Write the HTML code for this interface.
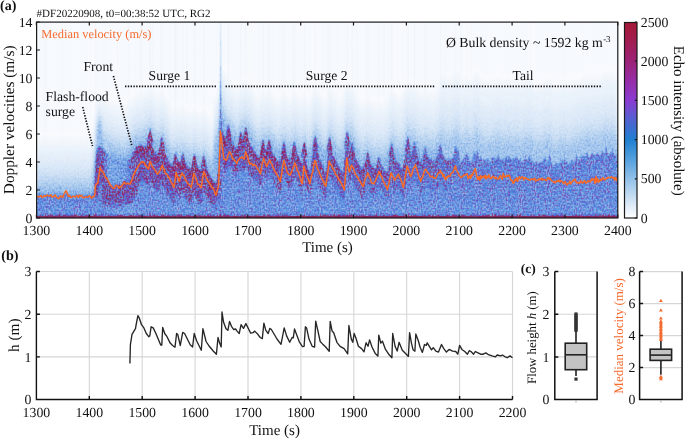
<!DOCTYPE html>
<html><head><meta charset="utf-8"><style>html,body{margin:0;padding:0;background:#fff;width:685px;height:439px;overflow:hidden;position:relative}</style></head>
<body>
<svg width="685" height="439" viewBox="0 0 685 439" style="position:absolute;left:0;top:0;will-change:transform;text-rendering:geometricPrecision" font-family='"Liberation Serif", serif'>
<defs>
<filter id="hm" filterUnits="userSpaceOnUse" x="36.4" y="22" width="581.4" height="196" color-interpolation-filters="sRGB">
<feGaussianBlur in="SourceGraphic" stdDeviation="0.6 1.1" result="b"/>
<feTurbulence type="fractalNoise" baseFrequency="0.93 0.6" numOctaves="2" seed="5" result="n"/>
<feColorMatrix in="n" type="matrix" values="1 0 0 0 0 1 0 0 0 0 1 0 0 0 0 0 0 0 0 1" result="ng0"/>
<feComponentTransfer in="ng0" result="ng"><feFuncR type="gamma" amplitude="2.9" exponent="3" offset="0"/><feFuncG type="gamma" amplitude="2.9" exponent="3" offset="0"/><feFuncB type="gamma" amplitude="2.9" exponent="3" offset="0"/></feComponentTransfer>
<feComponentTransfer in="b" result="b2"><feFuncR type="gamma" amplitude="1" exponent="1.6" offset="0"/><feFuncG type="gamma" amplitude="1" exponent="1.6" offset="0"/><feFuncB type="gamma" amplitude="1" exponent="1.6" offset="0"/></feComponentTransfer>
<feComposite in="b2" in2="ng" operator="arithmetic" k1="1" k2="0" k3="0" k4="0" result="m"/>
<feComposite in="b" in2="b2" operator="arithmetic" k1="0" k2="1" k3="-0.946" k4="0" result="t1"/>
<feComposite in="t1" in2="m" operator="arithmetic" k1="0" k2="1" k3="2.2" k4="0" result="c"/>
<feComponentTransfer in="c">
<feFuncR type="table" tableValues="1.000 0.831 0.627 0.431 0.282 0.333 0.471 0.529 0.569 0.596 0.627"/>
<feFuncG type="table" tableValues="1.000 0.894 0.769 0.627 0.510 0.392 0.267 0.188 0.141 0.118 0.094"/>
<feFuncB type="table" tableValues="1.000 0.965 0.925 0.894 0.863 0.824 0.745 0.588 0.431 0.314 0.227"/>
</feComponentTransfer>
<feConvolveMatrix order="3" kernelMatrix="0 1 0 1 4 1 0 1 0" edgeMode="duplicate" preserveAlpha="true"/>
</filter>
<filter id="hb" filterUnits="userSpaceOnUse" x="0" y="0" width="685" height="260" color-interpolation-filters="sRGB"><feGaussianBlur stdDeviation="0.8 4"/></filter>
<linearGradient id="pb" gradientUnits="userSpaceOnUse" x1="36.4" y1="0" x2="617.8" y2="0">
<stop offset="0" stop-color="rgb(112,112,112)"/>
<stop offset="0.099" stop-color="rgb(112,112,112)"/>
<stop offset="0.103" stop-color="rgb(184,184,184)"/>
<stop offset="0.307" stop-color="rgb(189,189,189)"/>
<stop offset="0.505" stop-color="rgb(184,184,184)"/>
<stop offset="0.694" stop-color="rgb(163,163,163)"/>
<stop offset="0.763" stop-color="rgb(138,138,138)"/>
<stop offset="1" stop-color="rgb(133,133,133)"/>
</linearGradient>
<linearGradient id="cb" x1="0" y1="0" x2="0" y2="1"><stop offset="0.00" stop-color="rgb(165, 24, 55)"/><stop offset="0.10" stop-color="rgb(161, 30, 82)"/><stop offset="0.20" stop-color="rgb(156, 36, 120)"/><stop offset="0.30" stop-color="rgb(150, 45, 168)"/><stop offset="0.40" stop-color="rgb(138, 60, 210)"/><stop offset="0.50" stop-color="rgb(80, 98, 208)"/><stop offset="0.60" stop-color="rgb(31, 128, 208)"/><stop offset="0.70" stop-color="rgb(84, 160, 221)"/><stop offset="0.80" stop-color="rgb(146, 193, 233)"/><stop offset="0.90" stop-color="rgb(203, 224, 243)"/><stop offset="1.00" stop-color="rgb(255, 255, 255)"/></linearGradient>
</defs>
<rect width="685" height="439" fill="#fff"/>
<g filter="url(#hm)">
<rect x="36.4" y="22" width="581.4" height="196" fill="rgb(5,5,5)"/>
<rect x="299.4" y="22" width="1.2" height="196" fill="rgb(7,7,7)"/>
<rect x="533.5" y="22" width="0.8" height="196" fill="rgb(6,6,6)"/>
<rect x="334.0" y="22" width="0.8" height="196" fill="rgb(6,6,6)"/>
<rect x="212.8" y="22" width="0.6" height="196" fill="rgb(7,7,7)"/>
<rect x="554.1" y="22" width="0.6" height="196" fill="rgb(7,7,7)"/>
<rect x="266.7" y="22" width="1.2" height="196" fill="rgb(7,7,7)"/>
<rect x="394.3" y="22" width="0.8" height="196" fill="rgb(7,7,7)"/>
<rect x="520.0" y="22" width="0.6" height="196" fill="rgb(6,6,6)"/>
<rect x="147.0" y="22" width="0.8" height="196" fill="rgb(7,7,7)"/>
<rect x="488.8" y="22" width="1.0" height="196" fill="rgb(7,7,7)"/>
<rect x="526.2" y="22" width="0.8" height="196" fill="rgb(7,7,7)"/>
<rect x="327.0" y="22" width="0.6" height="196" fill="rgb(7,7,7)"/>
<rect x="198.1" y="22" width="0.6" height="196" fill="rgb(8,8,8)"/>
<rect x="219.7" y="22" width="0.8" height="196" fill="rgb(7,7,7)"/>
<rect x="53.7" y="22" width="0.6" height="196" fill="rgb(7,7,7)"/>
<rect x="528.6" y="22" width="1.2" height="196" fill="rgb(6,6,6)"/>
<rect x="46.2" y="22" width="0.6" height="196" fill="rgb(6,6,6)"/>
<rect x="575.4" y="22" width="0.6" height="196" fill="rgb(7,7,7)"/>
<rect x="606.4" y="22" width="1.2" height="196" fill="rgb(7,7,7)"/>
<rect x="365.6" y="22" width="0.8" height="196" fill="rgb(8,8,8)"/>
<rect x="193.2" y="22" width="0.6" height="196" fill="rgb(6,6,6)"/>
<rect x="45.2" y="22" width="1.2" height="196" fill="rgb(8,8,8)"/>
<rect x="105.0" y="22" width="0.8" height="196" fill="rgb(8,8,8)"/>
<rect x="42.8" y="22" width="1.2" height="196" fill="rgb(8,8,8)"/>
<rect x="139.7" y="22" width="0.8" height="196" fill="rgb(7,7,7)"/>
<rect x="147.3" y="22" width="0.8" height="196" fill="rgb(7,7,7)"/>
<rect x="259.5" y="22" width="1.2" height="196" fill="rgb(7,7,7)"/>
<rect x="160.2" y="22" width="1.0" height="196" fill="rgb(8,8,8)"/>
<rect x="603.2" y="22" width="1.0" height="196" fill="rgb(8,8,8)"/>
<rect x="47.8" y="22" width="0.8" height="196" fill="rgb(7,7,7)"/>
<rect x="533.1" y="22" width="0.6" height="196" fill="rgb(5,5,5)"/>
<rect x="121.5" y="22" width="1.2" height="196" fill="rgb(6,6,6)"/>
<rect x="485.6" y="22" width="1.0" height="196" fill="rgb(8,8,8)"/>
<rect x="260.9" y="22" width="0.6" height="196" fill="rgb(6,6,6)"/>
<rect x="375.2" y="22" width="0.8" height="196" fill="rgb(5,5,5)"/>
<rect x="250.7" y="22" width="1.2" height="196" fill="rgb(6,6,6)"/>
<rect x="377.8" y="22" width="0.8" height="196" fill="rgb(8,8,8)"/>
<rect x="142.7" y="22" width="0.8" height="196" fill="rgb(6,6,6)"/>
<rect x="169.2" y="22" width="0.8" height="196" fill="rgb(8,8,8)"/>
<rect x="128.5" y="22" width="0.8" height="196" fill="rgb(7,7,7)"/>
<rect x="262.1" y="22" width="1.2" height="196" fill="rgb(7,7,7)"/>
<rect x="281.4" y="22" width="0.6" height="196" fill="rgb(6,6,6)"/>
<rect x="334.3" y="22" width="1.0" height="196" fill="rgb(6,6,6)"/>
<rect x="446.0" y="22" width="1.0" height="196" fill="rgb(7,7,7)"/>
<rect x="562.5" y="22" width="1.2" height="196" fill="rgb(6,6,6)"/>
<rect x="138.4" y="22" width="0.6" height="196" fill="rgb(6,6,6)"/>
<rect x="315.1" y="22" width="0.6" height="196" fill="rgb(6,6,6)"/>
<rect x="569.8" y="22" width="0.8" height="196" fill="rgb(8,8,8)"/>
<rect x="76.6" y="22" width="1.2" height="196" fill="rgb(7,7,7)"/>
<rect x="71.5" y="22" width="0.8" height="196" fill="rgb(6,6,6)"/>
<rect x="345.1" y="22" width="0.8" height="196" fill="rgb(6,6,6)"/>
<rect x="116.9" y="22" width="1.2" height="196" fill="rgb(8,8,8)"/>
<rect x="418.3" y="22" width="0.8" height="196" fill="rgb(7,7,7)"/>
<rect x="573.4" y="22" width="1.2" height="196" fill="rgb(8,8,8)"/>
<rect x="443.9" y="22" width="0.6" height="196" fill="rgb(5,5,5)"/>
<rect x="406.3" y="22" width="1.2" height="196" fill="rgb(6,6,6)"/>
<rect x="217.3" y="22" width="0.8" height="196" fill="rgb(8,8,8)"/>
<rect x="80.2" y="22" width="1.0" height="196" fill="rgb(8,8,8)"/>
<rect x="559.8" y="22" width="0.8" height="196" fill="rgb(8,8,8)"/>
<rect x="568.4" y="22" width="1.0" height="196" fill="rgb(6,6,6)"/>
<rect x="311.6" y="22" width="0.6" height="196" fill="rgb(8,8,8)"/>
<rect x="278.9" y="22" width="0.6" height="196" fill="rgb(8,8,8)"/>
<rect x="369.4" y="22" width="1.2" height="196" fill="rgb(7,7,7)"/>
<rect x="43.6" y="22" width="0.6" height="196" fill="rgb(6,6,6)"/>
<rect x="408.1" y="22" width="1.0" height="196" fill="rgb(8,8,8)"/>
<rect x="459.8" y="22" width="1.2" height="196" fill="rgb(8,8,8)"/>
<rect x="440.0" y="22" width="1.2" height="196" fill="rgb(7,7,7)"/>
<rect x="523.8" y="22" width="0.6" height="196" fill="rgb(7,7,7)"/>
<rect x="335.5" y="22" width="1.0" height="196" fill="rgb(7,7,7)"/>
<rect x="316.0" y="22" width="0.8" height="196" fill="rgb(8,8,8)"/>
<rect x="102.0" y="22" width="1.2" height="196" fill="rgb(6,6,6)"/>
<rect x="43.0" y="22" width="1.0" height="196" fill="rgb(6,6,6)"/>
<rect x="392.1" y="22" width="0.8" height="196" fill="rgb(8,8,8)"/>
<rect x="235.5" y="22" width="1.2" height="196" fill="rgb(7,7,7)"/>
<rect x="176.8" y="22" width="1.2" height="196" fill="rgb(7,7,7)"/>
<rect x="151.8" y="22" width="1.2" height="196" fill="rgb(8,8,8)"/>
<rect x="475.1" y="22" width="0.8" height="196" fill="rgb(8,8,8)"/>
<rect x="259.9" y="22" width="1.0" height="196" fill="rgb(6,6,6)"/>
<rect x="114.6" y="22" width="1.0" height="196" fill="rgb(8,8,8)"/>
<rect x="529.8" y="22" width="0.6" height="196" fill="rgb(8,8,8)"/>
<rect x="197.3" y="22" width="0.8" height="196" fill="rgb(6,6,6)"/>
<rect x="310.4" y="22" width="0.8" height="196" fill="rgb(8,8,8)"/>
<rect x="258.8" y="22" width="1.2" height="196" fill="rgb(7,7,7)"/>
<rect x="452.8" y="22" width="1.2" height="196" fill="rgb(6,6,6)"/>
<rect x="518.2" y="22" width="1.0" height="196" fill="rgb(8,8,8)"/>
<rect x="60.5" y="22" width="1.0" height="196" fill="rgb(7,7,7)"/>
<rect x="216.1" y="22" width="0.6" height="196" fill="rgb(7,7,7)"/>
<rect x="272.0" y="22" width="0.8" height="196" fill="rgb(5,5,5)"/>
<rect x="518.8" y="22" width="0.8" height="196" fill="rgb(8,8,8)"/>
<rect x="499.7" y="22" width="0.6" height="196" fill="rgb(7,7,7)"/>
<rect x="402.7" y="22" width="1.0" height="196" fill="rgb(8,8,8)"/>
<rect x="434.4" y="22" width="0.8" height="196" fill="rgb(8,8,8)"/>
<rect x="185.3" y="22" width="0.6" height="196" fill="rgb(8,8,8)"/>
<rect x="347.4" y="22" width="0.6" height="196" fill="rgb(6,6,6)"/>
<rect x="194.7" y="22" width="1.0" height="196" fill="rgb(7,7,7)"/>
<rect x="586.9" y="22" width="0.8" height="196" fill="rgb(7,7,7)"/>
<rect x="496.8" y="22" width="0.8" height="196" fill="rgb(6,6,6)"/>
<rect x="578.6" y="22" width="1.2" height="196" fill="rgb(6,6,6)"/>
<rect x="300.1" y="22" width="0.6" height="196" fill="rgb(7,7,7)"/>
<rect x="367.1" y="22" width="1.0" height="196" fill="rgb(7,7,7)"/>
<rect x="415.1" y="22" width="0.8" height="196" fill="rgb(6,6,6)"/>
<rect x="540.0" y="22" width="0.6" height="196" fill="rgb(6,6,6)"/>
<rect x="559.7" y="22" width="0.6" height="196" fill="rgb(8,8,8)"/>
<rect x="348.6" y="22" width="1.0" height="196" fill="rgb(6,6,6)"/>
<rect x="454.0" y="22" width="0.6" height="196" fill="rgb(6,6,6)"/>
<rect x="84.5" y="22" width="1.2" height="196" fill="rgb(6,6,6)"/>
<rect x="281.4" y="22" width="1.0" height="196" fill="rgb(7,7,7)"/>
<rect x="52.9" y="22" width="0.6" height="196" fill="rgb(7,7,7)"/>
<rect x="56.8" y="22" width="1.0" height="196" fill="rgb(7,7,7)"/>
<rect x="569.0" y="22" width="1.2" height="196" fill="rgb(6,6,6)"/>
<rect x="336.7" y="22" width="1.2" height="196" fill="rgb(8,8,8)"/>
<rect x="322.8" y="22" width="0.6" height="196" fill="rgb(8,8,8)"/>
<rect x="291.9" y="22" width="1.0" height="196" fill="rgb(8,8,8)"/>
<rect x="362.9" y="22" width="0.8" height="196" fill="rgb(7,7,7)"/>
<rect x="526.9" y="22" width="1.0" height="196" fill="rgb(6,6,6)"/>
<rect x="258.0" y="22" width="0.8" height="196" fill="rgb(6,6,6)"/>
<rect x="118.5" y="22" width="1.0" height="196" fill="rgb(7,7,7)"/>
<rect x="153.2" y="22" width="0.6" height="196" fill="rgb(7,7,7)"/>
<rect x="388.3" y="22" width="0.6" height="196" fill="rgb(7,7,7)"/>
<rect x="62.0" y="22" width="1.2" height="196" fill="rgb(7,7,7)"/>
<rect x="611.6" y="22" width="0.6" height="196" fill="rgb(7,7,7)"/>
<rect x="438.1" y="22" width="0.6" height="196" fill="rgb(8,8,8)"/>
<rect x="303.2" y="22" width="1.2" height="196" fill="rgb(6,6,6)"/>
<rect x="311.5" y="22" width="0.8" height="196" fill="rgb(6,6,6)"/>
<rect x="560.2" y="22" width="1.2" height="196" fill="rgb(7,7,7)"/>
<rect x="99.5" y="22" width="1.2" height="196" fill="rgb(7,7,7)"/>
<rect x="574.4" y="22" width="0.8" height="196" fill="rgb(8,8,8)"/>
<rect x="604.6" y="22" width="0.6" height="196" fill="rgb(6,6,6)"/>
<rect x="168.5" y="22" width="1.0" height="196" fill="rgb(6,6,6)"/>
<rect x="243.0" y="22" width="1.2" height="196" fill="rgb(6,6,6)"/>
<rect x="461.3" y="22" width="0.6" height="196" fill="rgb(8,8,8)"/>
<rect x="398.9" y="22" width="0.8" height="196" fill="rgb(8,8,8)"/>
<rect x="547.3" y="22" width="0.6" height="196" fill="rgb(7,7,7)"/>
<rect x="276.8" y="22" width="0.8" height="196" fill="rgb(7,7,7)"/>
<rect x="538.6" y="22" width="0.8" height="196" fill="rgb(7,7,7)"/>
<rect x="531.3" y="22" width="0.8" height="196" fill="rgb(6,6,6)"/>
<rect x="467.1" y="22" width="1.0" height="196" fill="rgb(8,8,8)"/>
<rect x="220.0" y="22" width="1.0" height="196" fill="rgb(8,8,8)"/>
<rect x="149.6" y="22" width="0.8" height="196" fill="rgb(8,8,8)"/>
<rect x="114.3" y="22" width="0.8" height="196" fill="rgb(6,6,6)"/>
<rect x="87.6" y="22" width="1.2" height="196" fill="rgb(6,6,6)"/>
<rect x="520.2" y="22" width="1.2" height="196" fill="rgb(7,7,7)"/>
<rect x="446.2" y="22" width="0.8" height="196" fill="rgb(7,7,7)"/>
<rect x="434.8" y="22" width="0.6" height="196" fill="rgb(6,6,6)"/>
<rect x="367.7" y="22" width="1.0" height="196" fill="rgb(8,8,8)"/>
<rect x="599.4" y="22" width="0.6" height="196" fill="rgb(8,8,8)"/>
<rect x="405.4" y="22" width="1.0" height="196" fill="rgb(7,7,7)"/>
<rect x="435.1" y="22" width="0.8" height="196" fill="rgb(8,8,8)"/>
<rect x="316.7" y="22" width="0.6" height="196" fill="rgb(5,5,5)"/>
<rect x="357.1" y="22" width="1.2" height="196" fill="rgb(6,6,6)"/>
<rect x="143.7" y="22" width="0.8" height="196" fill="rgb(6,6,6)"/>
<rect x="128.3" y="22" width="1.0" height="196" fill="rgb(8,8,8)"/>
<rect x="91.8" y="22" width="0.6" height="196" fill="rgb(6,6,6)"/>
<rect x="432.3" y="22" width="0.6" height="196" fill="rgb(8,8,8)"/>
<rect x="226.4" y="22" width="1.2" height="196" fill="rgb(7,7,7)"/>
<rect x="242.5" y="22" width="0.8" height="196" fill="rgb(7,7,7)"/>
<rect x="44.1" y="22" width="0.6" height="196" fill="rgb(8,8,8)"/>
<rect x="141.8" y="22" width="1.2" height="196" fill="rgb(6,6,6)"/>
<rect x="251.6" y="22" width="0.8" height="196" fill="rgb(7,7,7)"/>
<rect x="91.5" y="22" width="0.6" height="196" fill="rgb(6,6,6)"/>
<rect x="85.7" y="22" width="1.2" height="196" fill="rgb(7,7,7)"/>
<rect x="147.4" y="22" width="1.0" height="196" fill="rgb(8,8,8)"/>
<rect x="186.6" y="22" width="0.6" height="196" fill="rgb(8,8,8)"/>
<rect x="488.7" y="22" width="1.2" height="196" fill="rgb(6,6,6)"/>
<rect x="228.2" y="22" width="1.0" height="196" fill="rgb(8,8,8)"/>
<rect x="481.3" y="22" width="1.2" height="196" fill="rgb(6,6,6)"/>
<rect x="143.9" y="22" width="1.0" height="196" fill="rgb(6,6,6)"/>
<rect x="95.0" y="22" width="1.0" height="196" fill="rgb(8,8,8)"/>
<rect x="561.2" y="22" width="0.6" height="196" fill="rgb(6,6,6)"/>
<rect x="585.6" y="22" width="1.0" height="196" fill="rgb(6,6,6)"/>
<rect x="420.0" y="22" width="0.8" height="196" fill="rgb(7,7,7)"/>
<rect x="262.9" y="22" width="1.2" height="196" fill="rgb(7,7,7)"/>
<rect x="444.1" y="22" width="1.2" height="196" fill="rgb(8,8,8)"/>
<rect x="49.7" y="22" width="0.6" height="196" fill="rgb(8,8,8)"/>
<rect x="185.6" y="22" width="1.2" height="196" fill="rgb(7,7,7)"/>
<rect x="479.0" y="22" width="1.2" height="196" fill="rgb(5,5,5)"/>
<rect x="186.7" y="22" width="1.0" height="196" fill="rgb(8,8,8)"/>
<rect x="356.2" y="22" width="1.2" height="196" fill="rgb(8,8,8)"/>
<rect x="366.6" y="22" width="0.6" height="196" fill="rgb(7,7,7)"/>
<rect x="507.1" y="22" width="0.6" height="196" fill="rgb(7,7,7)"/>
<rect x="425.0" y="22" width="0.6" height="196" fill="rgb(7,7,7)"/>
<rect x="582.1" y="22" width="1.2" height="196" fill="rgb(7,7,7)"/>
<rect x="134.7" y="22" width="1.2" height="196" fill="rgb(7,7,7)"/>
<rect x="383.2" y="22" width="1.2" height="196" fill="rgb(8,8,8)"/>
<rect x="281.0" y="22" width="1.2" height="196" fill="rgb(7,7,7)"/>
<rect x="248.9" y="22" width="1.0" height="196" fill="rgb(7,7,7)"/>
<rect x="193.2" y="22" width="1.0" height="196" fill="rgb(7,7,7)"/>
<rect x="471.1" y="22" width="0.6" height="196" fill="rgb(5,5,5)"/>
<rect x="178.9" y="22" width="0.6" height="196" fill="rgb(7,7,7)"/>
<rect x="274.1" y="22" width="1.2" height="196" fill="rgb(6,6,6)"/>
<rect x="219.6" y="22" width="1.2" height="196" fill="rgb(6,6,6)"/>
<rect x="611.3" y="22" width="1.0" height="196" fill="rgb(6,6,6)"/>
<rect x="562.9" y="22" width="1.2" height="196" fill="rgb(8,8,8)"/>
<rect x="182.3" y="22" width="0.8" height="196" fill="rgb(5,5,5)"/>
<rect x="93.7" y="22" width="1.2" height="196" fill="rgb(6,6,6)"/>
<rect x="594.5" y="22" width="0.8" height="196" fill="rgb(7,7,7)"/>
<rect x="103.3" y="22" width="1.2" height="196" fill="rgb(7,7,7)"/>
<rect x="154.8" y="22" width="0.6" height="196" fill="rgb(6,6,6)"/>
<rect x="126.4" y="22" width="1.0" height="196" fill="rgb(7,7,7)"/>
<rect x="424.7" y="22" width="1.2" height="196" fill="rgb(7,7,7)"/>
<rect x="408.3" y="22" width="1.2" height="196" fill="rgb(6,6,6)"/>
<rect x="468.9" y="22" width="0.8" height="196" fill="rgb(8,8,8)"/>
<rect x="463.3" y="22" width="0.8" height="196" fill="rgb(7,7,7)"/>
<rect x="328.8" y="22" width="1.0" height="196" fill="rgb(8,8,8)"/>
<rect x="399.8" y="22" width="1.0" height="196" fill="rgb(6,6,6)"/>
<rect x="390.9" y="22" width="0.8" height="196" fill="rgb(7,7,7)"/>
<rect x="474.4" y="22" width="0.8" height="196" fill="rgb(8,8,8)"/>
<rect x="328.3" y="22" width="0.8" height="196" fill="rgb(8,8,8)"/>
<rect x="59.4" y="22" width="0.6" height="196" fill="rgb(5,5,5)"/>
<rect x="187.3" y="22" width="0.6" height="196" fill="rgb(7,7,7)"/>
<rect x="96.0" y="22" width="1.0" height="196" fill="rgb(6,6,6)"/>
<rect x="86.7" y="22" width="0.8" height="196" fill="rgb(7,7,7)"/>
<rect x="403.3" y="22" width="1.0" height="196" fill="rgb(7,7,7)"/>
<rect x="242.3" y="22" width="1.0" height="196" fill="rgb(6,6,6)"/>
<rect x="469.4" y="22" width="0.6" height="196" fill="rgb(8,8,8)"/>
<rect x="296.5" y="22" width="0.8" height="196" fill="rgb(7,7,7)"/>
<rect x="470.9" y="22" width="1.2" height="196" fill="rgb(8,8,8)"/>
<rect x="250.9" y="22" width="1.0" height="196" fill="rgb(6,6,6)"/>
<rect x="477.7" y="22" width="0.8" height="196" fill="rgb(7,7,7)"/>
<rect x="251.1" y="22" width="0.6" height="196" fill="rgb(7,7,7)"/>
<rect x="128.1" y="22" width="1" height="136.0" fill="rgb(11,11,11)"/>
<rect x="128.0" y="133.0" width="1.2" height="25" fill="rgb(41,41,41)"/>
<rect x="140.6" y="22" width="1" height="122.4" fill="rgb(11,11,11)"/>
<rect x="140.5" y="119.4" width="1.2" height="25" fill="rgb(41,41,41)"/>
<rect x="149.7" y="22" width="1" height="112.6" fill="rgb(11,11,11)"/>
<rect x="149.6" y="109.6" width="1.2" height="25" fill="rgb(41,41,41)"/>
<rect x="161.5" y="22" width="1" height="120.0" fill="rgb(11,11,11)"/>
<rect x="161.4" y="117.0" width="1.2" height="25" fill="rgb(41,41,41)"/>
<rect x="175.0" y="22" width="1" height="136.0" fill="rgb(11,11,11)"/>
<rect x="174.9" y="133.0" width="1.2" height="25" fill="rgb(41,41,41)"/>
<rect x="182.4" y="22" width="1" height="136.0" fill="rgb(11,11,11)"/>
<rect x="182.3" y="133.0" width="1.2" height="25" fill="rgb(41,41,41)"/>
<rect x="193.9" y="22" width="1" height="137.2" fill="rgb(11,11,11)"/>
<rect x="193.8" y="134.2" width="1.2" height="25" fill="rgb(41,41,41)"/>
<rect x="203.3" y="22" width="1" height="138.4" fill="rgb(11,11,11)"/>
<rect x="203.2" y="135.4" width="1.2" height="25" fill="rgb(41,41,41)"/>
<rect x="219.4" y="22" width="1" height="90.0" fill="rgb(11,11,11)"/>
<rect x="219.3" y="87.0" width="1.2" height="25" fill="rgb(41,41,41)"/>
<rect x="228.0" y="22" width="1" height="107.7" fill="rgb(11,11,11)"/>
<rect x="227.9" y="104.7" width="1.2" height="25" fill="rgb(41,41,41)"/>
<rect x="240.3" y="22" width="1" height="115.0" fill="rgb(11,11,11)"/>
<rect x="240.2" y="112.0" width="1.2" height="25" fill="rgb(41,41,41)"/>
<rect x="245.2" y="22" width="1" height="110.1" fill="rgb(11,11,11)"/>
<rect x="245.1" y="107.1" width="1.2" height="25" fill="rgb(41,41,41)"/>
<rect x="262.5" y="22" width="1" height="122.4" fill="rgb(11,11,11)"/>
<rect x="262.4" y="119.4" width="1.2" height="25" fill="rgb(41,41,41)"/>
<rect x="268.6" y="22" width="1" height="122.4" fill="rgb(11,11,11)"/>
<rect x="268.5" y="119.4" width="1.2" height="25" fill="rgb(41,41,41)"/>
<rect x="283.4" y="22" width="1" height="124.9" fill="rgb(11,11,11)"/>
<rect x="283.3" y="121.9" width="1.2" height="25" fill="rgb(41,41,41)"/>
<rect x="293.7" y="22" width="1" height="124.9" fill="rgb(11,11,11)"/>
<rect x="293.6" y="121.9" width="1.2" height="25" fill="rgb(41,41,41)"/>
<rect x="303.9" y="22" width="1" height="125.0" fill="rgb(11,11,11)"/>
<rect x="303.8" y="122.0" width="1.2" height="25" fill="rgb(41,41,41)"/>
<rect x="314.8" y="22" width="1" height="118.8" fill="rgb(11,11,11)"/>
<rect x="314.7" y="115.8" width="1.2" height="25" fill="rgb(41,41,41)"/>
<rect x="329.1" y="22" width="1" height="120.0" fill="rgb(11,11,11)"/>
<rect x="329.0" y="117.0" width="1.2" height="25" fill="rgb(41,41,41)"/>
<rect x="346.8" y="22" width="1" height="115.1" fill="rgb(11,11,11)"/>
<rect x="346.7" y="112.1" width="1.2" height="25" fill="rgb(41,41,41)"/>
<rect x="351.7" y="22" width="1" height="125.0" fill="rgb(11,11,11)"/>
<rect x="351.6" y="122.0" width="1.2" height="25" fill="rgb(41,41,41)"/>
<rect x="367.2" y="22" width="1" height="134.8" fill="rgb(11,11,11)"/>
<rect x="367.1" y="131.8" width="1.2" height="25" fill="rgb(41,41,41)"/>
<rect x="378.3" y="22" width="1" height="139.7" fill="rgb(11,11,11)"/>
<rect x="378.2" y="136.7" width="1.2" height="25" fill="rgb(41,41,41)"/>
<rect x="391.1" y="22" width="1" height="126.2" fill="rgb(11,11,11)"/>
<rect x="391.0" y="123.2" width="1.2" height="25" fill="rgb(41,41,41)"/>
<rect x="407.4" y="22" width="1" height="120.0" fill="rgb(11,11,11)"/>
<rect x="407.3" y="117.0" width="1.2" height="25" fill="rgb(41,41,41)"/>
<rect x="414.0" y="22" width="1" height="125.0" fill="rgb(11,11,11)"/>
<rect x="413.9" y="122.0" width="1.2" height="25" fill="rgb(41,41,41)"/>
<rect x="424.6" y="22" width="1" height="129.9" fill="rgb(11,11,11)"/>
<rect x="424.5" y="126.9" width="1.2" height="25" fill="rgb(41,41,41)"/>
<rect x="439.9" y="22" width="1" height="127.4" fill="rgb(11,11,11)"/>
<rect x="439.8" y="124.4" width="1.2" height="25" fill="rgb(41,41,41)"/>
<rect x="455.2" y="22" width="1" height="128.6" fill="rgb(11,11,11)"/>
<rect x="455.1" y="125.6" width="1.2" height="25" fill="rgb(41,41,41)"/>
<g filter="url(#hb)">
<path d="M36.4,142.6 L37.4,142.6 L38.4,142.6 L39.4,142.7 L40.4,142.7 L41.4,142.7 L42.4,142.7 L43.4,142.7 L44.4,142.8 L45.4,142.8 L46.4,142.8 L47.4,142.8 L48.4,142.8 L49.4,142.9 L50.4,142.9 L51.4,142.9 L52.4,142.9 L53.4,142.9 L54.4,143.0 L55.4,143.0 L56.4,143.0 L57.4,143.0 L58.4,143.0 L59.4,143.1 L60.4,143.1 L61.4,143.1 L62.4,143.1 L63.4,143.1 L64.4,143.1 L65.4,143.1 L66.4,143.1 L67.4,143.1 L68.4,143.1 L69.4,143.1 L70.4,143.1 L71.4,143.1 L72.4,143.1 L73.4,143.1 L74.4,143.1 L75.4,143.1 L76.4,143.1 L77.4,143.1 L78.4,143.1 L79.4,143.1 L80.4,143.1 L81.4,143.1 L82.4,143.1 L83.4,143.1 L84.4,143.1 L85.4,143.1 L86.4,143.1 L87.4,143.1 L88.4,143.1 L89.4,143.1 L90.4,143.1 L91.4,143.1 L92.4,138.4 L93.4,128.7 L94.4,120.9 L95.4,109.8 L96.4,102.3 L97.4,100.5 L98.4,99.7 L99.4,99.3 L100.4,99.5 L101.4,99.7 L102.4,100.2 L103.4,101.2 L104.4,102.1 L105.4,103.1 L106.4,103.9 L107.4,104.4 L108.4,104.9 L109.4,105.4 L110.4,105.9 L111.4,106.4 L112.4,106.9 L113.4,107.4 L114.4,107.9 L115.4,108.4 L116.4,108.9 L117.4,109.4 L118.4,109.9 L119.4,110.4 L120.4,109.9 L121.4,110.3 L122.4,110.8 L123.4,111.2 L124.4,111.7 L125.4,111.1 L126.4,109.6 L127.4,108.2 L128.4,107.1 L129.4,106.7 L130.4,105.8 L131.4,104.0 L132.4,102.7 L133.4,101.3 L134.4,100.4 L135.4,99.6 L136.4,98.9 L137.4,98.3 L138.4,98.1 L139.4,97.9 L140.4,97.8 L141.4,97.7 L142.4,98.0 L143.4,96.5 L144.4,94.6 L145.4,94.5 L146.4,94.2 L147.4,93.8 L148.4,93.5 L149.4,91.6 L150.4,89.3 L151.4,92.7 L152.4,95.0 L153.4,95.8 L154.4,96.7 L155.4,97.6 L156.4,98.4 L157.4,101.7 L158.4,100.3 L159.4,99.0 L160.4,97.6 L161.4,96.2 L162.4,96.2 L163.4,98.2 L164.4,100.2 L165.4,101.4 L166.4,102.5 L167.4,103.6 L168.4,105.4 L169.4,108.5 L170.4,111.1 L171.4,112.7 L172.4,114.3 L173.4,115.0 L174.4,113.3 L175.4,111.5 L176.4,112.0 L177.4,112.5 L178.4,113.1 L179.4,113.5 L180.4,112.9 L181.4,112.2 L182.4,111.5 L183.4,111.6 L184.4,112.5 L185.4,113.4 L186.4,114.3 L187.4,115.1 L188.4,115.7 L189.4,116.5 L190.4,116.9 L191.4,117.3 L192.4,115.8 L193.4,114.1 L194.4,112.4 L195.4,113.5 L196.4,114.6 L197.4,115.7 L198.4,116.8 L199.4,117.4 L200.4,117.7 L201.4,118.5 L202.4,116.5 L203.4,114.5 L204.4,114.6 L205.4,116.1 L206.4,117.6 L207.4,119.1 L208.4,120.0 L209.4,120.8 L210.4,122.4 L211.4,124.7 L212.4,127.0 L213.4,115.1 L214.4,100.2 L215.4,100.8 L216.4,100.2 L217.4,97.1 L218.4,94.0 L219.4,80.6 L220.4,67.8 L221.4,72.2 L222.4,74.5 L223.4,75.7 L224.4,77.0 L225.4,78.0 L226.4,81.6 L227.4,86.4 L228.4,83.5 L229.4,84.7 L230.4,86.6 L231.4,88.1 L232.4,89.0 L233.4,90.0 L234.4,90.9 L235.4,92.5 L236.4,94.6 L237.4,94.8 L238.4,94.3 L239.4,90.4 L240.4,87.9 L241.4,87.8 L242.4,89.2 L243.4,87.9 L244.4,86.3 L245.4,84.7 L246.4,85.4 L247.4,87.1 L248.4,88.6 L249.4,89.4 L250.4,90.3 L251.4,91.1 L252.4,92.8 L253.4,95.3 L254.4,97.5 L255.4,99.0 L256.4,100.5 L257.4,101.2 L258.4,101.9 L259.4,102.3 L260.4,100.4 L261.4,98.5 L262.4,96.6 L263.4,95.9 L264.4,97.2 L265.4,98.4 L266.4,97.5 L267.4,96.6 L268.4,95.7 L269.4,95.4 L270.4,96.6 L271.4,97.7 L272.4,98.8 L273.4,99.7 L274.4,100.4 L275.4,101.4 L276.4,103.3 L277.4,104.6 L278.4,104.5 L279.4,104.1 L280.4,102.4 L281.4,100.8 L282.4,99.1 L283.4,97.5 L284.4,97.4 L285.4,98.8 L286.4,100.3 L287.4,101.7 L288.4,102.4 L289.4,102.8 L290.4,102.6 L291.4,101.0 L292.4,99.3 L293.4,97.6 L294.4,96.5 L295.4,97.6 L296.4,98.6 L297.4,99.7 L298.4,100.6 L299.4,101.7 L300.4,102.8 L301.4,103.9 L302.4,104.5 L303.4,100.1 L304.4,95.6 L305.4,99.7 L306.4,103.2 L307.4,104.8 L308.4,105.5 L309.4,105.2 L310.4,104.3 L311.4,100.8 L312.4,97.4 L313.4,93.9 L314.4,91.3 L315.4,89.4 L316.4,92.3 L317.4,94.8 L318.4,96.0 L319.4,97.2 L320.4,98.4 L321.4,99.5 L322.4,103.6 L323.4,103.1 L324.4,104.3 L325.4,105.5 L326.4,103.8 L327.4,99.2 L328.4,94.6 L329.4,90.7 L330.4,91.8 L331.4,94.0 L332.4,95.8 L333.4,96.7 L334.4,97.6 L335.4,98.6 L336.4,100.7 L337.4,103.9 L338.4,106.5 L339.4,106.1 L340.4,103.1 L341.4,101.0 L342.4,101.9 L343.4,101.0 L344.4,96.0 L345.4,91.0 L346.4,87.1 L347.4,84.2 L348.4,87.8 L349.4,91.0 L350.4,90.1 L351.4,89.2 L352.4,88.8 L353.4,90.5 L354.4,95.8 L355.4,98.6 L356.4,99.5 L357.4,100.3 L358.4,101.3 L359.4,103.8 L360.4,106.4 L361.4,108.7 L362.4,108.0 L363.4,107.1 L364.4,106.2 L365.4,105.3 L366.4,104.0 L367.4,102.6 L368.4,102.9 L369.4,103.8 L370.4,104.8 L371.4,105.7 L372.4,106.3 L373.4,106.9 L374.4,108.0 L375.4,109.2 L376.4,108.9 L377.4,107.9 L378.4,106.8 L379.4,106.8 L380.4,107.5 L381.4,108.2 L382.4,108.9 L383.4,109.3 L384.4,107.0 L385.4,104.4 L386.4,104.7 L387.4,105.2 L388.4,102.2 L389.4,99.3 L390.4,96.3 L391.4,93.3 L392.4,94.0 L393.4,95.7 L394.4,97.4 L395.4,98.2 L396.4,98.5 L397.4,98.7 L398.4,99.9 L399.4,102.6 L400.4,101.7 L401.4,100.0 L402.4,99.0 L403.4,96.7 L404.4,94.3 L405.4,91.9 L406.4,89.3 L407.4,86.5 L408.4,86.2 L409.4,88.5 L410.4,90.8 L411.4,91.0 L412.4,89.8 L413.4,88.5 L414.4,88.5 L415.4,91.0 L416.4,92.2 L417.4,93.5 L418.4,94.7 L419.4,95.5 L420.4,96.2 L421.4,98.1 L422.4,98.9 L423.4,97.3 L424.4,95.5 L425.4,94.4 L426.4,95.1 L427.4,95.8 L428.4,96.5 L429.4,97.1 L430.4,97.4 L431.4,97.7 L432.4,98.6 L433.4,97.9 L434.4,97.0 L435.4,95.9 L436.4,94.9 L437.4,93.8 L438.4,92.8 L439.4,91.7 L440.4,77.4 L441.4,78.3 L442.4,79.2 L443.4,80.0 L444.4,80.9 L445.4,81.7 L446.4,81.9 L447.4,82.9 L448.4,84.0 L449.4,84.6 L450.4,84.4 L451.4,82.0 L452.4,80.3 L453.4,80.0 L454.4,79.0 L455.4,78.5 L456.4,79.0 L457.4,76.3 L458.4,76.0 L459.4,80.0 L460.4,83.4 L461.4,87.9 L462.4,86.3 L463.4,84.6 L464.4,83.0 L465.4,81.3 L466.4,80.4 L467.4,80.7 L468.4,82.7 L469.4,84.6 L470.4,87.4 L471.4,86.1 L472.4,82.8 L473.4,81.1 L474.4,79.0 L475.4,78.7 L476.4,78.6 L477.4,76.4 L478.4,80.2 L479.4,81.9 L480.4,82.8 L481.4,84.2 L482.4,85.1 L483.4,86.1 L484.4,87.1 L485.4,87.0 L486.4,86.3 L487.4,85.5 L488.4,85.8 L489.4,87.9 L490.4,87.2 L491.4,86.1 L492.4,84.4 L493.4,84.9 L494.4,85.2 L495.4,85.2 L496.4,83.6 L497.4,83.0 L498.4,81.3 L499.4,83.0 L500.4,84.1 L501.4,85.6 L502.4,86.2 L503.4,86.1 L504.4,84.7 L505.4,84.9 L506.4,84.7 L507.4,84.0 L508.4,83.8 L509.4,83.9 L510.4,84.8 L511.4,86.0 L512.4,86.5 L513.4,85.2 L514.4,84.7 L515.4,84.5 L516.4,82.8 L517.4,84.3 L518.4,85.3 L519.4,86.6 L520.4,87.5 L521.4,87.9 L522.4,87.9 L523.4,85.4 L524.4,84.2 L525.4,82.3 L526.4,84.4 L527.4,85.3 L528.4,83.4 L529.4,81.8 L530.4,81.9 L531.4,84.4 L532.4,85.6 L533.4,88.5 L534.4,89.2 L535.4,88.5 L536.4,88.3 L537.4,89.3 L538.4,89.5 L539.4,89.3 L540.4,88.9 L541.4,88.6 L542.4,87.3 L543.4,86.0 L544.4,84.7 L545.4,84.8 L546.4,87.0 L547.4,85.9 L548.4,84.7 L549.4,82.6 L550.4,84.3 L551.4,86.1 L552.4,89.3 L553.4,91.7 L554.4,91.3 L555.4,89.6 L556.4,90.0 L557.4,90.5 L558.4,89.9 L559.4,88.1 L560.4,87.0 L561.4,87.3 L562.4,87.8 L563.4,87.7 L564.4,85.6 L565.4,86.4 L566.4,87.3 L567.4,88.8 L568.4,90.2 L569.4,89.5 L570.4,88.3 L571.4,86.4 L572.4,86.0 L573.4,88.1 L574.4,86.4 L575.4,85.1 L576.4,83.6 L577.4,84.6 L578.4,85.3 L579.4,85.2 L580.4,83.9 L581.4,83.3 L582.4,83.4 L583.4,82.6 L584.4,81.9 L585.4,81.8 L586.4,79.8 L587.4,79.3 L588.4,81.6 L589.4,82.5 L590.4,82.1 L591.4,80.4 L592.4,80.7 L593.4,81.1 L594.4,81.8 L595.4,81.4 L596.4,81.0 L597.4,80.3 L598.4,80.8 L599.4,81.3 L600.4,80.9 L601.4,79.2 L602.4,78.4 L603.4,79.1 L604.4,77.6 L605.4,76.8 L606.4,74.4 L607.4,76.9 L608.4,78.6 L609.4,80.2 L610.4,78.1 L611.4,77.1 L612.4,75.5 L613.4,77.7 L614.4,79.2 L615.4,81.1 L616.4,81.1 L617.4,80.8 L617.8,220.0 L36.4,220.0Z" fill="rgb(13,13,13)"/>
<path d="M36.4,156.6 L37.4,156.6 L38.4,156.6 L39.4,156.7 L40.4,156.7 L41.4,156.7 L42.4,156.7 L43.4,156.7 L44.4,156.8 L45.4,156.8 L46.4,156.8 L47.4,156.8 L48.4,156.8 L49.4,156.9 L50.4,156.9 L51.4,156.9 L52.4,156.9 L53.4,156.9 L54.4,157.0 L55.4,157.0 L56.4,157.0 L57.4,157.0 L58.4,157.0 L59.4,157.1 L60.4,157.1 L61.4,157.1 L62.4,157.1 L63.4,157.1 L64.4,157.1 L65.4,157.1 L66.4,157.1 L67.4,157.1 L68.4,157.1 L69.4,157.1 L70.4,157.1 L71.4,157.1 L72.4,157.1 L73.4,157.1 L74.4,157.1 L75.4,157.1 L76.4,157.1 L77.4,157.1 L78.4,157.1 L79.4,157.1 L80.4,157.1 L81.4,157.1 L82.4,157.1 L83.4,157.1 L84.4,157.1 L85.4,157.1 L86.4,157.1 L87.4,157.1 L88.4,157.1 L89.4,157.1 L90.4,157.1 L91.4,157.1 L92.4,152.4 L93.4,142.7 L94.4,133.9 L95.4,122.8 L96.4,115.3 L97.4,113.5 L98.4,112.7 L99.4,112.3 L100.4,112.5 L101.4,112.7 L102.4,113.2 L103.4,114.2 L104.4,115.1 L105.4,116.1 L106.4,116.9 L107.4,117.4 L108.4,117.9 L109.4,118.4 L110.4,118.9 L111.4,119.4 L112.4,119.9 L113.4,120.4 L114.4,120.9 L115.4,121.4 L116.4,121.9 L117.4,122.4 L118.4,122.9 L119.4,123.4 L120.4,122.9 L121.4,123.3 L122.4,123.8 L123.4,124.2 L124.4,124.7 L125.4,124.1 L126.4,122.6 L127.4,121.2 L128.4,120.1 L129.4,119.7 L130.4,118.8 L131.4,117.0 L132.4,115.7 L133.4,114.3 L134.4,113.4 L135.4,112.6 L136.4,111.9 L137.4,111.3 L138.4,111.1 L139.4,110.9 L140.4,110.8 L141.4,110.7 L142.4,111.0 L143.4,109.5 L144.4,107.6 L145.4,107.5 L146.4,107.2 L147.4,106.8 L148.4,106.5 L149.4,104.6 L150.4,102.3 L151.4,105.7 L152.4,108.0 L153.4,108.8 L154.4,109.7 L155.4,110.6 L156.4,111.4 L157.4,114.7 L158.4,113.3 L159.4,112.0 L160.4,110.6 L161.4,109.2 L162.4,109.2 L163.4,111.2 L164.4,113.2 L165.4,114.4 L166.4,115.5 L167.4,116.6 L168.4,118.4 L169.4,121.5 L170.4,124.1 L171.4,125.7 L172.4,127.3 L173.4,128.0 L174.4,126.3 L175.4,124.5 L176.4,125.0 L177.4,125.5 L178.4,126.1 L179.4,126.5 L180.4,125.9 L181.4,125.2 L182.4,124.5 L183.4,124.6 L184.4,125.5 L185.4,126.4 L186.4,127.3 L187.4,128.1 L188.4,128.7 L189.4,129.5 L190.4,129.9 L191.4,130.3 L192.4,128.8 L193.4,127.1 L194.4,125.4 L195.4,126.5 L196.4,127.6 L197.4,128.7 L198.4,129.8 L199.4,130.4 L200.4,130.7 L201.4,131.5 L202.4,129.5 L203.4,127.5 L204.4,127.6 L205.4,129.1 L206.4,130.6 L207.4,132.1 L208.4,133.0 L209.4,133.8 L210.4,135.4 L211.4,137.7 L212.4,140.0 L213.4,128.1 L214.4,113.2 L215.4,113.8 L216.4,113.2 L217.4,110.1 L218.4,107.0 L219.4,93.6 L220.4,80.9 L221.4,85.2 L222.4,87.6 L223.4,88.8 L224.4,90.0 L225.4,91.1 L226.4,94.7 L227.4,99.5 L228.4,96.6 L229.4,97.8 L230.4,99.7 L231.4,101.3 L232.4,102.2 L233.4,103.2 L234.4,104.2 L235.4,105.8 L236.4,107.9 L237.4,108.1 L238.4,107.6 L239.4,103.7 L240.4,101.2 L241.4,101.1 L242.4,102.6 L243.4,101.3 L244.4,99.7 L245.4,98.1 L246.4,98.8 L247.4,100.5 L248.4,102.0 L249.4,102.9 L250.4,103.7 L251.4,104.6 L252.4,106.3 L253.4,108.8 L254.4,111.0 L255.4,112.5 L256.4,114.1 L257.4,114.8 L258.4,115.5 L259.4,115.9 L260.4,114.0 L261.4,112.1 L262.4,110.2 L263.4,109.6 L264.4,110.8 L265.4,112.1 L266.4,111.2 L267.4,110.3 L268.4,109.5 L269.4,109.2 L270.4,110.3 L271.4,111.4 L272.4,112.6 L273.4,113.5 L274.4,114.2 L275.4,115.2 L276.4,117.1 L277.4,118.4 L278.4,118.4 L279.4,118.0 L280.4,116.3 L281.4,114.7 L282.4,113.1 L283.4,111.4 L284.4,111.3 L285.4,112.8 L286.4,114.3 L287.4,115.7 L288.4,116.4 L289.4,116.8 L290.4,116.7 L291.4,115.0 L292.4,113.4 L293.4,111.7 L294.4,110.6 L295.4,111.7 L296.4,112.8 L297.4,113.9 L298.4,114.8 L299.4,115.9 L300.4,117.0 L301.4,118.1 L302.4,118.7 L303.4,114.3 L304.4,109.9 L305.4,114.0 L306.4,117.5 L307.4,119.1 L308.4,119.8 L309.4,119.6 L310.4,118.7 L311.4,115.2 L312.4,111.7 L313.4,108.3 L314.4,105.8 L315.4,103.9 L316.4,106.7 L317.4,109.3 L318.4,110.5 L319.4,111.7 L320.4,112.9 L321.4,114.1 L322.4,118.2 L323.4,117.6 L324.4,118.8 L325.4,120.1 L326.4,118.4 L327.4,113.8 L328.4,109.2 L329.4,105.4 L330.4,106.4 L331.4,108.7 L332.4,110.5 L333.4,111.4 L334.4,112.4 L335.4,113.3 L336.4,115.4 L337.4,118.6 L338.4,121.3 L339.4,120.9 L340.4,117.9 L341.4,115.9 L342.4,116.7 L343.4,115.8 L344.4,110.9 L345.4,105.9 L346.4,102.0 L347.4,99.1 L348.4,102.7 L349.4,105.9 L350.4,105.1 L351.4,104.2 L352.4,103.8 L353.4,105.5 L354.4,110.9 L355.4,113.7 L356.4,114.5 L357.4,115.4 L358.4,116.3 L359.4,118.9 L360.4,121.5 L361.4,123.8 L362.4,123.1 L363.4,122.3 L364.4,121.4 L365.4,120.5 L366.4,119.2 L367.4,117.8 L368.4,118.1 L369.4,119.1 L370.4,120.0 L371.4,121.0 L372.4,121.6 L373.4,122.2 L374.4,123.4 L375.4,124.5 L376.4,124.3 L377.4,123.2 L378.4,122.2 L379.4,122.2 L380.4,122.9 L381.4,123.6 L382.4,124.4 L383.4,124.8 L384.4,122.4 L385.4,119.9 L386.4,120.2 L387.4,120.7 L388.4,117.8 L389.4,114.8 L390.4,111.9 L391.4,108.8 L392.4,109.6 L393.4,111.3 L394.4,113.0 L395.4,113.8 L396.4,114.1 L397.4,114.4 L398.4,115.5 L399.4,118.3 L400.4,117.4 L401.4,115.7 L402.4,114.8 L403.4,112.4 L404.4,110.0 L405.4,107.7 L406.4,105.1 L407.4,102.3 L408.4,102.0 L409.4,104.3 L410.4,106.6 L411.4,106.8 L412.4,105.6 L413.4,104.4 L414.4,104.4 L415.4,106.9 L416.4,108.2 L417.4,109.5 L418.4,110.6 L419.4,111.4 L420.4,112.2 L421.4,114.1 L422.4,115.0 L423.4,113.3 L424.4,111.6 L425.4,110.5 L426.4,111.2 L427.4,111.9 L428.4,112.6 L429.4,113.2 L430.4,113.6 L431.4,113.9 L432.4,114.7 L433.4,114.1 L434.4,113.2 L435.4,112.1 L436.4,111.1 L437.4,110.1 L438.4,109.0 L439.4,108.0 L440.4,97.4 L441.4,98.3 L442.4,99.2 L443.4,100.0 L444.4,100.9 L445.4,101.7 L446.4,101.9 L447.4,102.9 L448.4,104.0 L449.4,104.6 L450.4,104.4 L451.4,102.0 L452.4,100.3 L453.4,100.0 L454.4,99.0 L455.4,98.5 L456.4,99.0 L457.4,96.3 L458.4,96.0 L459.4,100.0 L460.4,103.4 L461.4,107.9 L462.4,106.3 L463.4,104.6 L464.4,103.0 L465.4,101.3 L466.4,100.4 L467.4,100.7 L468.4,102.7 L469.4,104.6 L470.4,107.4 L471.4,106.1 L472.4,102.8 L473.4,101.1 L474.4,99.0 L475.4,98.7 L476.4,98.6 L477.4,96.4 L478.4,100.2 L479.4,101.9 L480.4,102.8 L481.4,104.2 L482.4,105.1 L483.4,106.1 L484.4,107.1 L485.4,107.0 L486.4,106.3 L487.4,105.5 L488.4,105.8 L489.4,107.9 L490.4,107.2 L491.4,106.1 L492.4,104.4 L493.4,104.9 L494.4,105.2 L495.4,105.2 L496.4,103.6 L497.4,103.0 L498.4,101.3 L499.4,103.0 L500.4,104.1 L501.4,105.6 L502.4,106.2 L503.4,106.1 L504.4,104.7 L505.4,104.9 L506.4,104.7 L507.4,104.0 L508.4,103.8 L509.4,103.9 L510.4,104.8 L511.4,106.0 L512.4,106.5 L513.4,105.2 L514.4,104.7 L515.4,104.5 L516.4,102.8 L517.4,104.3 L518.4,105.3 L519.4,106.6 L520.4,107.5 L521.4,107.9 L522.4,107.9 L523.4,105.4 L524.4,104.2 L525.4,102.3 L526.4,104.4 L527.4,105.3 L528.4,103.4 L529.4,101.8 L530.4,101.9 L531.4,104.4 L532.4,105.6 L533.4,108.5 L534.4,109.2 L535.4,108.5 L536.4,108.3 L537.4,109.3 L538.4,109.5 L539.4,109.3 L540.4,108.9 L541.4,108.6 L542.4,107.3 L543.4,106.0 L544.4,104.7 L545.4,104.8 L546.4,107.0 L547.4,105.9 L548.4,104.7 L549.4,102.6 L550.4,104.3 L551.4,106.1 L552.4,109.3 L553.4,111.7 L554.4,111.3 L555.4,109.6 L556.4,110.0 L557.4,110.5 L558.4,109.9 L559.4,108.1 L560.4,107.0 L561.4,107.3 L562.4,107.8 L563.4,107.7 L564.4,105.6 L565.4,106.4 L566.4,107.3 L567.4,108.8 L568.4,110.2 L569.4,109.5 L570.4,108.3 L571.4,106.4 L572.4,106.0 L573.4,108.1 L574.4,106.4 L575.4,105.1 L576.4,103.6 L577.4,104.6 L578.4,105.3 L579.4,105.2 L580.4,103.9 L581.4,103.3 L582.4,103.4 L583.4,102.6 L584.4,101.9 L585.4,101.8 L586.4,99.8 L587.4,99.3 L588.4,101.6 L589.4,102.5 L590.4,102.1 L591.4,100.4 L592.4,100.7 L593.4,101.1 L594.4,101.8 L595.4,101.4 L596.4,101.0 L597.4,100.3 L598.4,100.8 L599.4,101.3 L600.4,100.9 L601.4,99.2 L602.4,98.4 L603.4,99.1 L604.4,97.6 L605.4,96.8 L606.4,94.4 L607.4,96.9 L608.4,98.6 L609.4,100.2 L610.4,98.1 L611.4,97.1 L612.4,95.5 L613.4,97.7 L614.4,99.2 L615.4,101.1 L616.4,101.1 L617.4,100.8 L617.8,220.0 L36.4,220.0Z" fill="rgb(19,19,19)"/>
<path d="M36.4,167.8 L37.4,167.8 L38.4,167.8 L39.4,167.9 L40.4,167.9 L41.4,167.9 L42.4,167.9 L43.4,167.9 L44.4,168.0 L45.4,168.0 L46.4,168.0 L47.4,168.0 L48.4,168.0 L49.4,168.1 L50.4,168.1 L51.4,168.1 L52.4,168.1 L53.4,168.1 L54.4,168.2 L55.4,168.2 L56.4,168.2 L57.4,168.2 L58.4,168.2 L59.4,168.3 L60.4,168.3 L61.4,168.3 L62.4,168.3 L63.4,168.3 L64.4,168.3 L65.4,168.3 L66.4,168.3 L67.4,168.3 L68.4,168.3 L69.4,168.3 L70.4,168.3 L71.4,168.3 L72.4,168.3 L73.4,168.3 L74.4,168.3 L75.4,168.3 L76.4,168.3 L77.4,168.3 L78.4,168.3 L79.4,168.3 L80.4,168.3 L81.4,168.3 L82.4,168.3 L83.4,168.3 L84.4,168.3 L85.4,168.3 L86.4,168.3 L87.4,168.3 L88.4,168.3 L89.4,168.3 L90.4,168.3 L91.4,168.3 L92.4,163.6 L93.4,153.9 L94.4,144.3 L95.4,133.2 L96.4,125.7 L97.4,123.9 L98.4,123.1 L99.4,122.7 L100.4,122.9 L101.4,123.1 L102.4,123.6 L103.4,124.6 L104.4,125.5 L105.4,126.5 L106.4,127.3 L107.4,127.8 L108.4,128.3 L109.4,128.8 L110.4,129.3 L111.4,129.8 L112.4,130.3 L113.4,130.8 L114.4,131.3 L115.4,131.8 L116.4,132.3 L117.4,132.8 L118.4,133.3 L119.4,133.8 L120.4,133.3 L121.4,133.7 L122.4,134.2 L123.4,134.6 L124.4,135.1 L125.4,134.5 L126.4,133.0 L127.4,131.6 L128.4,130.5 L129.4,130.1 L130.4,129.2 L131.4,127.4 L132.4,126.1 L133.4,124.7 L134.4,123.8 L135.4,123.0 L136.4,122.3 L137.4,121.7 L138.4,121.5 L139.4,121.3 L140.4,121.2 L141.4,121.1 L142.4,121.4 L143.4,119.9 L144.4,118.0 L145.4,117.9 L146.4,117.6 L147.4,117.2 L148.4,116.9 L149.4,115.0 L150.4,112.7 L151.4,116.1 L152.4,118.4 L153.4,119.2 L154.4,120.1 L155.4,121.0 L156.4,121.8 L157.4,125.1 L158.4,123.7 L159.4,122.4 L160.4,121.0 L161.4,119.6 L162.4,119.6 L163.4,121.6 L164.4,123.6 L165.4,124.8 L166.4,125.9 L167.4,127.0 L168.4,128.8 L169.4,131.9 L170.4,134.5 L171.4,136.1 L172.4,137.7 L173.4,138.4 L174.4,136.7 L175.4,134.9 L176.4,135.4 L177.4,135.9 L178.4,136.5 L179.4,136.9 L180.4,136.3 L181.4,135.6 L182.4,134.9 L183.4,135.0 L184.4,135.9 L185.4,136.8 L186.4,137.7 L187.4,138.5 L188.4,139.1 L189.4,139.9 L190.4,140.3 L191.4,140.7 L192.4,139.2 L193.4,137.5 L194.4,135.8 L195.4,136.9 L196.4,138.0 L197.4,139.1 L198.4,140.2 L199.4,140.8 L200.4,141.1 L201.4,141.9 L202.4,139.9 L203.4,137.9 L204.4,138.0 L205.4,139.5 L206.4,141.0 L207.4,142.5 L208.4,143.4 L209.4,144.2 L210.4,145.8 L211.4,148.1 L212.4,150.4 L213.4,138.5 L214.4,123.7 L215.4,124.2 L216.4,123.6 L217.4,120.5 L218.4,117.4 L219.4,104.0 L220.4,91.3 L221.4,95.7 L222.4,98.0 L223.4,99.2 L224.4,100.5 L225.4,101.6 L226.4,105.2 L227.4,110.0 L228.4,107.1 L229.4,108.3 L230.4,110.3 L231.4,111.8 L232.4,112.8 L233.4,113.8 L234.4,114.7 L235.4,116.4 L236.4,118.5 L237.4,118.7 L238.4,118.2 L239.4,114.3 L240.4,111.9 L241.4,111.8 L242.4,113.2 L243.4,112.0 L244.4,110.4 L245.4,108.8 L246.4,109.5 L247.4,111.2 L248.4,112.8 L249.4,113.6 L250.4,114.5 L251.4,115.3 L252.4,117.1 L253.4,119.6 L254.4,121.8 L255.4,123.4 L256.4,124.9 L257.4,125.7 L258.4,126.3 L259.4,126.7 L260.4,124.9 L261.4,123.0 L262.4,121.1 L263.4,120.5 L264.4,121.8 L265.4,123.0 L266.4,122.2 L267.4,121.3 L268.4,120.4 L269.4,120.2 L270.4,121.3 L271.4,122.5 L272.4,123.6 L273.4,124.5 L274.4,125.3 L275.4,126.3 L276.4,128.2 L277.4,129.5 L278.4,129.5 L279.4,129.1 L280.4,127.5 L281.4,125.8 L282.4,124.2 L283.4,122.6 L284.4,122.5 L285.4,124.0 L286.4,125.5 L287.4,126.9 L288.4,127.6 L289.4,128.1 L290.4,127.9 L291.4,126.3 L292.4,124.7 L293.4,123.0 L294.4,121.9 L295.4,123.0 L296.4,124.1 L297.4,125.2 L298.4,126.1 L299.4,127.2 L300.4,128.4 L301.4,129.5 L302.4,130.1 L303.4,125.7 L304.4,121.3 L305.4,125.4 L306.4,128.9 L307.4,130.6 L308.4,131.3 L309.4,131.0 L310.4,130.1 L311.4,126.7 L312.4,123.3 L313.4,119.8 L314.4,117.3 L315.4,115.4 L316.4,118.3 L317.4,120.9 L318.4,122.1 L319.4,123.3 L320.4,124.5 L321.4,125.7 L322.4,129.8 L323.4,129.3 L324.4,130.5 L325.4,131.8 L326.4,130.1 L327.4,125.5 L328.4,120.9 L329.4,117.1 L330.4,118.2 L331.4,120.4 L332.4,122.2 L333.4,123.2 L334.4,124.1 L335.4,125.1 L336.4,127.2 L337.4,130.5 L338.4,133.1 L339.4,132.7 L340.4,129.7 L341.4,127.7 L342.4,128.6 L343.4,127.7 L344.4,122.8 L345.4,117.8 L346.4,113.9 L347.4,111.0 L348.4,114.7 L349.4,117.9 L350.4,117.0 L351.4,116.1 L352.4,115.8 L353.4,117.5 L354.4,122.9 L355.4,125.7 L356.4,126.6 L357.4,127.4 L358.4,128.4 L359.4,131.0 L360.4,133.6 L361.4,135.9 L362.4,135.2 L363.4,134.4 L364.4,133.5 L365.4,132.6 L366.4,131.3 L367.4,130.0 L368.4,130.3 L369.4,131.3 L370.4,132.2 L371.4,133.2 L372.4,133.8 L373.4,134.5 L374.4,135.6 L375.4,136.8 L376.4,136.6 L377.4,135.5 L378.4,134.5 L379.4,134.5 L380.4,135.3 L381.4,136.0 L382.4,136.7 L383.4,137.1 L384.4,134.8 L385.4,132.2 L386.4,132.6 L387.4,133.1 L388.4,130.2 L389.4,127.3 L390.4,124.3 L391.4,121.3 L392.4,122.1 L393.4,123.8 L394.4,125.5 L395.4,126.3 L396.4,126.6 L397.4,126.9 L398.4,128.1 L399.4,130.9 L400.4,129.9 L401.4,128.3 L402.4,127.4 L403.4,125.0 L404.4,122.7 L405.4,120.3 L406.4,117.7 L407.4,114.9 L408.4,114.7 L409.4,117.0 L410.4,119.3 L411.4,119.5 L412.4,118.3 L413.4,117.2 L414.4,117.1 L415.4,119.6 L416.4,120.9 L417.4,122.2 L418.4,123.4 L419.4,124.2 L420.4,125.0 L421.4,126.9 L422.4,127.8 L423.4,126.2 L424.4,124.4 L425.4,123.4 L426.4,124.1 L427.4,124.8 L428.4,125.5 L429.4,126.2 L430.4,126.5 L431.4,126.9 L432.4,127.7 L433.4,127.1 L434.4,126.2 L435.4,125.1 L436.4,124.1 L437.4,123.1 L438.4,122.1 L439.4,121.1 L440.4,113.4 L441.4,114.3 L442.4,115.2 L443.4,116.0 L444.4,116.9 L445.4,117.7 L446.4,117.9 L447.4,118.9 L448.4,120.0 L449.4,120.6 L450.4,120.4 L451.4,118.0 L452.4,116.3 L453.4,116.0 L454.4,115.0 L455.4,114.5 L456.4,115.0 L457.4,112.3 L458.4,112.0 L459.4,116.0 L460.4,119.4 L461.4,123.9 L462.4,122.3 L463.4,120.6 L464.4,119.0 L465.4,117.3 L466.4,116.4 L467.4,116.7 L468.4,118.7 L469.4,120.6 L470.4,123.4 L471.4,122.1 L472.4,118.8 L473.4,117.1 L474.4,115.0 L475.4,114.7 L476.4,114.6 L477.4,112.4 L478.4,116.2 L479.4,117.9 L480.4,118.8 L481.4,120.2 L482.4,121.1 L483.4,122.1 L484.4,123.1 L485.4,123.0 L486.4,122.3 L487.4,121.5 L488.4,121.8 L489.4,123.9 L490.4,123.2 L491.4,122.1 L492.4,120.4 L493.4,120.9 L494.4,121.2 L495.4,121.2 L496.4,119.6 L497.4,119.0 L498.4,117.3 L499.4,119.0 L500.4,120.1 L501.4,121.6 L502.4,122.2 L503.4,122.1 L504.4,120.7 L505.4,120.9 L506.4,120.7 L507.4,120.0 L508.4,119.8 L509.4,119.9 L510.4,120.8 L511.4,122.0 L512.4,122.5 L513.4,121.2 L514.4,120.7 L515.4,120.5 L516.4,118.8 L517.4,120.3 L518.4,121.3 L519.4,122.6 L520.4,123.5 L521.4,123.9 L522.4,123.9 L523.4,121.4 L524.4,120.2 L525.4,118.3 L526.4,120.4 L527.4,121.3 L528.4,119.4 L529.4,117.8 L530.4,117.9 L531.4,120.4 L532.4,121.6 L533.4,124.5 L534.4,125.2 L535.4,124.5 L536.4,124.3 L537.4,125.3 L538.4,125.5 L539.4,125.3 L540.4,124.9 L541.4,124.6 L542.4,123.3 L543.4,122.0 L544.4,120.7 L545.4,120.8 L546.4,123.0 L547.4,121.9 L548.4,120.7 L549.4,118.6 L550.4,120.3 L551.4,122.1 L552.4,125.3 L553.4,127.7 L554.4,127.3 L555.4,125.6 L556.4,126.0 L557.4,126.5 L558.4,125.9 L559.4,124.1 L560.4,123.0 L561.4,123.3 L562.4,123.8 L563.4,123.7 L564.4,121.6 L565.4,122.4 L566.4,123.3 L567.4,124.8 L568.4,126.2 L569.4,125.5 L570.4,124.3 L571.4,122.4 L572.4,122.0 L573.4,124.1 L574.4,122.4 L575.4,121.1 L576.4,119.6 L577.4,120.6 L578.4,121.3 L579.4,121.2 L580.4,119.9 L581.4,119.3 L582.4,119.4 L583.4,118.6 L584.4,117.9 L585.4,117.8 L586.4,115.8 L587.4,115.3 L588.4,117.6 L589.4,118.5 L590.4,118.1 L591.4,116.4 L592.4,116.7 L593.4,117.1 L594.4,117.8 L595.4,117.4 L596.4,117.0 L597.4,116.3 L598.4,116.8 L599.4,117.3 L600.4,116.9 L601.4,115.2 L602.4,114.4 L603.4,115.1 L604.4,113.6 L605.4,112.8 L606.4,110.4 L607.4,112.9 L608.4,114.6 L609.4,116.2 L610.4,114.1 L611.4,113.1 L612.4,111.5 L613.4,113.7 L614.4,115.2 L615.4,117.1 L616.4,117.1 L617.4,116.8 L617.8,220.0 L36.4,220.0Z" fill="rgb(27,27,27)"/>
<path d="M36.4,176.2 L37.4,176.2 L38.4,176.2 L39.4,176.2 L40.4,176.3 L41.4,176.3 L42.4,176.3 L43.4,176.3 L44.4,176.4 L45.4,176.4 L46.4,176.4 L47.4,176.4 L48.4,176.4 L49.4,176.5 L50.4,176.5 L51.4,176.5 L52.4,176.5 L53.4,176.5 L54.4,176.6 L55.4,176.6 L56.4,176.6 L57.4,176.6 L58.4,176.6 L59.4,176.7 L60.4,176.7 L61.4,176.7 L62.4,176.7 L63.4,176.7 L64.4,176.7 L65.4,176.7 L66.4,176.7 L67.4,176.7 L68.4,176.7 L69.4,176.7 L70.4,176.7 L71.4,176.7 L72.4,176.7 L73.4,176.7 L74.4,176.7 L75.4,176.7 L76.4,176.7 L77.4,176.7 L78.4,176.7 L79.4,176.7 L80.4,176.7 L81.4,176.7 L82.4,176.7 L83.4,176.7 L84.4,176.7 L85.4,176.7 L86.4,176.7 L87.4,176.7 L88.4,176.7 L89.4,176.7 L90.4,176.7 L91.4,176.7 L92.4,172.0 L93.4,162.3 L94.4,152.1 L95.4,141.0 L96.4,133.5 L97.4,131.7 L98.4,130.9 L99.4,130.5 L100.4,130.7 L101.4,130.9 L102.4,131.4 L103.4,132.4 L104.4,133.3 L105.4,134.3 L106.4,135.1 L107.4,135.6 L108.4,136.1 L109.4,136.6 L110.4,137.1 L111.4,137.6 L112.4,138.1 L113.4,138.6 L114.4,139.1 L115.4,139.6 L116.4,140.1 L117.4,140.6 L118.4,141.1 L119.4,141.6 L120.4,141.1 L121.4,141.5 L122.4,142.0 L123.4,142.4 L124.4,142.9 L125.4,142.3 L126.4,140.8 L127.4,139.4 L128.4,138.3 L129.4,137.9 L130.4,137.0 L131.4,135.2 L132.4,133.9 L133.4,132.5 L134.4,131.6 L135.4,130.8 L136.4,130.1 L137.4,129.5 L138.4,129.3 L139.4,129.1 L140.4,129.0 L141.4,128.9 L142.4,129.2 L143.4,127.7 L144.4,125.8 L145.4,125.7 L146.4,125.4 L147.4,125.0 L148.4,124.7 L149.4,122.8 L150.4,120.5 L151.4,123.9 L152.4,126.2 L153.4,127.0 L154.4,127.9 L155.4,128.8 L156.4,129.6 L157.4,132.9 L158.4,131.5 L159.4,130.2 L160.4,128.8 L161.4,127.4 L162.4,127.4 L163.4,129.4 L164.4,131.4 L165.4,132.6 L166.4,133.7 L167.4,134.8 L168.4,136.6 L169.4,139.7 L170.4,142.3 L171.4,143.9 L172.4,145.5 L173.4,146.2 L174.4,144.5 L175.4,142.7 L176.4,143.2 L177.4,143.7 L178.4,144.3 L179.4,144.7 L180.4,144.1 L181.4,143.4 L182.4,142.7 L183.4,142.8 L184.4,143.7 L185.4,144.6 L186.4,145.5 L187.4,146.3 L188.4,146.9 L189.4,147.7 L190.4,148.1 L191.4,148.5 L192.4,147.0 L193.4,145.3 L194.4,143.6 L195.4,144.7 L196.4,145.8 L197.4,146.9 L198.4,148.0 L199.4,148.6 L200.4,148.9 L201.4,149.7 L202.4,147.7 L203.4,145.7 L204.4,145.8 L205.4,147.3 L206.4,148.8 L207.4,150.3 L208.4,151.2 L209.4,152.0 L210.4,153.6 L211.4,155.9 L212.4,158.2 L213.4,146.3 L214.4,131.5 L215.4,132.0 L216.4,131.4 L217.4,128.3 L218.4,125.2 L219.4,111.8 L220.4,99.1 L221.4,103.5 L222.4,105.8 L223.4,107.1 L224.4,108.3 L225.4,109.4 L226.4,113.1 L227.4,117.9 L228.4,115.0 L229.4,116.2 L230.4,118.1 L231.4,119.7 L232.4,120.7 L233.4,121.7 L234.4,122.7 L235.4,124.3 L236.4,126.4 L237.4,126.6 L238.4,126.2 L239.4,122.3 L240.4,119.9 L241.4,119.8 L242.4,121.2 L243.4,120.0 L244.4,118.4 L245.4,116.9 L246.4,117.6 L247.4,119.3 L248.4,120.8 L249.4,121.7 L250.4,122.5 L251.4,123.4 L252.4,125.1 L253.4,127.7 L254.4,129.9 L255.4,131.5 L256.4,133.0 L257.4,133.8 L258.4,134.5 L259.4,134.9 L260.4,133.0 L261.4,131.2 L262.4,129.3 L263.4,128.7 L264.4,130.0 L265.4,131.3 L266.4,130.4 L267.4,129.5 L268.4,128.7 L269.4,128.4 L270.4,129.6 L271.4,130.7 L272.4,131.9 L273.4,132.8 L274.4,133.6 L275.4,134.6 L276.4,136.5 L277.4,137.8 L278.4,137.8 L279.4,137.4 L280.4,135.8 L281.4,134.2 L282.4,132.6 L283.4,131.0 L284.4,130.9 L285.4,132.4 L286.4,133.9 L287.4,135.3 L288.4,136.0 L289.4,136.5 L290.4,136.4 L291.4,134.7 L292.4,133.1 L293.4,131.5 L294.4,130.4 L295.4,131.5 L296.4,132.6 L297.4,133.7 L298.4,134.6 L299.4,135.8 L300.4,136.9 L301.4,138.0 L302.4,138.6 L303.4,134.3 L304.4,129.9 L305.4,133.9 L306.4,137.5 L307.4,139.2 L308.4,139.9 L309.4,139.7 L310.4,138.8 L311.4,135.3 L312.4,131.9 L313.4,128.5 L314.4,125.9 L315.4,124.1 L316.4,127.0 L317.4,129.5 L318.4,130.7 L319.4,132.0 L320.4,133.2 L321.4,134.4 L322.4,138.5 L323.4,138.0 L324.4,139.2 L325.4,140.5 L326.4,138.9 L327.4,134.3 L328.4,129.7 L329.4,125.9 L330.4,127.0 L331.4,129.3 L332.4,131.0 L333.4,132.0 L334.4,133.0 L335.4,133.9 L336.4,136.1 L337.4,139.3 L338.4,142.0 L339.4,141.6 L340.4,138.6 L341.4,136.6 L342.4,137.5 L343.4,136.6 L344.4,131.7 L345.4,126.7 L346.4,122.9 L347.4,119.9 L348.4,123.6 L349.4,126.9 L350.4,126.0 L351.4,125.1 L352.4,124.8 L353.4,126.5 L354.4,131.9 L355.4,134.7 L356.4,135.6 L357.4,136.5 L358.4,137.4 L359.4,140.0 L360.4,142.6 L361.4,145.0 L362.4,144.3 L363.4,143.5 L364.4,142.6 L365.4,141.8 L366.4,140.4 L367.4,139.1 L368.4,139.4 L369.4,140.4 L370.4,141.4 L371.4,142.4 L372.4,143.0 L373.4,143.7 L374.4,144.8 L375.4,146.0 L376.4,145.8 L377.4,144.7 L378.4,143.7 L379.4,143.8 L380.4,144.5 L381.4,145.2 L382.4,146.0 L383.4,146.4 L384.4,144.1 L385.4,141.5 L386.4,141.9 L387.4,142.4 L388.4,139.5 L389.4,136.6 L390.4,133.7 L391.4,130.6 L392.4,131.4 L393.4,133.1 L394.4,134.8 L395.4,135.7 L396.4,136.0 L397.4,136.3 L398.4,137.5 L399.4,140.3 L400.4,139.4 L401.4,137.7 L402.4,136.8 L403.4,134.5 L404.4,132.1 L405.4,129.8 L406.4,127.2 L407.4,124.4 L408.4,124.2 L409.4,126.5 L410.4,128.8 L411.4,129.1 L412.4,127.9 L413.4,126.7 L414.4,126.7 L415.4,129.2 L416.4,130.5 L417.4,131.8 L418.4,133.0 L419.4,133.8 L420.4,134.7 L421.4,136.5 L422.4,137.4 L423.4,135.8 L424.4,134.1 L425.4,133.0 L426.4,133.7 L427.4,134.5 L428.4,135.2 L429.4,135.8 L430.4,136.2 L431.4,136.6 L432.4,137.4 L433.4,136.8 L434.4,135.9 L435.4,134.9 L436.4,133.9 L437.4,132.8 L438.4,131.8 L439.4,130.8 L440.4,125.4 L441.4,126.3 L442.4,127.2 L443.4,128.0 L444.4,128.9 L445.4,129.7 L446.4,129.9 L447.4,130.9 L448.4,132.0 L449.4,132.6 L450.4,132.4 L451.4,130.0 L452.4,128.3 L453.4,128.0 L454.4,127.0 L455.4,126.5 L456.4,127.0 L457.4,124.3 L458.4,124.0 L459.4,128.0 L460.4,131.4 L461.4,135.9 L462.4,134.3 L463.4,132.6 L464.4,131.0 L465.4,129.3 L466.4,128.4 L467.4,128.7 L468.4,130.7 L469.4,132.6 L470.4,135.4 L471.4,134.1 L472.4,130.8 L473.4,129.1 L474.4,127.0 L475.4,126.7 L476.4,126.6 L477.4,124.4 L478.4,128.2 L479.4,129.9 L480.4,130.8 L481.4,132.2 L482.4,133.1 L483.4,134.1 L484.4,135.1 L485.4,135.0 L486.4,134.3 L487.4,133.5 L488.4,133.8 L489.4,135.9 L490.4,135.2 L491.4,134.1 L492.4,132.4 L493.4,132.9 L494.4,133.2 L495.4,133.2 L496.4,131.6 L497.4,131.0 L498.4,129.3 L499.4,131.0 L500.4,132.1 L501.4,133.6 L502.4,134.2 L503.4,134.1 L504.4,132.7 L505.4,132.9 L506.4,132.7 L507.4,132.0 L508.4,131.8 L509.4,131.9 L510.4,132.8 L511.4,134.0 L512.4,134.5 L513.4,133.2 L514.4,132.7 L515.4,132.5 L516.4,130.8 L517.4,132.3 L518.4,133.3 L519.4,134.6 L520.4,135.5 L521.4,135.9 L522.4,135.9 L523.4,133.4 L524.4,132.2 L525.4,130.3 L526.4,132.4 L527.4,133.3 L528.4,131.4 L529.4,129.8 L530.4,129.9 L531.4,132.4 L532.4,133.6 L533.4,136.5 L534.4,137.2 L535.4,136.5 L536.4,136.3 L537.4,137.3 L538.4,137.5 L539.4,137.3 L540.4,136.9 L541.4,136.6 L542.4,135.3 L543.4,134.0 L544.4,132.7 L545.4,132.8 L546.4,135.0 L547.4,133.9 L548.4,132.7 L549.4,130.6 L550.4,132.3 L551.4,134.1 L552.4,137.3 L553.4,139.7 L554.4,139.3 L555.4,137.6 L556.4,138.0 L557.4,138.5 L558.4,137.9 L559.4,136.1 L560.4,135.0 L561.4,135.3 L562.4,135.8 L563.4,135.7 L564.4,133.6 L565.4,134.4 L566.4,135.3 L567.4,136.8 L568.4,138.2 L569.4,137.5 L570.4,136.3 L571.4,134.4 L572.4,134.0 L573.4,136.1 L574.4,134.4 L575.4,133.1 L576.4,131.6 L577.4,132.6 L578.4,133.3 L579.4,133.2 L580.4,131.9 L581.4,131.3 L582.4,131.4 L583.4,130.6 L584.4,129.9 L585.4,129.8 L586.4,127.8 L587.4,127.3 L588.4,129.6 L589.4,130.5 L590.4,130.1 L591.4,128.4 L592.4,128.7 L593.4,129.1 L594.4,129.8 L595.4,129.4 L596.4,129.0 L597.4,128.3 L598.4,128.8 L599.4,129.3 L600.4,128.9 L601.4,127.2 L602.4,126.4 L603.4,127.1 L604.4,125.6 L605.4,124.8 L606.4,122.4 L607.4,124.9 L608.4,126.6 L609.4,128.2 L610.4,126.1 L611.4,125.1 L612.4,123.5 L613.4,125.7 L614.4,127.2 L615.4,129.1 L616.4,129.1 L617.4,128.8 L617.8,220.0 L36.4,220.0Z" fill="rgb(37,37,37)"/>
<path d="M36.4,183.2 L37.4,183.2 L38.4,183.2 L39.4,183.2 L40.4,183.3 L41.4,183.3 L42.4,183.3 L43.4,183.3 L44.4,183.4 L45.4,183.4 L46.4,183.4 L47.4,183.4 L48.4,183.4 L49.4,183.5 L50.4,183.5 L51.4,183.5 L52.4,183.5 L53.4,183.5 L54.4,183.6 L55.4,183.6 L56.4,183.6 L57.4,183.6 L58.4,183.6 L59.4,183.7 L60.4,183.7 L61.4,183.7 L62.4,183.7 L63.4,183.7 L64.4,183.7 L65.4,183.7 L66.4,183.7 L67.4,183.7 L68.4,183.7 L69.4,183.7 L70.4,183.7 L71.4,183.7 L72.4,183.7 L73.4,183.7 L74.4,183.7 L75.4,183.7 L76.4,183.7 L77.4,183.7 L78.4,183.7 L79.4,183.7 L80.4,183.7 L81.4,183.7 L82.4,183.7 L83.4,183.7 L84.4,183.7 L85.4,183.7 L86.4,183.7 L87.4,183.7 L88.4,183.7 L89.4,183.7 L90.4,183.7 L91.4,183.7 L92.4,179.0 L93.4,169.3 L94.4,158.6 L95.4,147.5 L96.4,140.0 L97.4,138.2 L98.4,137.4 L99.4,137.0 L100.4,137.2 L101.4,137.4 L102.4,137.9 L103.4,138.9 L104.4,139.8 L105.4,140.8 L106.4,141.6 L107.4,142.1 L108.4,142.6 L109.4,143.1 L110.4,143.6 L111.4,144.1 L112.4,144.6 L113.4,145.1 L114.4,145.6 L115.4,146.1 L116.4,146.6 L117.4,147.1 L118.4,147.6 L119.4,148.1 L120.4,147.6 L121.4,148.0 L122.4,148.5 L123.4,148.9 L124.4,149.4 L125.4,148.8 L126.4,147.3 L127.4,145.9 L128.4,144.8 L129.4,144.4 L130.4,143.5 L131.4,141.7 L132.4,140.4 L133.4,139.0 L134.4,138.1 L135.4,137.3 L136.4,136.6 L137.4,136.0 L138.4,135.8 L139.4,135.6 L140.4,135.5 L141.4,135.4 L142.4,135.7 L143.4,134.2 L144.4,132.3 L145.4,132.2 L146.4,131.9 L147.4,131.5 L148.4,131.2 L149.4,129.3 L150.4,127.0 L151.4,130.4 L152.4,132.7 L153.4,133.5 L154.4,134.4 L155.4,135.3 L156.4,136.1 L157.4,139.4 L158.4,138.0 L159.4,136.7 L160.4,135.3 L161.4,133.9 L162.4,133.9 L163.4,135.9 L164.4,137.9 L165.4,139.1 L166.4,140.2 L167.4,141.3 L168.4,143.1 L169.4,146.2 L170.4,148.8 L171.4,150.4 L172.4,152.0 L173.4,152.7 L174.4,151.0 L175.4,149.2 L176.4,149.7 L177.4,150.2 L178.4,150.8 L179.4,151.2 L180.4,150.6 L181.4,149.9 L182.4,149.2 L183.4,149.3 L184.4,150.2 L185.4,151.1 L186.4,152.0 L187.4,152.8 L188.4,153.4 L189.4,154.2 L190.4,154.6 L191.4,155.0 L192.4,153.5 L193.4,151.8 L194.4,150.1 L195.4,151.2 L196.4,152.3 L197.4,153.4 L198.4,154.5 L199.4,155.1 L200.4,155.4 L201.4,156.2 L202.4,154.2 L203.4,152.2 L204.4,152.3 L205.4,153.8 L206.4,155.3 L207.4,156.8 L208.4,157.7 L209.4,158.5 L210.4,160.1 L211.4,162.4 L212.4,164.7 L213.4,152.8 L214.4,138.0 L215.4,138.5 L216.4,137.9 L217.4,134.8 L218.4,131.7 L219.4,118.3 L220.4,105.6 L221.4,110.0 L222.4,112.3 L223.4,113.6 L224.4,114.8 L225.4,115.9 L226.4,119.6 L227.4,124.4 L228.4,121.5 L229.4,122.8 L230.4,124.7 L231.4,126.3 L232.4,127.3 L233.4,128.3 L234.4,129.3 L235.4,130.9 L236.4,133.0 L237.4,133.3 L238.4,132.8 L239.4,128.9 L240.4,126.5 L241.4,126.5 L242.4,127.9 L243.4,126.7 L244.4,125.1 L245.4,123.5 L246.4,124.3 L247.4,126.0 L248.4,127.5 L249.4,128.4 L250.4,129.3 L251.4,130.2 L252.4,131.9 L253.4,134.4 L254.4,136.7 L255.4,138.2 L256.4,139.8 L257.4,140.6 L258.4,141.3 L259.4,141.7 L260.4,139.8 L261.4,138.0 L262.4,136.1 L263.4,135.5 L264.4,136.8 L265.4,138.1 L266.4,137.2 L267.4,136.4 L268.4,135.5 L269.4,135.3 L270.4,136.4 L271.4,137.6 L272.4,138.8 L273.4,139.7 L274.4,140.5 L275.4,141.5 L276.4,143.4 L277.4,144.8 L278.4,144.8 L279.4,144.4 L280.4,142.8 L281.4,141.2 L282.4,139.5 L283.4,137.9 L284.4,137.9 L285.4,139.4 L286.4,140.9 L287.4,142.3 L288.4,143.0 L289.4,143.5 L290.4,143.4 L291.4,141.8 L292.4,140.2 L293.4,138.5 L294.4,137.5 L295.4,138.6 L296.4,139.7 L297.4,140.8 L298.4,141.7 L299.4,142.8 L300.4,144.0 L301.4,145.1 L302.4,145.7 L303.4,141.4 L304.4,137.0 L305.4,141.1 L306.4,144.7 L307.4,146.3 L308.4,147.0 L309.4,146.8 L310.4,145.9 L311.4,142.5 L312.4,139.1 L313.4,135.7 L314.4,133.2 L315.4,131.3 L316.4,134.2 L317.4,136.8 L318.4,138.0 L319.4,139.2 L320.4,140.4 L321.4,141.6 L322.4,145.8 L323.4,145.3 L324.4,146.5 L325.4,147.8 L326.4,146.2 L327.4,141.6 L328.4,137.0 L329.4,133.2 L330.4,134.3 L331.4,136.6 L332.4,138.4 L333.4,139.3 L334.4,140.3 L335.4,141.3 L336.4,143.4 L337.4,146.7 L338.4,149.4 L339.4,149.0 L340.4,146.0 L341.4,144.0 L342.4,144.9 L343.4,144.0 L344.4,139.1 L345.4,134.2 L346.4,130.3 L347.4,127.4 L348.4,131.1 L349.4,134.3 L350.4,133.5 L351.4,132.6 L352.4,132.3 L353.4,134.0 L354.4,139.4 L355.4,142.2 L356.4,143.1 L357.4,144.0 L358.4,145.0 L359.4,147.6 L360.4,150.2 L361.4,152.6 L362.4,151.9 L363.4,151.1 L364.4,150.2 L365.4,149.3 L366.4,148.0 L367.4,146.7 L368.4,147.0 L369.4,148.0 L370.4,149.0 L371.4,150.0 L372.4,150.7 L373.4,151.3 L374.4,152.5 L375.4,153.6 L376.4,153.4 L377.4,152.4 L378.4,151.4 L379.4,151.5 L380.4,152.2 L381.4,152.9 L382.4,153.7 L383.4,154.1 L384.4,151.8 L385.4,149.3 L386.4,149.7 L387.4,150.2 L388.4,147.3 L389.4,144.4 L390.4,141.5 L391.4,138.4 L392.4,139.2 L393.4,140.9 L394.4,142.6 L395.4,143.5 L396.4,143.8 L397.4,144.2 L398.4,145.3 L399.4,148.1 L400.4,147.2 L401.4,145.6 L402.4,144.7 L403.4,142.3 L404.4,140.0 L405.4,137.7 L406.4,135.1 L407.4,132.3 L408.4,132.1 L409.4,134.4 L410.4,136.8 L411.4,137.0 L412.4,135.8 L413.4,134.6 L414.4,134.6 L415.4,137.2 L416.4,138.5 L417.4,139.8 L418.4,141.0 L419.4,141.8 L420.4,142.7 L421.4,144.6 L422.4,145.4 L423.4,143.8 L424.4,142.1 L425.4,141.1 L426.4,141.8 L427.4,142.5 L428.4,143.2 L429.4,143.9 L430.4,144.3 L431.4,144.6 L432.4,145.5 L433.4,144.9 L434.4,144.0 L435.4,143.0 L436.4,142.0 L437.4,141.0 L438.4,140.0 L439.4,139.0 L440.4,135.4 L441.4,136.3 L442.4,137.2 L443.4,138.0 L444.4,138.9 L445.4,139.7 L446.4,139.9 L447.4,140.9 L448.4,142.0 L449.4,142.6 L450.4,142.4 L451.4,140.0 L452.4,138.3 L453.4,138.0 L454.4,137.0 L455.4,136.5 L456.4,137.0 L457.4,134.3 L458.4,134.0 L459.4,138.0 L460.4,141.4 L461.4,145.9 L462.4,144.3 L463.4,142.6 L464.4,141.0 L465.4,139.3 L466.4,138.4 L467.4,138.7 L468.4,140.7 L469.4,142.6 L470.4,145.4 L471.4,144.1 L472.4,140.8 L473.4,139.1 L474.4,137.0 L475.4,136.7 L476.4,136.6 L477.4,134.4 L478.4,138.2 L479.4,139.9 L480.4,140.8 L481.4,142.2 L482.4,143.1 L483.4,144.1 L484.4,145.1 L485.4,145.0 L486.4,144.3 L487.4,143.5 L488.4,143.8 L489.4,145.9 L490.4,145.2 L491.4,144.1 L492.4,142.4 L493.4,142.9 L494.4,143.2 L495.4,143.2 L496.4,141.6 L497.4,141.0 L498.4,139.3 L499.4,141.0 L500.4,142.1 L501.4,143.6 L502.4,144.2 L503.4,144.1 L504.4,142.7 L505.4,142.9 L506.4,142.7 L507.4,142.0 L508.4,141.8 L509.4,141.9 L510.4,142.8 L511.4,144.0 L512.4,144.5 L513.4,143.2 L514.4,142.7 L515.4,142.5 L516.4,140.8 L517.4,142.3 L518.4,143.3 L519.4,144.6 L520.4,145.5 L521.4,145.9 L522.4,145.9 L523.4,143.4 L524.4,142.2 L525.4,140.3 L526.4,142.4 L527.4,143.3 L528.4,141.4 L529.4,139.8 L530.4,139.9 L531.4,142.4 L532.4,143.6 L533.4,146.5 L534.4,147.2 L535.4,146.5 L536.4,146.3 L537.4,147.3 L538.4,147.5 L539.4,147.3 L540.4,146.9 L541.4,146.6 L542.4,145.3 L543.4,144.0 L544.4,142.7 L545.4,142.8 L546.4,145.0 L547.4,143.9 L548.4,142.7 L549.4,140.6 L550.4,142.3 L551.4,144.1 L552.4,147.3 L553.4,149.7 L554.4,149.3 L555.4,147.6 L556.4,148.0 L557.4,148.5 L558.4,147.9 L559.4,146.1 L560.4,145.0 L561.4,145.3 L562.4,145.8 L563.4,145.7 L564.4,143.6 L565.4,144.4 L566.4,145.3 L567.4,146.8 L568.4,148.2 L569.4,147.5 L570.4,146.3 L571.4,144.4 L572.4,144.0 L573.4,146.1 L574.4,144.4 L575.4,143.1 L576.4,141.6 L577.4,142.6 L578.4,143.3 L579.4,143.2 L580.4,141.9 L581.4,141.3 L582.4,141.4 L583.4,140.6 L584.4,139.9 L585.4,139.8 L586.4,137.8 L587.4,137.3 L588.4,139.6 L589.4,140.5 L590.4,140.1 L591.4,138.4 L592.4,138.7 L593.4,139.1 L594.4,139.8 L595.4,139.4 L596.4,139.0 L597.4,138.3 L598.4,138.8 L599.4,139.3 L600.4,138.9 L601.4,137.2 L602.4,136.4 L603.4,137.1 L604.4,135.6 L605.4,134.8 L606.4,132.4 L607.4,134.9 L608.4,136.6 L609.4,138.2 L610.4,136.1 L611.4,135.1 L612.4,133.5 L613.4,135.7 L614.4,137.2 L615.4,139.1 L616.4,139.1 L617.4,138.8 L617.8,220.0 L36.4,220.0Z" fill="rgb(48,48,48)"/>
<path d="M36.4,189.6 L37.4,189.7 L38.4,189.7 L39.4,189.7 L40.4,189.7 L41.4,189.7 L42.4,189.8 L43.4,189.8 L44.4,189.8 L45.4,189.8 L46.4,189.8 L47.4,189.9 L48.4,189.9 L49.4,189.9 L50.4,189.9 L51.4,189.9 L52.4,190.0 L53.4,190.0 L54.4,190.0 L55.4,190.0 L56.4,190.0 L57.4,190.1 L58.4,190.1 L59.4,190.1 L60.4,190.1 L61.4,190.1 L62.4,190.1 L63.4,190.1 L64.4,190.1 L65.4,190.1 L66.4,190.1 L67.4,190.1 L68.4,190.1 L69.4,190.1 L70.4,190.1 L71.4,190.1 L72.4,190.1 L73.4,190.1 L74.4,190.1 L75.4,190.1 L76.4,190.1 L77.4,190.1 L78.4,190.1 L79.4,190.1 L80.4,190.1 L81.4,190.1 L82.4,190.1 L83.4,190.1 L84.4,190.1 L85.4,190.1 L86.4,190.1 L87.4,190.1 L88.4,190.1 L89.4,190.1 L90.4,190.1 L91.4,190.1 L92.4,185.4 L93.4,175.7 L94.4,164.6 L95.4,153.5 L96.4,146.0 L97.4,144.2 L98.4,143.4 L99.4,143.0 L100.4,143.2 L101.4,143.3 L102.4,143.9 L103.4,144.8 L104.4,145.8 L105.4,146.8 L106.4,147.6 L107.4,148.1 L108.4,148.6 L109.4,149.1 L110.4,149.6 L111.4,150.1 L112.4,150.6 L113.4,151.1 L114.4,151.6 L115.4,152.1 L116.4,152.6 L117.4,153.1 L118.4,153.6 L119.4,154.1 L120.4,153.6 L121.4,154.0 L122.4,154.5 L123.4,154.9 L124.4,155.4 L125.4,154.7 L126.4,153.3 L127.4,151.9 L128.4,150.8 L129.4,150.4 L130.4,149.5 L131.4,147.7 L132.4,146.4 L133.4,145.0 L134.4,144.0 L135.4,143.3 L136.4,142.6 L137.4,142.0 L138.4,141.8 L139.4,141.6 L140.4,141.4 L141.4,141.4 L142.4,141.7 L143.4,140.2 L144.4,138.3 L145.4,138.2 L146.4,137.8 L147.4,137.5 L148.4,137.2 L149.4,135.3 L150.4,133.0 L151.4,136.4 L152.4,138.7 L153.4,139.5 L154.4,140.4 L155.4,141.2 L156.4,142.1 L157.4,145.4 L158.4,144.0 L159.4,142.6 L160.4,141.3 L161.4,139.9 L162.4,139.8 L163.4,141.9 L164.4,143.9 L165.4,145.0 L166.4,146.1 L167.4,147.3 L168.4,149.0 L169.4,152.2 L170.4,154.7 L171.4,156.4 L172.4,158.0 L173.4,158.7 L174.4,156.9 L175.4,155.2 L176.4,155.6 L177.4,156.1 L178.4,156.8 L179.4,157.2 L180.4,156.5 L181.4,155.9 L182.4,155.2 L183.4,155.3 L184.4,156.2 L185.4,157.1 L186.4,158.0 L187.4,158.8 L188.4,159.4 L189.4,160.1 L190.4,160.6 L191.4,160.9 L192.4,159.5 L193.4,157.8 L194.4,156.1 L195.4,157.2 L196.4,158.3 L197.4,159.3 L198.4,160.4 L199.4,161.1 L200.4,161.4 L201.4,162.2 L202.4,160.2 L203.4,158.2 L204.4,158.3 L205.4,159.8 L206.4,161.3 L207.4,162.8 L208.4,163.7 L209.4,164.5 L210.4,166.1 L211.4,168.4 L212.4,170.7 L213.4,158.8 L214.4,143.9 L215.4,144.4 L216.4,143.9 L217.4,140.8 L218.4,137.7 L219.4,124.3 L220.4,111.5 L221.4,116.0 L222.4,118.3 L223.4,119.6 L224.4,120.9 L225.4,122.0 L226.4,125.6 L227.4,130.4 L228.4,127.6 L229.4,128.8 L230.4,130.8 L231.4,132.4 L232.4,133.3 L233.4,134.3 L234.4,135.3 L235.4,137.0 L236.4,139.1 L237.4,139.4 L238.4,138.9 L239.4,135.1 L240.4,132.6 L241.4,132.6 L242.4,134.0 L243.4,132.8 L244.4,131.2 L245.4,129.7 L246.4,130.4 L247.4,132.1 L248.4,133.7 L249.4,134.6 L250.4,135.5 L251.4,136.4 L252.4,138.1 L253.4,140.6 L254.4,142.9 L255.4,144.5 L256.4,146.0 L257.4,146.8 L258.4,147.5 L259.4,147.9 L260.4,146.1 L261.4,144.3 L262.4,142.4 L263.4,141.8 L264.4,143.1 L265.4,144.4 L266.4,143.5 L267.4,142.7 L268.4,141.9 L269.4,141.6 L270.4,142.8 L271.4,143.9 L272.4,145.1 L273.4,146.0 L274.4,146.9 L275.4,147.8 L276.4,149.8 L277.4,151.2 L278.4,151.2 L279.4,150.8 L280.4,149.2 L281.4,147.6 L282.4,146.0 L283.4,144.4 L284.4,144.3 L285.4,145.8 L286.4,147.3 L287.4,148.8 L288.4,149.5 L289.4,150.0 L290.4,149.9 L291.4,148.2 L292.4,146.6 L293.4,145.0 L294.4,144.0 L295.4,145.1 L296.4,146.2 L297.4,147.3 L298.4,148.2 L299.4,149.4 L300.4,150.5 L301.4,151.7 L302.4,152.3 L303.4,147.9 L304.4,143.6 L305.4,147.7 L306.4,151.3 L307.4,152.9 L308.4,153.6 L309.4,153.4 L310.4,152.5 L311.4,149.1 L312.4,145.7 L313.4,142.3 L314.4,139.8 L315.4,137.9 L316.4,140.8 L317.4,143.4 L318.4,144.6 L319.4,145.9 L320.4,147.1 L321.4,148.3 L322.4,152.5 L323.4,152.0 L324.4,153.2 L325.4,154.5 L326.4,152.9 L327.4,148.3 L328.4,143.8 L329.4,139.9 L330.4,141.0 L331.4,143.3 L332.4,145.1 L333.4,146.1 L334.4,147.1 L335.4,148.1 L336.4,150.2 L337.4,153.5 L338.4,156.2 L339.4,155.8 L340.4,152.8 L341.4,150.8 L342.4,151.7 L343.4,150.9 L344.4,146.0 L345.4,141.0 L346.4,137.2 L347.4,134.3 L348.4,138.0 L349.4,141.2 L350.4,140.4 L351.4,139.5 L352.4,139.2 L353.4,140.9 L354.4,146.3 L355.4,149.1 L356.4,150.0 L357.4,150.9 L358.4,151.9 L359.4,154.5 L360.4,157.1 L361.4,159.5 L362.4,158.9 L363.4,158.0 L364.4,157.2 L365.4,156.3 L366.4,155.0 L367.4,153.7 L368.4,154.0 L369.4,155.0 L370.4,156.0 L371.4,157.0 L372.4,157.7 L373.4,158.4 L374.4,159.5 L375.4,160.7 L376.4,160.5 L377.4,159.5 L378.4,158.5 L379.4,158.5 L380.4,159.3 L381.4,160.0 L382.4,160.8 L383.4,161.2 L384.4,158.9 L385.4,156.4 L386.4,156.8 L387.4,157.3 L388.4,154.4 L389.4,151.5 L390.4,148.6 L391.4,145.6 L392.4,146.4 L393.4,148.1 L394.4,149.8 L395.4,150.7 L396.4,151.0 L397.4,151.4 L398.4,152.5 L399.4,155.4 L400.4,154.5 L401.4,152.8 L402.4,151.9 L403.4,149.6 L404.4,147.3 L405.4,144.9 L406.4,142.4 L407.4,139.6 L408.4,139.4 L409.4,141.7 L410.4,144.1 L411.4,144.3 L412.4,143.1 L413.4,142.0 L414.4,142.0 L415.4,144.5 L416.4,145.8 L417.4,147.1 L418.4,148.3 L419.4,149.2 L420.4,150.0 L421.4,151.9 L422.4,152.8 L423.4,151.2 L424.4,149.5 L425.4,148.5 L426.4,149.2 L427.4,149.9 L428.4,150.6 L429.4,151.3 L430.4,151.7 L431.4,152.1 L432.4,152.9 L433.4,152.3 L434.4,151.5 L435.4,150.5 L436.4,149.5 L437.4,148.4 L438.4,147.5 L439.4,146.5 L440.4,144.6 L441.4,145.5 L442.4,146.4 L443.4,147.2 L444.4,148.1 L445.4,148.9 L446.4,149.1 L447.4,150.1 L448.4,151.2 L449.4,151.8 L450.4,151.6 L451.4,149.2 L452.4,147.5 L453.4,147.2 L454.4,146.2 L455.4,145.7 L456.4,146.2 L457.4,143.5 L458.4,143.2 L459.4,147.2 L460.4,150.6 L461.4,155.1 L462.4,153.5 L463.4,151.8 L464.4,150.2 L465.4,148.5 L466.4,147.6 L467.4,147.9 L468.4,149.9 L469.4,151.8 L470.4,154.6 L471.4,153.3 L472.4,150.0 L473.4,148.3 L474.4,146.2 L475.4,145.9 L476.4,145.8 L477.4,143.6 L478.4,147.4 L479.4,149.1 L480.4,150.0 L481.4,151.4 L482.4,152.3 L483.4,153.3 L484.4,154.3 L485.4,154.2 L486.4,153.5 L487.4,152.7 L488.4,153.0 L489.4,155.1 L490.4,154.4 L491.4,153.3 L492.4,151.6 L493.4,152.1 L494.4,152.4 L495.4,152.4 L496.4,150.8 L497.4,150.2 L498.4,148.5 L499.4,150.2 L500.4,151.3 L501.4,152.8 L502.4,153.4 L503.4,153.3 L504.4,151.9 L505.4,152.1 L506.4,151.9 L507.4,151.2 L508.4,151.0 L509.4,151.1 L510.4,152.0 L511.4,153.2 L512.4,153.7 L513.4,152.4 L514.4,151.9 L515.4,151.7 L516.4,150.0 L517.4,151.5 L518.4,152.5 L519.4,153.8 L520.4,154.7 L521.4,155.1 L522.4,155.1 L523.4,152.6 L524.4,151.4 L525.4,149.5 L526.4,151.6 L527.4,152.5 L528.4,150.6 L529.4,149.0 L530.4,149.1 L531.4,151.6 L532.4,152.8 L533.4,155.7 L534.4,156.4 L535.4,155.7 L536.4,155.5 L537.4,156.5 L538.4,156.7 L539.4,156.5 L540.4,156.1 L541.4,155.8 L542.4,154.5 L543.4,153.2 L544.4,151.9 L545.4,152.0 L546.4,154.2 L547.4,153.1 L548.4,151.9 L549.4,149.8 L550.4,151.5 L551.4,153.3 L552.4,156.5 L553.4,158.9 L554.4,158.5 L555.4,156.8 L556.4,157.2 L557.4,157.7 L558.4,157.1 L559.4,155.3 L560.4,154.2 L561.4,154.5 L562.4,155.0 L563.4,154.9 L564.4,152.8 L565.4,153.6 L566.4,154.5 L567.4,156.0 L568.4,157.4 L569.4,156.7 L570.4,155.5 L571.4,153.6 L572.4,153.2 L573.4,155.3 L574.4,153.6 L575.4,152.3 L576.4,150.8 L577.4,151.8 L578.4,152.5 L579.4,152.4 L580.4,151.1 L581.4,150.5 L582.4,150.6 L583.4,149.8 L584.4,149.1 L585.4,149.0 L586.4,147.0 L587.4,146.5 L588.4,148.8 L589.4,149.7 L590.4,149.3 L591.4,147.6 L592.4,147.9 L593.4,148.3 L594.4,149.0 L595.4,148.6 L596.4,148.2 L597.4,147.5 L598.4,148.0 L599.4,148.5 L600.4,148.1 L601.4,146.4 L602.4,145.6 L603.4,146.3 L604.4,144.8 L605.4,144.0 L606.4,141.6 L607.4,144.1 L608.4,145.8 L609.4,147.4 L610.4,145.3 L611.4,144.3 L612.4,142.7 L613.4,144.9 L614.4,146.4 L615.4,148.3 L616.4,148.3 L617.4,148.0 L617.8,220.0 L36.4,220.0Z" fill="rgb(64,64,64)"/>
<path d="M95.5,218 L95.5,150 L97,124 L99,112 L101,118 L103,132 L106,148 L112,158 L112,218Z" fill="rgb(36,36,36)"/>
<path d="M96,218 L96,148 L97.5,130 L99.5,120 L101.5,130 L104,145 L108,218Z" fill="rgb(61,61,61)"/>
<path d="M440.0,135.2 L441.5,132.5 L443.0,136.7 L444.5,142.6 L446.0,142.6 L447.5,138.7 L449.0,138.9 L450.5,143.0 L452.0,142.0 L453.5,138.7 L455.0,132.4 L456.5,134.1 L458.0,134.6 L459.5,141.7 L461.0,144.1 L462.5,140.0 L464.0,140.9 L465.5,142.7 L467.0,140.2 L468.5,138.4 L470.0,140.9 L471.5,144.8 L473.0,143.7 L474.5,137.4 L476.0,133.6 L477.5,131.5 L479.0,143.2 L480.5,143.9 L482.0,142.1 L483.5,140.3 L485.0,144.6 L486.5,147.9 L488.0,145.2 L489.5,143.4 L491.0,141.1 L492.5,143.1 L494.0,147.1 L495.5,143.7 L497.0,137.9 L498.5,136.7 L500.0,144.8 L501.5,147.2 L503.0,143.3 L504.5,138.5 L506.0,142.5 L507.5,145.7 L509.0,143.7 L510.5,140.1 L512.0,141.5 L513.5,144.3 L515.0,147.0 L516.5,140.8 L518.0,139.4 L519.5,142.7 L521.0,148.5 L522.5,149.1 L524.0,141.4 L525.5,136.0 L527.0,143.3 L528.5,144.9 L530.0,140.6 L531.5,139.6 L533.0,141.9 L534.5,148.7 L536.0,149.8 L537.5,147.5 L539.0,143.6 L540.5,145.0 L542.0,149.1 L543.5,147.0 L545.0,140.3 L546.5,141.2 L548.0,143.2 L549.5,144.0 L551.0,145.2 L552.5,144.5 L554.0,146.7 L555.5,149.0 L557.0,152.1 L558.5,147.9 L560.0,140.9 L561.5,143.5 L563.0,149.4 L564.5,146.3 L566.0,143.1 L567.5,143.1 L569.0,148.5 L570.5,150.0 L572.0,144.6 L573.5,142.9 L575.0,140.5 L576.5,143.1 L578.0,147.0 L579.5,142.9 L581.0,136.9 L582.5,139.9 L584.0,143.1 L585.5,142.6 L587.0,134.2 L588.5,135.7 L590.0,140.9 L591.5,142.0 L593.0,140.2 L594.5,136.6 L596.0,136.3 L597.5,140.3 L599.0,142.9 L600.5,138.3 L602.0,131.9 L603.5,135.6 L605.0,138.9 L606.5,134.8 L608.0,134.4 L609.5,134.2 L611.0,136.1 L612.5,137.2 L614.0,138.3 L615.5,136.0 L617.0,136.1 L617.8,218.0 L440.0,218.0Z" fill="rgb(51,51,51)"/>
</g>
<linearGradient id="gbody" gradientUnits="userSpaceOnUse" x1="36.4" y1="0" x2="617.8" y2="0"><stop offset="-0.0007" stop-color="rgb(97,97,97)"/><stop offset="0.0991" stop-color="rgb(97,97,97)"/><stop offset="0.1025" stop-color="rgb(102,102,102)"/><stop offset="0.1146" stop-color="rgb(102,102,102)"/><stop offset="0.1232" stop-color="rgb(76,76,76)"/><stop offset="0.1541" stop-color="rgb(76,76,76)"/><stop offset="0.1730" stop-color="rgb(92,92,92)"/><stop offset="0.6942" stop-color="rgb(94,94,94)"/><stop offset="0.7458" stop-color="rgb(99,99,99)"/><stop offset="1.0003" stop-color="rgb(97,97,97)"/></linearGradient>
<linearGradient id="gcore" gradientUnits="userSpaceOnUse" x1="36.4" y1="0" x2="617.8" y2="0"><stop offset="-0.0007" stop-color="rgb(97,97,97)"/><stop offset="0.0991" stop-color="rgb(97,97,97)"/><stop offset="0.1025" stop-color="rgb(153,153,153)"/><stop offset="0.1146" stop-color="rgb(153,153,153)"/><stop offset="0.1232" stop-color="rgb(76,76,76)"/><stop offset="0.1541" stop-color="rgb(82,82,82)"/><stop offset="0.1730" stop-color="rgb(204,204,204)"/><stop offset="0.3072" stop-color="rgb(204,204,204)"/><stop offset="0.4534" stop-color="rgb(191,191,191)"/><stop offset="0.5566" stop-color="rgb(171,171,171)"/><stop offset="0.6942" stop-color="rgb(138,138,138)"/><stop offset="0.7458" stop-color="rgb(110,110,110)"/><stop offset="1.0003" stop-color="rgb(105,105,105)"/></linearGradient>
<linearGradient id="glow" gradientUnits="userSpaceOnUse" x1="36.4" y1="0" x2="617.8" y2="0"><stop offset="-0.0007" stop-color="rgb(97,97,97)"/><stop offset="0.0991" stop-color="rgb(97,97,97)"/><stop offset="0.1025" stop-color="rgb(163,163,163)"/><stop offset="0.1146" stop-color="rgb(158,158,158)"/><stop offset="0.1232" stop-color="rgb(76,76,76)"/><stop offset="0.1541" stop-color="rgb(82,82,82)"/><stop offset="0.1730" stop-color="rgb(158,158,158)"/><stop offset="0.3020" stop-color="rgb(153,153,153)"/><stop offset="0.3330" stop-color="rgb(143,143,143)"/><stop offset="0.5050" stop-color="rgb(133,133,133)"/><stop offset="0.6942" stop-color="rgb(117,117,117)"/><stop offset="0.7458" stop-color="rgb(105,105,105)"/><stop offset="1.0003" stop-color="rgb(99,99,99)"/></linearGradient>
<path d="M36.4,194.0 L37.4,194.0 L38.4,194.1 L39.4,194.1 L40.4,194.1 L41.4,194.1 L42.4,194.1 L43.4,194.2 L44.4,194.2 L45.4,194.2 L46.4,194.2 L47.4,194.2 L48.4,194.3 L49.4,194.3 L50.4,194.3 L51.4,194.3 L52.4,194.3 L53.4,194.4 L54.4,194.4 L55.4,194.4 L56.4,194.4 L57.4,194.4 L58.4,194.5 L59.4,194.5 L60.4,194.5 L61.4,194.5 L62.4,194.5 L63.4,194.5 L64.4,194.5 L65.4,194.5 L66.4,194.5 L67.4,194.5 L68.4,194.5 L69.4,194.5 L70.4,194.5 L71.4,194.5 L72.4,194.5 L73.4,194.5 L74.4,194.5 L75.4,194.5 L76.4,194.5 L77.4,194.5 L78.4,194.5 L79.4,194.5 L80.4,194.5 L81.4,194.5 L82.4,194.5 L83.4,194.5 L84.4,194.5 L85.4,194.5 L86.4,194.5 L87.4,194.5 L88.4,194.5 L89.4,194.5 L90.4,194.5 L91.4,194.5 L92.4,194.5 L93.4,194.5 L94.4,185.1 L95.4,165.7 L96.4,152.3 L97.4,149.6 L98.4,148.0 L99.4,147.1 L100.4,147.5 L101.4,147.8 L102.4,148.6 L103.4,150.1 L104.4,151.2 L105.4,151.7 L106.4,152.2 L107.4,152.7 L108.4,153.2 L109.4,153.7 L110.4,154.2 L111.4,154.7 L112.4,155.2 L113.4,155.7 L114.4,156.2 L115.4,156.7 L116.4,157.2 L117.4,157.7 L118.4,158.2 L119.4,158.7 L120.4,159.2 L121.4,159.6 L122.4,160.0 L123.4,160.4 L124.4,160.8 L125.4,160.8 L126.4,160.2 L127.4,159.7 L128.4,159.1 L129.4,159.7 L130.4,159.3 L131.4,156.9 L132.4,154.6 L133.4,152.3 L134.4,150.7 L135.4,149.3 L136.4,148.0 L137.4,146.7 L138.4,146.3 L139.4,146.0 L140.4,145.6 L141.4,145.6 L142.4,146.3 L143.4,147.0 L144.4,147.6 L145.4,147.5 L146.4,146.8 L147.4,146.1 L148.4,145.4 L149.4,141.7 L150.4,137.1 L151.4,143.9 L152.4,148.4 L153.4,150.1 L154.4,151.9 L155.4,153.6 L156.4,155.3 L157.4,155.7 L158.4,153.0 L159.4,150.2 L160.4,147.5 L161.4,144.7 L162.4,144.6 L163.4,148.7 L164.4,152.8 L165.4,155.0 L166.4,157.2 L167.4,159.5 L168.4,161.7 L169.4,163.9 L170.4,164.9 L171.4,166.0 L172.4,167.0 L173.4,166.2 L174.4,162.8 L175.4,159.3 L176.4,160.2 L177.4,161.5 L178.4,162.8 L179.4,163.6 L180.4,162.3 L181.4,161.0 L182.4,159.7 L183.4,159.9 L184.4,161.6 L185.4,163.4 L186.4,165.1 L187.4,166.9 L188.4,168.0 L189.4,168.6 L190.4,169.3 L191.4,169.9 L192.4,167.0 L193.4,163.6 L194.4,160.2 L195.4,162.4 L196.4,164.6 L197.4,166.7 L198.4,168.9 L199.4,170.3 L200.4,170.8 L201.4,170.9 L202.4,166.9 L203.4,163.0 L204.4,163.2 L205.4,166.2 L206.4,169.2 L207.4,172.2 L208.4,173.9 L209.4,175.6 L210.4,177.2 L211.4,178.8 L212.4,180.4 L213.4,182.0 L214.4,183.1 L215.4,184.1 L216.4,182.9 L217.4,176.8 L218.4,170.6 L219.4,143.9 L220.4,118.3 L221.4,127.2 L222.4,131.9 L223.4,134.4 L224.4,137.0 L225.4,139.2 L226.4,141.2 L227.4,142.0 L228.4,131.7 L229.4,134.2 L230.4,138.1 L231.4,141.3 L232.4,143.3 L233.4,145.3 L234.4,147.3 L235.4,148.1 L236.4,148.5 L237.4,148.8 L238.4,149.1 L239.4,144.5 L240.4,139.9 L241.4,139.8 L242.4,142.7 L243.4,140.2 L244.4,137.1 L245.4,134.0 L246.4,135.5 L247.4,138.9 L248.4,142.1 L249.4,143.8 L250.4,145.6 L251.4,147.4 L252.4,149.2 L253.4,150.8 L254.4,152.2 L255.4,153.6 L256.4,155.0 L257.4,156.4 L258.4,157.8 L259.4,158.6 L260.4,155.0 L261.4,151.3 L262.4,147.6 L263.4,146.4 L264.4,149.0 L265.4,151.6 L266.4,149.9 L267.4,148.2 L268.4,146.6 L269.4,146.1 L270.4,148.4 L271.4,150.7 L272.4,153.1 L273.4,155.0 L274.4,156.6 L275.4,158.2 L276.4,159.8 L277.4,161.5 L278.4,163.1 L279.4,162.3 L280.4,159.1 L281.4,155.9 L282.4,152.7 L283.4,149.5 L284.4,149.4 L285.4,152.4 L286.4,155.4 L287.4,158.4 L288.4,159.8 L289.4,160.8 L290.4,160.1 L291.4,156.9 L292.4,153.7 L293.4,150.5 L294.4,148.3 L295.4,150.6 L296.4,152.8 L297.4,155.0 L298.4,157.3 L299.4,159.6 L300.4,161.9 L301.4,164.2 L302.4,165.4 L303.4,156.7 L304.4,148.0 L305.4,156.2 L306.4,163.4 L307.4,166.7 L308.4,170.0 L309.4,173.3 L310.4,171.6 L311.4,164.8 L312.4,157.9 L313.4,151.1 L314.4,146.1 L315.4,142.4 L316.4,148.2 L317.4,153.4 L318.4,155.9 L319.4,158.3 L320.4,160.8 L321.4,163.2 L322.4,165.7 L323.4,168.4 L324.4,171.0 L325.4,173.7 L326.4,170.4 L327.4,161.2 L328.4,152.1 L329.4,144.5 L330.4,146.7 L331.4,151.3 L332.4,154.9 L333.4,156.9 L334.4,158.9 L335.4,160.8 L336.4,162.8 L337.4,164.7 L338.4,166.5 L339.4,168.3 L340.4,170.1 L341.4,171.9 L342.4,173.7 L343.4,172.0 L344.4,162.2 L345.4,152.4 L346.4,144.6 L347.4,138.8 L348.4,146.2 L349.4,152.7 L350.4,151.0 L351.4,149.4 L352.4,148.7 L353.4,152.1 L354.4,155.6 L355.4,159.0 L356.4,160.8 L357.4,162.6 L358.4,164.4 L359.4,166.2 L360.4,168.0 L361.4,169.7 L362.4,168.8 L363.4,167.1 L364.4,165.5 L365.4,163.7 L366.4,161.2 L367.4,158.6 L368.4,159.2 L369.4,161.2 L370.4,163.2 L371.4,165.2 L372.4,166.5 L373.4,167.8 L374.4,169.2 L375.4,169.5 L376.4,167.5 L377.4,165.5 L378.4,163.5 L379.4,163.6 L380.4,165.1 L381.4,166.6 L382.4,168.1 L383.4,169.6 L384.4,170.8 L385.4,171.8 L386.4,172.8 L387.4,173.8 L388.4,168.0 L389.4,162.2 L390.4,156.5 L391.4,150.4 L392.4,152.0 L393.4,155.4 L394.4,158.9 L395.4,160.7 L396.4,161.3 L397.4,162.0 L398.4,162.6 L399.4,164.8 L400.4,167.1 L401.4,169.4 L402.4,170.4 L403.4,165.7 L404.4,161.1 L405.4,156.4 L406.4,151.3 L407.4,145.8 L408.4,145.3 L409.4,150.0 L410.4,154.7 L411.4,155.2 L412.4,152.9 L413.4,150.6 L414.4,148.2 L415.4,150.4 L416.4,153.0 L417.4,155.7 L418.4,158.1 L419.4,159.8 L420.4,161.5 L421.4,163.2 L422.4,162.3 L423.4,158.8 L424.4,155.3 L425.4,153.3 L426.4,154.8 L427.4,156.2 L428.4,157.7 L429.4,159.1 L430.4,159.8 L431.4,160.6 L432.4,161.3 L433.4,162.1 L434.4,162.3 L435.4,160.3 L436.4,158.3 L437.4,156.3 L438.4,154.3 L439.4,152.4 L440.4,150.4 L441.4,152.2 L442.4,153.9 L443.4,155.7 L444.4,157.4 L445.4,159.0 L446.4,159.4 L447.4,159.7 L448.4,160.1 L449.4,160.1 L450.4,159.7 L451.4,159.2 L452.4,158.8 L453.4,158.3 L454.4,156.2 L455.4,155.2 L456.4,156.2 L457.4,150.8 L458.4,150.3 L459.4,158.2 L460.4,162.5 L461.4,163.5 L462.4,160.4 L463.4,159.5 L464.4,158.2 L465.4,155.7 L466.4,153.8 L467.4,154.4 L468.4,158.6 L469.4,160.9 L470.4,162.1 L471.4,162.1 L472.4,159.5 L473.4,156.1 L474.4,152.0 L475.4,154.0 L476.4,153.8 L477.4,149.4 L478.4,156.9 L479.4,160.4 L480.4,155.8 L481.4,158.6 L482.4,160.5 L483.4,159.6 L484.4,160.5 L485.4,161.0 L486.4,160.6 L487.4,158.9 L488.4,159.5 L489.4,163.7 L490.4,163.0 L491.4,160.8 L492.4,157.4 L493.4,158.3 L494.4,159.1 L495.4,158.7 L496.4,159.0 L497.4,157.8 L498.4,154.3 L499.4,157.7 L500.4,160.0 L501.4,159.5 L502.4,160.7 L503.4,160.5 L504.4,157.7 L505.4,158.4 L506.4,158.5 L507.4,157.4 L508.4,156.9 L509.4,157.3 L510.4,159.0 L511.4,160.7 L512.4,160.8 L513.4,158.2 L514.4,159.6 L515.4,159.2 L516.4,155.8 L517.4,158.7 L518.4,160.8 L519.4,160.4 L520.4,160.6 L521.4,161.3 L522.4,162.7 L523.4,161.5 L524.4,159.1 L525.4,155.3 L526.4,159.4 L527.4,161.4 L528.4,158.8 L529.4,155.6 L530.4,155.7 L531.4,160.9 L532.4,161.5 L533.4,162.1 L534.4,163.4 L535.4,161.9 L536.4,161.6 L537.4,163.6 L538.4,163.3 L539.4,162.7 L540.4,161.9 L541.4,162.4 L542.4,162.1 L543.4,160.8 L544.4,158.4 L545.4,158.6 L546.4,162.9 L547.4,162.3 L548.4,159.8 L549.4,155.6 L550.4,159.0 L551.4,162.7 L552.4,165.5 L553.4,166.7 L554.4,166.0 L555.4,162.6 L556.4,163.4 L557.4,164.6 L558.4,165.8 L559.4,162.3 L560.4,160.0 L561.4,160.6 L562.4,162.9 L563.4,162.8 L564.4,158.6 L565.4,160.2 L566.4,162.1 L567.4,163.4 L568.4,164.3 L569.4,164.6 L570.4,164.1 L571.4,160.4 L572.4,159.6 L573.4,163.8 L574.4,162.2 L575.4,159.7 L576.4,156.6 L577.4,158.5 L578.4,160.1 L579.4,160.2 L580.4,157.6 L581.4,156.4 L582.4,157.8 L583.4,156.1 L584.4,155.8 L585.4,157.9 L586.4,154.0 L587.4,153.0 L588.4,157.5 L589.4,158.1 L590.4,156.8 L591.4,153.4 L592.4,153.9 L593.4,154.8 L594.4,155.7 L595.4,155.4 L596.4,154.6 L597.4,153.3 L598.4,154.3 L599.4,155.4 L600.4,156.4 L601.4,153.2 L602.4,151.5 L603.4,152.9 L604.4,153.7 L605.4,152.3 L606.4,147.4 L607.4,152.4 L608.4,155.7 L609.4,154.6 L610.4,153.7 L611.4,151.8 L612.4,148.5 L613.4,152.9 L614.4,155.8 L615.4,155.4 L616.4,154.5 L617.4,153.8 L617.8,220.0 L36.4,220.0Z" fill="url(#gbody)"/>
<path d="M36.4,194.0 L37.4,194.0 L38.4,194.1 L39.4,194.1 L40.4,194.1 L41.4,194.1 L42.4,194.1 L43.4,194.2 L44.4,194.2 L45.4,194.2 L46.4,194.2 L47.4,194.2 L48.4,194.3 L49.4,194.3 L50.4,194.3 L51.4,194.3 L52.4,194.3 L53.4,194.4 L54.4,194.4 L55.4,194.4 L56.4,194.4 L57.4,194.4 L58.4,194.5 L59.4,194.5 L60.4,194.5 L61.4,194.5 L62.4,194.5 L63.4,194.5 L64.4,194.5 L65.4,194.5 L66.4,194.5 L67.4,194.5 L68.4,194.5 L69.4,194.5 L70.4,194.5 L71.4,194.5 L72.4,194.5 L73.4,194.5 L74.4,194.5 L75.4,194.5 L76.4,194.5 L77.4,194.5 L78.4,194.5 L79.4,194.5 L80.4,194.5 L81.4,194.5 L82.4,194.5 L83.4,194.5 L84.4,194.5 L85.4,194.5 L86.4,194.5 L87.4,194.5 L88.4,194.5 L89.4,194.5 L90.4,194.5 L91.4,194.5 L92.4,194.5 L93.4,194.5 L94.4,185.1 L95.4,165.7 L96.4,152.3 L97.4,149.6 L98.4,148.0 L99.4,147.1 L100.4,147.5 L101.4,147.8 L102.4,148.6 L103.4,150.1 L104.4,151.2 L105.4,151.7 L106.4,152.2 L107.4,152.7 L108.4,153.2 L109.4,153.7 L110.4,154.2 L111.4,154.7 L112.4,155.2 L113.4,155.7 L114.4,156.2 L115.4,156.7 L116.4,157.2 L117.4,157.7 L118.4,158.2 L119.4,158.7 L120.4,159.2 L121.4,159.6 L122.4,160.0 L123.4,160.4 L124.4,160.8 L125.4,160.8 L126.4,160.2 L127.4,159.7 L128.4,159.1 L129.4,159.7 L130.4,159.3 L131.4,156.9 L132.4,154.6 L133.4,152.3 L134.4,150.7 L135.4,149.3 L136.4,148.0 L137.4,146.7 L138.4,146.3 L139.4,146.0 L140.4,145.6 L141.4,145.6 L142.4,146.3 L143.4,147.0 L144.4,147.6 L145.4,147.5 L146.4,146.8 L147.4,146.1 L148.4,145.4 L149.4,141.7 L150.4,137.1 L151.4,143.9 L152.4,148.4 L153.4,150.1 L154.4,151.9 L155.4,153.6 L156.4,155.3 L157.4,155.7 L158.4,153.0 L159.4,150.2 L160.4,147.5 L161.4,144.7 L162.4,144.6 L163.4,148.7 L164.4,152.8 L165.4,155.0 L166.4,157.2 L167.4,159.5 L168.4,161.7 L169.4,163.9 L170.4,164.9 L171.4,166.0 L172.4,167.0 L173.4,166.2 L174.4,162.8 L175.4,159.3 L176.4,160.2 L177.4,161.5 L178.4,162.8 L179.4,163.6 L180.4,162.3 L181.4,161.0 L182.4,159.7 L183.4,159.9 L184.4,161.6 L185.4,163.4 L186.4,165.1 L187.4,166.9 L188.4,168.0 L189.4,168.6 L190.4,169.3 L191.4,169.9 L192.4,167.0 L193.4,163.6 L194.4,160.2 L195.4,162.4 L196.4,164.6 L197.4,166.7 L198.4,168.9 L199.4,170.3 L200.4,170.8 L201.4,170.9 L202.4,166.9 L203.4,163.0 L204.4,163.2 L205.4,166.2 L206.4,169.2 L207.4,172.2 L208.4,173.9 L209.4,175.6 L210.4,177.2 L211.4,178.8 L212.4,180.4 L213.4,182.0 L214.4,183.1 L215.4,184.1 L216.4,182.9 L217.4,176.8 L218.4,170.6 L219.4,143.9 L220.4,118.3 L221.4,127.2 L222.4,131.9 L223.4,134.4 L224.4,137.0 L225.4,139.2 L226.4,141.2 L227.4,142.0 L228.4,131.7 L229.4,134.2 L230.4,138.1 L231.4,141.3 L232.4,143.3 L233.4,145.3 L234.4,147.3 L235.4,148.1 L236.4,148.5 L237.4,148.8 L238.4,149.1 L239.4,144.5 L240.4,139.9 L241.4,139.8 L242.4,142.7 L243.4,140.2 L244.4,137.1 L245.4,134.0 L246.4,135.5 L247.4,138.9 L248.4,142.1 L249.4,143.8 L250.4,145.6 L251.4,147.4 L252.4,149.2 L253.4,150.8 L254.4,152.2 L255.4,153.6 L256.4,155.0 L257.4,156.4 L258.4,157.8 L259.4,158.6 L260.4,155.0 L261.4,151.3 L262.4,147.6 L263.4,146.4 L264.4,149.0 L265.4,151.6 L266.4,149.9 L267.4,148.2 L268.4,146.6 L269.4,146.1 L270.4,148.4 L271.4,150.7 L272.4,153.1 L273.4,155.0 L274.4,156.6 L275.4,158.2 L276.4,159.8 L277.4,161.5 L278.4,163.1 L279.4,162.3 L280.4,159.1 L281.4,155.9 L282.4,152.7 L283.4,149.5 L284.4,149.4 L285.4,152.4 L286.4,155.4 L287.4,158.4 L288.4,159.8 L289.4,160.8 L290.4,160.1 L291.4,156.9 L292.4,153.7 L293.4,150.5 L294.4,148.3 L295.4,150.6 L296.4,152.8 L297.4,155.0 L298.4,157.3 L299.4,159.6 L300.4,161.9 L301.4,164.2 L302.4,165.4 L303.4,156.7 L304.4,148.0 L305.4,156.2 L306.4,163.4 L307.4,166.7 L308.4,170.0 L309.4,173.3 L310.4,171.6 L311.4,164.8 L312.4,157.9 L313.4,151.1 L314.4,146.1 L315.4,142.4 L316.4,148.2 L317.4,153.4 L318.4,155.9 L319.4,158.3 L320.4,160.8 L321.4,163.2 L322.4,165.7 L323.4,168.4 L324.4,171.0 L325.4,173.7 L326.4,170.4 L327.4,161.2 L328.4,152.1 L329.4,144.5 L330.4,146.7 L331.4,151.3 L332.4,154.9 L333.4,156.9 L334.4,158.9 L335.4,160.8 L336.4,162.8 L337.4,164.7 L338.4,166.5 L339.4,168.3 L340.4,170.1 L341.4,171.9 L342.4,173.7 L343.4,172.0 L344.4,162.2 L345.4,152.4 L346.4,144.6 L347.4,138.8 L348.4,146.2 L349.4,152.7 L350.4,151.0 L351.4,149.4 L352.4,148.7 L353.4,152.1 L354.4,155.6 L355.4,159.0 L356.4,160.8 L357.4,162.6 L358.4,164.4 L359.4,166.2 L360.4,168.0 L361.4,169.7 L362.4,168.8 L363.4,167.1 L364.4,165.5 L365.4,163.7 L366.4,161.2 L367.4,158.6 L368.4,159.2 L369.4,161.2 L370.4,163.2 L371.4,165.2 L372.4,166.5 L373.4,167.8 L374.4,169.2 L375.4,169.5 L376.4,167.5 L377.4,165.5 L378.4,163.5 L379.4,163.6 L380.4,165.1 L381.4,166.6 L382.4,168.1 L383.4,169.6 L384.4,170.8 L385.4,171.8 L386.4,172.8 L387.4,173.8 L388.4,168.0 L389.4,162.2 L390.4,156.5 L391.4,150.4 L392.4,152.0 L393.4,155.4 L394.4,158.9 L395.4,160.7 L396.4,161.3 L397.4,162.0 L398.4,162.6 L399.4,164.8 L400.4,167.1 L401.4,169.4 L402.4,170.4 L403.4,165.7 L404.4,161.1 L405.4,156.4 L406.4,151.3 L407.4,145.8 L408.4,145.3 L409.4,150.0 L410.4,154.7 L411.4,155.2 L412.4,152.9 L413.4,150.6 L414.4,148.2 L415.4,150.4 L416.4,153.0 L417.4,155.7 L418.4,158.1 L419.4,159.8 L420.4,161.5 L421.4,163.2 L422.4,162.3 L423.4,158.8 L424.4,155.3 L425.4,153.3 L426.4,154.8 L427.4,156.2 L428.4,157.7 L429.4,159.1 L430.4,159.8 L431.4,160.6 L432.4,161.3 L433.4,162.1 L434.4,162.3 L435.4,160.3 L436.4,158.3 L437.4,156.3 L438.4,154.3 L439.4,152.4 L440.4,150.4 L441.4,152.2 L442.4,153.9 L443.4,155.7 L444.4,157.4 L445.4,159.0 L446.4,159.4 L447.4,159.7 L448.4,160.1 L449.4,160.1 L450.4,159.7 L451.4,159.2 L452.4,158.8 L453.4,158.3 L454.4,156.2 L455.4,155.2 L456.4,156.2 L457.4,150.8 L458.4,150.3 L459.4,158.2 L460.4,162.5 L461.4,163.5 L462.4,160.4 L463.4,159.5 L464.4,158.2 L465.4,155.7 L466.4,153.8 L467.4,154.4 L468.4,158.6 L469.4,160.9 L470.4,162.1 L471.4,162.1 L472.4,159.5 L473.4,156.1 L474.4,152.0 L475.4,154.0 L476.4,153.8 L477.4,149.4 L478.4,156.9 L479.4,160.4 L480.4,155.8 L481.4,158.6 L482.4,160.5 L483.4,159.6 L484.4,160.5 L485.4,161.0 L486.4,160.6 L487.4,158.9 L488.4,159.5 L489.4,163.7 L490.4,163.0 L491.4,160.8 L492.4,157.4 L493.4,158.3 L494.4,159.1 L495.4,158.7 L496.4,159.0 L497.4,157.8 L498.4,154.3 L499.4,157.7 L500.4,160.0 L501.4,159.5 L502.4,160.7 L503.4,160.5 L504.4,157.7 L505.4,158.4 L506.4,158.5 L507.4,157.4 L508.4,156.9 L509.4,157.3 L510.4,159.0 L511.4,160.7 L512.4,160.8 L513.4,158.2 L514.4,159.6 L515.4,159.2 L516.4,155.8 L517.4,158.7 L518.4,160.8 L519.4,160.4 L520.4,160.6 L521.4,161.3 L522.4,162.7 L523.4,161.5 L524.4,159.1 L525.4,155.3 L526.4,159.4 L527.4,161.4 L528.4,158.8 L529.4,155.6 L530.4,155.7 L531.4,160.9 L532.4,161.5 L533.4,162.1 L534.4,163.4 L535.4,161.9 L536.4,161.6 L537.4,163.6 L538.4,163.3 L539.4,162.7 L540.4,161.9 L541.4,162.4 L542.4,162.1 L543.4,160.8 L544.4,158.4 L545.4,158.6 L546.4,162.9 L547.4,162.3 L548.4,159.8 L549.4,155.6 L550.4,159.0 L551.4,162.7 L552.4,165.5 L553.4,166.7 L554.4,166.0 L555.4,162.6 L556.4,163.4 L557.4,164.6 L558.4,165.8 L559.4,162.3 L560.4,160.0 L561.4,160.6 L562.4,162.9 L563.4,162.8 L564.4,158.6 L565.4,160.2 L566.4,162.1 L567.4,163.4 L568.4,164.3 L569.4,164.6 L570.4,164.1 L571.4,160.4 L572.4,159.6 L573.4,163.8 L574.4,162.2 L575.4,159.7 L576.4,156.6 L577.4,158.5 L578.4,160.1 L579.4,160.2 L580.4,157.6 L581.4,156.4 L582.4,157.8 L583.4,156.1 L584.4,155.8 L585.4,157.9 L586.4,154.0 L587.4,153.0 L588.4,157.5 L589.4,158.1 L590.4,156.8 L591.4,153.4 L592.4,153.9 L593.4,154.8 L594.4,155.7 L595.4,155.4 L596.4,154.6 L597.4,153.3 L598.4,154.3 L599.4,155.4 L600.4,156.4 L601.4,153.2 L602.4,151.5 L603.4,152.9 L604.4,153.7 L605.4,152.3 L606.4,147.4 L607.4,152.4 L608.4,155.7 L609.4,154.6 L610.4,153.7 L611.4,151.8 L612.4,148.5 L613.4,152.9 L614.4,155.8 L615.4,155.4 L616.4,154.5 L617.4,153.8 L617.8,188.5 L616.8,188.6 L615.8,188.8 L614.8,188.6 L613.8,188.4 L612.8,188.2 L611.8,188.0 L610.8,187.8 L609.8,187.6 L608.8,187.4 L607.8,187.7 L606.8,188.0 L605.8,188.3 L604.8,188.7 L603.8,189.0 L602.8,189.3 L601.8,189.7 L600.8,190.0 L599.8,190.3 L598.8,190.3 L597.8,190.3 L596.8,190.3 L595.8,190.3 L594.8,190.3 L593.8,190.3 L592.8,190.3 L591.8,190.3 L590.8,190.4 L589.8,190.5 L588.8,190.7 L587.8,190.9 L586.8,191.1 L585.8,191.2 L584.8,191.4 L583.8,191.6 L582.8,191.7 L581.8,191.8 L580.8,191.8 L579.8,191.8 L578.8,191.8 L577.8,191.8 L576.8,191.8 L575.8,191.8 L574.8,191.8 L573.8,191.8 L572.8,192.0 L571.8,192.2 L570.8,192.4 L569.8,192.5 L568.8,192.7 L567.8,192.9 L566.8,193.1 L565.8,193.1 L564.8,193.0 L563.8,192.8 L562.8,192.7 L561.8,192.5 L560.8,192.4 L559.8,192.2 L558.8,192.1 L557.8,191.9 L556.8,191.7 L555.8,191.3 L554.8,190.8 L553.8,190.4 L552.8,190.0 L551.8,189.6 L550.8,189.2 L549.8,188.8 L548.8,188.8 L547.8,188.8 L546.8,188.8 L545.8,188.8 L544.8,188.8 L543.8,188.8 L542.8,188.8 L541.8,188.8 L540.8,188.9 L539.8,189.0 L538.8,189.2 L537.8,189.4 L536.8,189.5 L535.8,189.7 L534.8,189.9 L533.8,190.1 L532.8,190.2 L531.8,190.2 L530.8,190.0 L529.8,189.9 L528.8,189.7 L527.8,189.5 L526.8,189.3 L525.8,189.2 L524.8,189.0 L523.8,188.8 L522.8,188.6 L521.8,188.4 L520.8,188.3 L519.8,188.1 L518.8,187.9 L517.8,187.7 L516.8,187.5 L515.8,188.9 L514.8,191.4 L513.8,193.9 L512.8,193.3 L511.8,191.4 L510.8,189.5 L509.8,187.5 L508.8,186.0 L507.8,186.3 L506.8,186.5 L505.8,186.8 L504.8,187.0 L503.8,187.3 L502.8,187.4 L501.8,187.4 L500.8,187.4 L499.8,187.4 L498.8,187.4 L497.8,187.4 L496.8,187.4 L495.8,187.4 L494.8,187.6 L493.8,187.8 L492.8,188.0 L491.8,188.2 L490.8,188.4 L489.8,188.6 L488.8,188.8 L487.8,188.4 L486.8,187.9 L485.8,187.4 L484.8,186.9 L483.8,186.4 L482.8,186.0 L481.8,186.5 L480.8,187.0 L479.8,187.5 L478.8,187.9 L477.8,188.4 L476.8,187.1 L475.8,178.9 L474.8,179.1 L473.8,181.4 L472.8,183.7 L471.8,186.0 L470.8,187.1 L469.8,186.5 L468.8,185.8 L467.8,185.2 L466.8,184.5 L465.8,185.2 L464.8,186.0 L463.8,186.7 L462.8,187.5 L461.8,188.2 L460.8,188.3 L459.8,186.2 L458.8,184.6 L457.8,183.1 L456.8,181.6 L455.8,180.0 L454.8,179.6 L453.8,180.8 L452.8,182.1 L451.8,183.3 L450.8,184.6 L449.8,188.6 L448.8,189.4 L447.8,190.1 L446.8,190.9 L445.8,191.6 L444.8,191.1 L443.8,189.3 L442.8,187.6 L441.8,185.8 L440.8,184.0 L439.8,184.2 L438.8,185.7 L437.8,187.2 L436.8,188.7 L435.8,190.2 L434.8,190.5 L433.8,190.3 L432.8,190.1 L431.8,189.8 L430.8,189.6 L429.8,188.4 L428.8,186.9 L427.8,185.4 L426.8,183.9 L425.8,182.4 L424.8,184.1 L423.8,186.6 L422.8,189.1 L421.8,191.6 L420.8,194.1 L419.8,191.6 L418.8,188.5 L417.8,185.4 L416.8,182.3 L415.8,179.2 L414.8,179.0 L413.8,181.6 L412.8,184.3 L411.8,186.9 L410.8,189.5 L409.8,186.9 L408.8,184.2 L407.8,181.6 L406.8,181.4 L405.8,187.0 L404.8,192.7 L403.8,198.3 L402.8,198.9 L401.8,196.2 L400.8,193.4 L399.8,190.6 L398.8,187.8 L397.8,188.2 L396.8,189.8 L395.8,191.5 L394.8,193.2 L393.8,191.2 L392.8,189.2 L391.8,187.2 L390.8,187.2 L389.8,191.8 L388.8,196.5 L387.8,201.1 L386.8,201.5 L385.8,198.9 L384.8,196.5 L383.8,194.5 L382.8,192.5 L381.8,190.6 L380.8,188.6 L379.8,186.6 L378.8,184.6 L377.8,187.1 L376.8,189.6 L375.8,192.1 L374.8,194.6 L373.8,196.9 L372.8,196.4 L371.8,195.9 L370.8,194.1 L369.8,191.4 L368.8,188.7 L367.8,186.1 L366.8,188.3 L365.8,191.1 L364.8,193.8 L363.8,196.6 L362.8,199.4 L361.8,197.8 L360.8,196.2 L359.8,194.5 L358.8,192.9 L357.8,191.3 L356.8,189.7 L355.8,187.5 L354.8,185.3 L353.8,183.1 L352.8,180.8 L351.8,178.6 L350.8,180.7 L349.8,183.3 L348.8,181.9 L347.8,176.4 L346.8,171.0 L345.8,183.8 L344.8,196.6 L343.8,202.0 L342.8,200.0 L341.8,198.0 L340.8,196.0 L339.8,194.0 L338.8,192.1 L337.8,190.4 L336.8,188.6 L335.8,186.9 L334.8,185.1 L333.8,183.3 L332.8,181.5 L331.8,179.6 L330.8,177.8 L329.8,176.0 L328.8,177.0 L327.8,184.7 L326.8,192.5 L325.8,199.2 L324.8,197.2 L323.8,195.2 L322.8,193.2 L321.8,191.2 L320.8,189.2 L319.8,187.2 L318.8,184.5 L317.8,181.8 L316.8,179.0 L315.8,176.3 L314.8,173.5 L313.8,178.3 L312.8,183.1 L311.8,187.8 L310.8,192.6 L309.8,196.6 L308.8,194.0 L307.8,191.4 L306.8,188.8 L305.8,185.9 L304.8,183.0 L303.8,180.0 L302.8,190.7 L301.8,195.3 L300.8,192.2 L299.8,189.1 L298.8,186.4 L297.8,183.7 L296.8,181.0 L295.8,178.3 L294.8,176.2 L293.8,178.7 L292.8,181.2 L291.8,183.7 L290.8,186.2 L289.8,188.0 L288.8,186.9 L287.8,185.9 L286.8,183.0 L285.8,179.7 L284.8,176.4 L283.8,174.0 L282.8,179.6 L281.8,185.3 L280.8,190.9 L279.8,193.5 L278.8,191.5 L277.8,189.5 L276.8,187.6 L275.8,185.6 L274.8,183.6 L273.8,181.6 L272.8,179.7 L271.8,177.7 L270.8,175.7 L269.8,173.8 L268.8,175.1 L267.8,177.1 L266.8,179.2 L265.8,177.4 L264.8,174.6 L263.8,171.8 L262.8,174.7 L261.8,180.0 L260.8,185.3 L259.8,185.5 L258.8,183.6 L257.8,181.8 L256.8,180.8 L255.8,179.7 L254.8,178.7 L253.8,178.0 L252.8,177.5 L251.8,177.1 L250.8,176.6 L249.8,176.1 L248.8,174.1 L247.8,171.1 L246.8,168.1 L245.8,165.1 L244.8,168.7 L243.8,171.9 L242.8,170.6 L241.8,169.9 L240.8,170.4 L239.8,170.9 L238.8,172.6 L237.8,174.5 L236.8,175.6 L235.8,174.6 L234.8,173.6 L233.8,172.6 L232.8,171.0 L231.8,168.9 L230.8,166.9 L229.8,164.8 L228.8,167.1 L227.8,169.4 L226.8,171.8 L225.8,173.1 L224.8,172.2 L223.8,171.2 L222.8,163.6 L221.8,155.1 L220.8,147.1 L219.8,162.6 L218.8,193.7 L217.8,205.6 L216.8,209.9 L215.8,212.3 L214.8,210.3 L213.8,208.3 L212.8,206.3 L211.8,204.7 L210.8,203.5 L209.8,202.2 L208.8,200.9 L207.8,199.7 L206.8,197.4 L205.8,194.8 L204.8,192.1 L203.8,189.5 L202.8,195.9 L201.8,202.3 L200.8,205.0 L199.8,204.0 L198.8,203.0 L197.8,202.0 L196.8,199.7 L195.8,197.0 L194.8,194.3 L193.8,192.4 L192.8,197.1 L191.8,201.7 L190.8,205.2 L189.8,203.8 L188.8,202.4 L187.8,201.0 L186.8,199.6 L185.8,197.8 L184.8,195.9 L183.8,193.9 L182.8,192.0 L181.8,191.6 L180.8,194.6 L179.8,197.5 L178.8,198.2 L177.8,195.3 L176.8,192.4 L175.8,193.2 L174.8,199.3 L173.8,205.5 L172.8,203.2 L171.8,201.0 L170.8,198.7 L169.8,196.5 L168.8,195.0 L167.8,194.0 L166.8,193.0 L165.8,192.0 L164.8,189.5 L163.8,186.8 L162.8,184.1 L161.8,184.7 L160.8,186.8 L159.8,188.2 L158.8,189.6 L157.8,190.9 L156.8,191.5 L155.8,190.0 L154.8,188.5 L153.8,187.1 L152.8,185.6 L151.8,183.8 L150.8,181.2 L149.8,181.2 L148.8,185.4 L147.8,186.1 L146.8,184.5 L145.8,183.1 L144.8,182.1 L143.8,181.1 L142.8,180.1 L141.8,180.1 L140.8,181.1 L139.8,182.1 L138.8,183.1 L137.8,184.6 L136.8,186.3 L135.8,188.0 L134.8,189.8 L133.8,192.3 L132.8,194.8 L131.8,197.3 L130.8,199.8 L129.8,196.8 L128.8,196.6 L127.8,196.4 L126.8,196.3 L125.8,196.1 L124.8,196.1 L123.8,196.7 L122.8,197.6 L121.8,198.9 L120.8,200.0 L119.8,200.0 L118.8,200.0 L117.8,199.6 L116.8,198.9 L115.8,198.9 L114.8,200.2 L113.8,201.5 L112.8,200.7 L111.8,199.8 L110.8,198.8 L109.8,197.1 L108.8,195.1 L107.8,193.1 L106.8,191.3 L105.8,189.8 L104.8,188.3 L103.8,186.9 L102.8,185.6 L101.8,184.2 L100.8,181.7 L99.8,182.8 L98.8,189.4 L97.8,196.1 L96.8,197.1 L95.8,198.1 L94.8,206.8 L93.8,209.2 L92.8,210.0 L91.8,210.5 L90.8,210.3 L89.8,209.2 L88.8,209.6 L87.8,209.9 L86.8,209.8 L85.8,209.3 L84.8,209.6 L83.8,210.0 L82.8,209.8 L81.8,208.9 L80.8,208.6 L79.8,208.6 L78.8,209.2 L77.8,209.8 L76.8,209.4 L75.8,210.0 L74.8,210.1 L73.8,209.7 L72.8,209.0 L71.8,210.4 L70.8,209.8 L69.8,209.1 L68.8,208.7 L67.8,208.8 L66.8,205.5 L65.8,204.0 L64.8,205.0 L63.8,208.5 L62.8,210.5 L61.8,210.2 L60.8,209.7 L59.8,210.1 L58.8,210.9 L57.8,210.5 L56.8,209.7 L55.8,209.0 L54.8,208.7 L53.8,210.1 L52.8,210.2 L51.8,209.4 L50.8,208.7 L49.8,208.6 L48.8,209.1 L47.8,209.3 L46.8,208.6 L45.8,209.6 L44.8,209.1 L43.8,208.9 L42.8,209.5 L41.8,209.9 L40.8,209.0 L39.8,209.3 L38.8,209.9 L37.8,208.8 L36.8,209.2Z" fill="url(#glow)"/>
<path d="M36.4,194.0 L37.4,194.0 L38.4,194.1 L39.4,194.1 L40.4,194.1 L41.4,194.1 L42.4,194.1 L43.4,194.2 L44.4,194.2 L45.4,194.2 L46.4,194.2 L47.4,194.2 L48.4,194.3 L49.4,194.3 L50.4,194.3 L51.4,194.3 L52.4,194.3 L53.4,194.4 L54.4,194.4 L55.4,194.4 L56.4,194.4 L57.4,194.4 L58.4,194.5 L59.4,194.5 L60.4,194.5 L61.4,194.5 L62.4,194.5 L63.4,194.5 L64.4,194.5 L65.4,194.5 L66.4,194.5 L67.4,194.5 L68.4,194.5 L69.4,194.5 L70.4,194.5 L71.4,194.5 L72.4,194.5 L73.4,194.5 L74.4,194.5 L75.4,194.5 L76.4,194.5 L77.4,194.5 L78.4,194.5 L79.4,194.5 L80.4,194.5 L81.4,194.5 L82.4,194.5 L83.4,194.5 L84.4,194.5 L85.4,194.5 L86.4,194.5 L87.4,194.5 L88.4,194.5 L89.4,194.5 L90.4,194.5 L91.4,194.5 L92.4,194.5 L93.4,194.5 L94.4,185.1 L95.4,165.7 L96.4,152.3 L97.4,149.6 L98.4,148.0 L99.4,147.1 L100.4,147.5 L101.4,147.8 L102.4,148.6 L103.4,150.1 L104.4,151.2 L105.4,151.7 L106.4,152.2 L107.4,152.7 L108.4,153.2 L109.4,153.7 L110.4,154.2 L111.4,154.7 L112.4,155.2 L113.4,155.7 L114.4,156.2 L115.4,156.7 L116.4,157.2 L117.4,157.7 L118.4,158.2 L119.4,158.7 L120.4,159.2 L121.4,159.6 L122.4,160.0 L123.4,160.4 L124.4,160.8 L125.4,160.8 L126.4,160.2 L127.4,159.7 L128.4,159.1 L129.4,159.7 L130.4,159.3 L131.4,156.9 L132.4,154.6 L133.4,152.3 L134.4,150.7 L135.4,149.3 L136.4,148.0 L137.4,146.7 L138.4,146.3 L139.4,146.0 L140.4,145.6 L141.4,145.6 L142.4,146.3 L143.4,147.0 L144.4,147.6 L145.4,147.5 L146.4,146.8 L147.4,146.1 L148.4,145.4 L149.4,141.7 L150.4,137.1 L151.4,143.9 L152.4,148.4 L153.4,150.1 L154.4,151.9 L155.4,153.6 L156.4,155.3 L157.4,155.7 L158.4,153.0 L159.4,150.2 L160.4,147.5 L161.4,144.7 L162.4,144.6 L163.4,148.7 L164.4,152.8 L165.4,155.0 L166.4,157.2 L167.4,159.5 L168.4,161.7 L169.4,163.9 L170.4,164.9 L171.4,166.0 L172.4,167.0 L173.4,166.2 L174.4,162.8 L175.4,159.3 L176.4,160.2 L177.4,161.5 L178.4,162.8 L179.4,163.6 L180.4,162.3 L181.4,161.0 L182.4,159.7 L183.4,159.9 L184.4,161.6 L185.4,163.4 L186.4,165.1 L187.4,166.9 L188.4,168.0 L189.4,168.6 L190.4,169.3 L191.4,169.9 L192.4,167.0 L193.4,163.6 L194.4,160.2 L195.4,162.4 L196.4,164.6 L197.4,166.7 L198.4,168.9 L199.4,170.3 L200.4,170.8 L201.4,170.9 L202.4,166.9 L203.4,163.0 L204.4,163.2 L205.4,166.2 L206.4,169.2 L207.4,172.2 L208.4,173.9 L209.4,175.6 L210.4,177.2 L211.4,178.8 L212.4,180.4 L213.4,182.0 L214.4,183.1 L215.4,184.1 L216.4,182.9 L217.4,176.8 L218.4,170.6 L219.4,143.9 L220.4,118.3 L221.4,127.2 L222.4,131.9 L223.4,134.4 L224.4,137.0 L225.4,139.2 L226.4,141.2 L227.4,142.0 L228.4,131.7 L229.4,134.2 L230.4,138.1 L231.4,141.3 L232.4,143.3 L233.4,145.3 L234.4,147.3 L235.4,148.1 L236.4,148.5 L237.4,148.8 L238.4,149.1 L239.4,144.5 L240.4,139.9 L241.4,139.8 L242.4,142.7 L243.4,140.2 L244.4,137.1 L245.4,134.0 L246.4,135.5 L247.4,138.9 L248.4,142.1 L249.4,143.8 L250.4,145.6 L251.4,147.4 L252.4,149.2 L253.4,150.8 L254.4,152.2 L255.4,153.6 L256.4,155.0 L257.4,156.4 L258.4,157.8 L259.4,158.6 L260.4,155.0 L261.4,151.3 L262.4,147.6 L263.4,146.4 L264.4,149.0 L265.4,151.6 L266.4,149.9 L267.4,148.2 L268.4,146.6 L269.4,146.1 L270.4,148.4 L271.4,150.7 L272.4,153.1 L273.4,155.0 L274.4,156.6 L275.4,158.2 L276.4,159.8 L277.4,161.5 L278.4,163.1 L279.4,162.3 L280.4,159.1 L281.4,155.9 L282.4,152.7 L283.4,149.5 L284.4,149.4 L285.4,152.4 L286.4,155.4 L287.4,158.4 L288.4,159.8 L289.4,160.8 L290.4,160.1 L291.4,156.9 L292.4,153.7 L293.4,150.5 L294.4,148.3 L295.4,150.6 L296.4,152.8 L297.4,155.0 L298.4,157.3 L299.4,159.6 L300.4,161.9 L301.4,164.2 L302.4,165.4 L303.4,156.7 L304.4,148.0 L305.4,156.2 L306.4,163.4 L307.4,166.7 L308.4,170.0 L309.4,173.3 L310.4,171.6 L311.4,164.8 L312.4,157.9 L313.4,151.1 L314.4,146.1 L315.4,142.4 L316.4,148.2 L317.4,153.4 L318.4,155.9 L319.4,158.3 L320.4,160.8 L321.4,163.2 L322.4,165.7 L323.4,168.4 L324.4,171.0 L325.4,173.7 L326.4,170.4 L327.4,161.2 L328.4,152.1 L329.4,144.5 L330.4,146.7 L331.4,151.3 L332.4,154.9 L333.4,156.9 L334.4,158.9 L335.4,160.8 L336.4,162.8 L337.4,164.7 L338.4,166.5 L339.4,168.3 L340.4,170.1 L341.4,171.9 L342.4,173.7 L343.4,172.0 L344.4,162.2 L345.4,152.4 L346.4,144.6 L347.4,138.8 L348.4,146.2 L349.4,152.7 L350.4,151.0 L351.4,149.4 L352.4,148.7 L353.4,152.1 L354.4,155.6 L355.4,159.0 L356.4,160.8 L357.4,162.6 L358.4,164.4 L359.4,166.2 L360.4,168.0 L361.4,169.7 L362.4,168.8 L363.4,167.1 L364.4,165.5 L365.4,163.7 L366.4,161.2 L367.4,158.6 L368.4,159.2 L369.4,161.2 L370.4,163.2 L371.4,165.2 L372.4,166.5 L373.4,167.8 L374.4,169.2 L375.4,169.5 L376.4,167.5 L377.4,165.5 L378.4,163.5 L379.4,163.6 L380.4,165.1 L381.4,166.6 L382.4,168.1 L383.4,169.6 L384.4,170.8 L385.4,171.8 L386.4,172.8 L387.4,173.8 L388.4,168.0 L389.4,162.2 L390.4,156.5 L391.4,150.4 L392.4,152.0 L393.4,155.4 L394.4,158.9 L395.4,160.7 L396.4,161.3 L397.4,162.0 L398.4,162.6 L399.4,164.8 L400.4,167.1 L401.4,169.4 L402.4,170.4 L403.4,165.7 L404.4,161.1 L405.4,156.4 L406.4,151.3 L407.4,145.8 L408.4,145.3 L409.4,150.0 L410.4,154.7 L411.4,155.2 L412.4,152.9 L413.4,150.6 L414.4,148.2 L415.4,150.4 L416.4,153.0 L417.4,155.7 L418.4,158.1 L419.4,159.8 L420.4,161.5 L421.4,163.2 L422.4,162.3 L423.4,158.8 L424.4,155.3 L425.4,153.3 L426.4,154.8 L427.4,156.2 L428.4,157.7 L429.4,159.1 L430.4,159.8 L431.4,160.6 L432.4,161.3 L433.4,162.1 L434.4,162.3 L435.4,160.3 L436.4,158.3 L437.4,156.3 L438.4,154.3 L439.4,152.4 L440.4,150.4 L441.4,152.2 L442.4,153.9 L443.4,155.7 L444.4,157.4 L445.4,159.0 L446.4,159.4 L447.4,159.7 L448.4,160.1 L449.4,160.1 L450.4,159.7 L451.4,159.2 L452.4,158.8 L453.4,158.3 L454.4,156.2 L455.4,155.2 L456.4,156.2 L457.4,150.8 L458.4,150.3 L459.4,158.2 L460.4,162.5 L461.4,163.5 L462.4,160.4 L463.4,159.5 L464.4,158.2 L465.4,155.7 L466.4,153.8 L467.4,154.4 L468.4,158.6 L469.4,160.9 L470.4,162.1 L471.4,162.1 L472.4,159.5 L473.4,156.1 L474.4,152.0 L475.4,154.0 L476.4,153.8 L477.4,149.4 L478.4,156.9 L479.4,160.4 L480.4,155.8 L481.4,158.6 L482.4,160.5 L483.4,159.6 L484.4,160.5 L485.4,161.0 L486.4,160.6 L487.4,158.9 L488.4,159.5 L489.4,163.7 L490.4,163.0 L491.4,160.8 L492.4,157.4 L493.4,158.3 L494.4,159.1 L495.4,158.7 L496.4,159.0 L497.4,157.8 L498.4,154.3 L499.4,157.7 L500.4,160.0 L501.4,159.5 L502.4,160.7 L503.4,160.5 L504.4,157.7 L505.4,158.4 L506.4,158.5 L507.4,157.4 L508.4,156.9 L509.4,157.3 L510.4,159.0 L511.4,160.7 L512.4,160.8 L513.4,158.2 L514.4,159.6 L515.4,159.2 L516.4,155.8 L517.4,158.7 L518.4,160.8 L519.4,160.4 L520.4,160.6 L521.4,161.3 L522.4,162.7 L523.4,161.5 L524.4,159.1 L525.4,155.3 L526.4,159.4 L527.4,161.4 L528.4,158.8 L529.4,155.6 L530.4,155.7 L531.4,160.9 L532.4,161.5 L533.4,162.1 L534.4,163.4 L535.4,161.9 L536.4,161.6 L537.4,163.6 L538.4,163.3 L539.4,162.7 L540.4,161.9 L541.4,162.4 L542.4,162.1 L543.4,160.8 L544.4,158.4 L545.4,158.6 L546.4,162.9 L547.4,162.3 L548.4,159.8 L549.4,155.6 L550.4,159.0 L551.4,162.7 L552.4,165.5 L553.4,166.7 L554.4,166.0 L555.4,162.6 L556.4,163.4 L557.4,164.6 L558.4,165.8 L559.4,162.3 L560.4,160.0 L561.4,160.6 L562.4,162.9 L563.4,162.8 L564.4,158.6 L565.4,160.2 L566.4,162.1 L567.4,163.4 L568.4,164.3 L569.4,164.6 L570.4,164.1 L571.4,160.4 L572.4,159.6 L573.4,163.8 L574.4,162.2 L575.4,159.7 L576.4,156.6 L577.4,158.5 L578.4,160.1 L579.4,160.2 L580.4,157.6 L581.4,156.4 L582.4,157.8 L583.4,156.1 L584.4,155.8 L585.4,157.9 L586.4,154.0 L587.4,153.0 L588.4,157.5 L589.4,158.1 L590.4,156.8 L591.4,153.4 L592.4,153.9 L593.4,154.8 L594.4,155.7 L595.4,155.4 L596.4,154.6 L597.4,153.3 L598.4,154.3 L599.4,155.4 L600.4,156.4 L601.4,153.2 L602.4,151.5 L603.4,152.9 L604.4,153.7 L605.4,152.3 L606.4,147.4 L607.4,152.4 L608.4,155.7 L609.4,154.6 L610.4,153.7 L611.4,151.8 L612.4,148.5 L613.4,152.9 L614.4,155.8 L615.4,155.4 L616.4,154.5 L617.4,153.8 L617.8,162.8 L616.8,163.0 L615.8,164.1 L614.8,164.7 L613.8,163.9 L612.8,158.7 L611.8,159.5 L610.8,162.3 L609.8,163.2 L608.8,164.3 L607.8,163.9 L606.8,157.8 L605.8,159.3 L604.8,163.0 L603.8,162.3 L602.8,161.0 L601.8,160.6 L600.8,164.4 L599.8,164.8 L598.8,163.7 L597.8,162.6 L596.8,163.1 L595.8,164.2 L594.8,164.6 L593.8,164.2 L592.8,163.3 L591.8,162.4 L590.8,164.5 L589.8,167.1 L588.8,167.0 L587.8,163.8 L586.8,161.1 L585.8,165.7 L584.8,165.6 L583.8,164.3 L582.8,166.3 L581.8,166.0 L580.8,165.5 L579.8,168.3 L578.8,169.1 L577.8,168.5 L576.8,166.0 L575.8,167.4 L574.8,170.3 L573.8,172.6 L572.8,170.3 L571.8,167.8 L570.8,171.9 L569.8,173.4 L568.8,173.7 L567.8,172.8 L566.8,171.6 L565.8,170.1 L564.8,167.8 L563.8,170.1 L562.8,173.0 L561.8,170.4 L560.8,169.3 L559.8,169.6 L558.8,173.7 L557.8,174.1 L556.8,172.9 L555.8,171.7 L554.8,173.7 L553.8,176.2 L552.8,175.1 L551.8,172.8 L550.8,169.7 L549.8,165.4 L548.8,167.1 L547.8,170.8 L546.8,172.0 L545.8,169.3 L544.8,166.4 L543.8,168.9 L542.8,170.6 L541.8,171.6 L540.8,171.0 L539.8,171.4 L538.8,172.1 L537.8,172.6 L536.8,171.4 L535.8,170.2 L534.8,172.0 L533.8,171.6 L532.8,170.5 L531.8,170.4 L530.8,166.8 L529.8,163.3 L528.8,166.6 L527.8,169.4 L526.8,170.4 L525.8,165.4 L524.8,166.6 L523.8,169.9 L522.8,171.4 L521.8,170.9 L520.8,169.7 L519.8,169.5 L518.8,169.7 L517.8,169.2 L516.8,165.5 L515.8,166.9 L514.8,169.3 L513.8,167.5 L512.8,168.7 L511.8,170.4 L510.8,168.7 L509.8,166.9 L508.8,165.7 L507.8,166.2 L506.8,167.1 L505.8,167.8 L504.8,166.8 L503.8,168.4 L502.8,170.3 L501.8,168.9 L500.8,168.8 L499.8,168.4 L498.8,164.2 L497.8,165.4 L496.8,168.1 L495.8,167.8 L494.8,167.9 L493.8,167.9 L492.8,166.5 L491.8,168.4 L490.8,171.4 L489.8,172.8 L488.8,170.2 L487.8,167.2 L486.8,169.0 L485.8,169.8 L484.8,170.0 L483.8,168.9 L482.8,169.1 L481.8,169.1 L480.8,165.4 L479.8,167.6 L478.8,169.5 L477.8,160.6 L476.8,161.1 L475.8,164.1 L474.8,161.4 L473.8,163.5 L472.8,167.3 L471.8,170.3 L470.8,171.1 L469.8,170.7 L468.8,168.6 L467.8,165.1 L466.8,162.1 L465.8,163.9 L464.8,166.2 L463.8,168.3 L462.8,168.9 L461.8,171.3 L460.8,173.0 L459.8,169.1 L458.8,162.5 L457.8,157.4 L456.8,163.4 L455.8,164.6 L454.8,164.3 L453.8,166.6 L452.8,167.6 L451.8,168.0 L450.8,168.5 L449.8,168.9 L448.8,169.2 L447.8,168.9 L446.8,168.5 L445.8,168.2 L444.8,167.1 L443.8,165.4 L442.8,163.6 L441.8,161.9 L440.8,160.1 L439.8,160.6 L438.8,162.5 L437.8,164.5 L436.8,166.5 L435.8,168.5 L434.8,170.5 L433.8,171.4 L432.8,170.6 L431.8,169.9 L430.8,169.1 L429.8,168.4 L428.8,167.3 L427.8,165.8 L426.8,164.4 L425.8,162.9 L424.8,162.9 L423.8,166.4 L422.8,169.9 L421.8,172.8 L420.8,171.2 L419.8,169.5 L418.8,167.8 L417.8,165.7 L416.8,163.1 L415.8,160.4 L414.8,157.8 L413.8,158.6 L412.8,161.0 L411.8,163.3 L410.8,165.6 L409.8,160.9 L408.8,156.2 L407.8,152.6 L406.8,158.1 L405.8,163.6 L404.8,168.2 L403.8,172.9 L402.8,177.5 L401.8,179.4 L400.8,177.0 L399.8,174.7 L398.8,172.4 L397.8,171.2 L396.8,170.6 L395.8,169.9 L394.8,169.3 L393.8,165.8 L392.8,162.4 L391.8,158.9 L390.8,163.1 L389.8,168.9 L388.8,174.7 L387.8,180.5 L386.8,182.2 L385.8,181.2 L384.8,180.2 L383.8,179.2 L382.8,177.7 L381.8,176.2 L380.8,174.7 L379.8,173.2 L378.8,171.7 L377.8,173.7 L376.8,175.7 L375.8,177.7 L374.8,178.7 L373.8,177.4 L372.8,176.1 L371.8,174.7 L370.8,173.0 L369.8,171.0 L368.8,169.0 L367.8,167.0 L366.8,169.1 L365.8,171.7 L364.8,173.8 L363.8,175.5 L362.8,177.1 L361.8,178.8 L360.8,177.7 L359.8,175.9 L358.8,174.1 L357.8,172.3 L356.8,170.5 L355.8,168.7 L354.8,165.9 L353.8,162.5 L352.8,159.1 L351.8,157.7 L350.8,159.4 L349.8,161.1 L348.8,158.2 L347.8,150.8 L346.8,150.7 L345.8,158.0 L344.8,167.3 L343.8,177.1 L342.8,183.5 L341.8,181.7 L340.8,179.9 L339.8,178.0 L338.8,176.2 L337.8,174.4 L336.8,172.6 L335.8,170.6 L334.8,168.6 L333.8,166.7 L332.8,164.7 L331.8,162.2 L330.8,157.5 L329.8,152.9 L328.8,158.1 L327.8,166.5 L326.8,175.7 L325.8,183.7 L324.8,181.1 L323.8,178.4 L322.8,175.8 L321.8,173.2 L320.8,170.8 L319.8,168.3 L318.8,165.8 L317.8,163.4 L316.8,159.6 L315.8,153.7 L314.8,153.2 L313.8,158.0 L312.8,164.2 L311.8,171.0 L310.8,177.9 L309.8,183.7 L308.8,180.3 L307.8,177.0 L306.8,173.7 L305.8,168.4 L304.8,160.3 L303.8,162.2 L302.8,170.9 L301.8,174.1 L300.8,171.8 L299.8,169.5 L298.8,167.2 L297.8,164.9 L296.8,162.7 L295.8,160.5 L294.8,158.2 L293.8,158.2 L292.8,161.4 L291.8,164.6 L290.8,167.8 L289.8,170.2 L288.8,169.2 L287.8,168.2 L286.8,165.6 L285.8,162.6 L284.8,159.6 L283.8,157.2 L282.8,160.4 L281.8,163.6 L280.8,166.8 L279.8,170.0 L278.8,172.7 L277.8,171.1 L276.8,169.5 L275.8,167.9 L274.8,166.2 L273.8,164.6 L272.8,163.0 L271.8,160.7 L270.8,158.4 L269.8,156.0 L268.8,154.9 L267.8,156.6 L266.8,158.3 L265.8,159.9 L264.8,159.0 L263.8,156.5 L262.8,155.1 L261.8,158.8 L260.8,162.5 L259.8,166.2 L258.8,167.3 L257.8,165.9 L256.8,164.5 L255.8,163.1 L254.8,161.8 L253.8,160.4 L252.8,158.9 L251.8,157.1 L250.8,155.3 L249.8,153.5 L248.8,151.8 L247.8,149.3 L246.8,145.9 L245.8,142.4 L244.8,144.9 L243.8,148.0 L242.8,151.1 L241.8,149.9 L240.8,147.0 L239.8,151.6 L238.8,156.3 L237.8,157.9 L236.8,157.6 L235.8,157.3 L234.8,156.9 L233.8,155.1 L232.8,153.1 L231.8,151.1 L230.8,148.7 L229.8,144.8 L228.8,140.9 L227.8,146.9 L226.8,151.0 L225.8,149.0 L224.8,147.0 L223.8,144.5 L222.8,141.9 L221.8,138.1 L220.8,131.6 L219.8,129.0 L218.8,170.3 L217.8,183.3 L216.8,189.5 L215.8,193.5 L214.8,192.5 L213.8,191.5 L212.8,190.0 L211.8,188.4 L210.8,186.8 L209.8,185.2 L208.8,183.6 L207.8,182.0 L206.8,179.4 L205.8,176.4 L204.8,173.4 L203.8,170.4 L202.8,174.4 L201.8,178.3 L200.8,180.0 L199.8,179.5 L198.8,178.8 L197.8,176.6 L196.8,174.4 L195.8,172.2 L194.8,170.1 L193.8,171.2 L192.8,174.6 L191.8,178.0 L190.8,178.5 L189.8,177.9 L188.8,177.2 L187.8,176.6 L186.8,174.8 L185.8,173.1 L184.8,171.3 L183.8,169.6 L182.8,168.1 L181.8,169.5 L180.8,170.8 L179.8,172.1 L178.8,172.4 L177.8,171.0 L176.8,169.7 L175.8,168.4 L174.8,170.4 L173.8,173.8 L172.8,176.4 L171.8,175.4 L170.8,174.3 L169.8,173.3 L168.8,171.6 L167.8,169.3 L166.8,167.1 L165.8,164.9 L164.8,162.7 L163.8,159.3 L162.8,155.3 L161.8,152.6 L160.8,155.4 L159.8,158.2 L158.8,160.9 L157.8,163.6 L156.8,165.0 L155.8,163.3 L154.8,161.5 L153.8,159.8 L152.8,158.1 L151.8,155.2 L150.8,149.2 L149.8,148.2 L148.8,152.9 L147.8,154.8 L146.8,155.5 L145.8,156.2 L144.8,156.9 L143.8,156.2 L142.8,155.5 L141.8,154.9 L140.8,154.5 L139.8,154.9 L138.8,155.2 L137.8,155.6 L136.8,156.5 L135.8,157.8 L134.8,159.1 L133.8,160.5 L132.8,162.7 L131.8,165.0 L130.8,167.3 L129.8,169.0 L128.8,168.2 L127.8,168.4 L126.8,169.0 L125.8,169.6 L124.8,169.9 L123.8,169.5 L122.8,169.1 L121.8,168.7 L120.8,168.3 L119.8,167.9 L118.8,167.4 L117.8,166.9 L116.8,166.4 L115.8,165.9 L114.8,165.4 L113.8,164.9 L112.8,164.4 L111.8,163.9 L110.8,163.4 L109.8,162.9 L108.8,162.4 L107.8,161.9 L106.8,161.4 L105.8,160.9 L104.8,160.4 L103.8,159.7 L102.8,158.2 L101.8,156.9 L100.8,156.6 L99.8,156.3 L98.8,156.3 L97.8,157.9 L96.8,159.5 L95.8,169.3 L94.8,184.7 L93.8,200.2 L92.8,201.0 L91.8,201.5 L90.8,201.3 L89.8,200.2 L88.8,200.6 L87.8,200.9 L86.8,200.8 L85.8,200.3 L84.8,200.6 L83.8,201.0 L82.8,200.8 L81.8,199.9 L80.8,199.6 L79.8,199.6 L78.8,200.2 L77.8,200.8 L76.8,200.4 L75.8,201.0 L74.8,201.1 L73.8,200.7 L72.8,200.0 L71.8,201.4 L70.8,200.8 L69.8,200.1 L68.8,199.7 L67.8,199.8 L66.8,198.5 L65.8,198.5 L64.8,198.5 L63.8,199.5 L62.8,201.5 L61.8,201.2 L60.8,200.7 L59.8,201.1 L58.8,201.9 L57.8,201.5 L56.8,200.7 L55.8,200.0 L54.8,199.7 L53.8,201.1 L52.8,201.2 L51.8,200.4 L50.8,199.7 L49.8,199.6 L48.8,200.1 L47.8,200.3 L46.8,199.6 L45.8,200.6 L44.8,200.1 L43.8,199.9 L42.8,200.5 L41.8,200.9 L40.8,200.0 L39.8,200.3 L38.8,200.9 L37.8,199.8 L36.8,200.2Z" fill="url(#gcore)"/>
<path d="M147.2,143.6 L149.6,130.6 L150.8,130.6 L153.2,143.6Z" fill="url(#gcore)"/>
<path d="M159.0,151.0 L161.4,138.0 L162.6,138.0 L165.0,151.0Z" fill="url(#gcore)"/>
<path d="M172.5,167.0 L174.9,154.0 L176.1,154.0 L178.5,167.0Z" fill="url(#gcore)"/>
<path d="M179.9,167.0 L182.3,154.0 L183.5,154.0 L185.9,167.0Z" fill="url(#gcore)"/>
<path d="M191.4,168.2 L193.8,155.2 L195.0,155.2 L197.4,168.2Z" fill="url(#gcore)"/>
<path d="M200.8,169.4 L203.2,156.4 L204.4,156.4 L206.8,169.4Z" fill="url(#gcore)"/>
<path d="M225.5,138.7 L227.9,125.7 L229.1,125.7 L231.5,138.7Z" fill="url(#gcore)"/>
<path d="M237.8,146.0 L240.2,133.0 L241.4,133.0 L243.8,146.0Z" fill="url(#gcore)"/>
<path d="M242.7,141.1 L245.1,128.1 L246.3,128.1 L248.7,141.1Z" fill="url(#gcore)"/>
<path d="M260.0,153.4 L262.4,140.4 L263.6,140.4 L266.0,153.4Z" fill="url(#gcore)"/>
<path d="M266.1,153.4 L268.5,140.4 L269.7,140.4 L272.1,153.4Z" fill="url(#gcore)"/>
<path d="M280.9,155.9 L283.3,142.9 L284.5,142.9 L286.9,155.9Z" fill="url(#gcore)"/>
<path d="M291.2,155.9 L293.6,142.9 L294.8,142.9 L297.2,155.9Z" fill="url(#gcore)"/>
<path d="M301.4,156.0 L303.8,143.0 L305.0,143.0 L307.4,156.0Z" fill="url(#gcore)"/>
<path d="M312.3,149.8 L314.7,136.8 L315.9,136.8 L318.3,149.8Z" fill="url(#gcore)"/>
<path d="M326.6,151.0 L329.0,138.0 L330.2,138.0 L332.6,151.0Z" fill="url(#gcore)"/>
<path d="M344.3,146.1 L346.7,133.1 L347.9,133.1 L350.3,146.1Z" fill="url(#gcore)"/>
<path d="M349.2,156.0 L351.6,143.0 L352.8,143.0 L355.2,156.0Z" fill="url(#gcore)"/>
<path d="M364.7,165.8 L367.1,152.8 L368.3,152.8 L370.7,165.8Z" fill="url(#gcore)"/>
<path d="M375.8,170.7 L378.2,157.7 L379.4,157.7 L381.8,170.7Z" fill="url(#gcore)"/>
<path d="M388.6,157.2 L391.0,144.2 L392.2,144.2 L394.6,157.2Z" fill="url(#gcore)"/>
<path d="M404.9,151.0 L407.3,138.0 L408.5,138.0 L410.9,151.0Z" fill="url(#gcore)"/>
<path d="M411.5,156.0 L413.9,143.0 L415.1,143.0 L417.5,156.0Z" fill="url(#gcore)"/>
<path d="M422.1,160.9 L424.5,147.9 L425.7,147.9 L428.1,160.9Z" fill="url(#gcore)"/>
<path d="M437.4,158.4 L439.8,145.4 L441.0,145.4 L443.4,158.4Z" fill="url(#gcore)"/>
<path d="M452.7,159.6 L455.1,146.6 L456.3,146.6 L458.7,159.6Z" fill="url(#gcore)"/>
<path d="M102.0,169.5 L103.0,170.8 L104.0,172.2 L105.0,173.7 L106.0,175.2 L107.0,176.7 L108.0,178.5 L109.0,180.5 L110.0,182.5 L111.0,184.0 L112.0,185.0 L113.0,185.9 L114.0,186.2 L115.0,184.9 L116.0,183.6 L117.0,184.1 L118.0,184.7 L119.0,185.0 L120.0,185.0 L121.0,184.9 L122.0,183.6 L123.0,182.4 L124.0,181.6 L125.0,181.0 L126.0,181.2 L127.0,181.3 L128.0,181.5 L129.0,181.6 L130.0,181.8 L131.0,179.3 L132.0,176.8 L133.0,174.3 L134.0,171.8 L135.0,169.3 L136.0,167.7 L137.0,166.0 L138.0,164.3 L139.0,162.9 L140.0,161.9 L141.0,160.9 L142.0,159.9 L142.0,174.9 L136.0,196.0 L130.0,204.0 L118.0,208.0 L102.0,208.0Z" fill="rgb(158,158,158)"/>
<rect x="36.4" y="203" width="581.4" height="13" fill="rgb(87,87,87)" opacity="0.6"/>
<linearGradient id="gsp" x1="0" y1="0" x2="0" y2="1"><stop offset="0" stop-color="rgb(18,18,18)"/><stop offset="0.2" stop-color="rgb(33,33,33)"/><stop offset="0.4" stop-color="rgb(82,82,82)"/><stop offset="0.52" stop-color="rgb(128,128,128)"/><stop offset="0.62" stop-color="rgb(158,158,158)"/><stop offset="1" stop-color="rgb(128,128,128)"/></linearGradient>
<rect x="219.9" y="22" width="1.4" height="196" fill="url(#gsp)"/>
<path d="M219.6,120 L221.8,120 L222.4,150 L219.4,150Z" fill="rgb(102,102,102)"/>
<rect x="36.4" y="215.6" width="581.4" height="2.6" fill="rgb(209,209,209)"/>
</g>
<rect x="36.4" y="216.1" width="581.4" height="1.9" fill="#8e1d4c" opacity="0.8"/>
<path d="M36.5,195.6 L37.6,196.3 L38.7,197.0 L39.8,196.3 L40.9,195.5 L42.0,197.4 L43.1,197.0 L44.2,195.7 L45.3,196.5 L46.4,195.5 L47.5,195.0 L48.6,196.0 L49.7,195.8 L50.8,194.8 L51.9,197.0 L53.0,196.8 L54.1,196.1 L55.2,194.9 L56.3,197.3 L57.4,197.7 L58.5,198.8 L59.6,197.5 L60.7,195.8 L61.8,196.9 L62.9,197.3 L64.0,194.0 L65.1,191.9 L66.2,190.7 L67.3,193.6 L68.4,196.4 L69.5,195.2 L70.6,197.5 L71.7,197.5 L72.8,196.1 L73.9,196.4 L75.0,197.1 L76.1,196.2 L77.2,195.6 L78.3,197.4 L79.4,195.1 L80.5,196.2 L81.6,195.3 L82.7,197.6 L83.8,197.8 L84.9,197.0 L86.0,196.9 L87.1,197.1 L88.2,197.2 L89.3,195.6 L90.4,196.8 L91.5,198.2 L92.6,196.6 L93.7,196.9 L94.8,194.7 L95.4,185.5 L95.9,184.8 L97.0,183.6 L97.8,183.1 L98.1,181.0 L99.2,173.5 L100.2,167.1 L100.3,168.5 L101.4,170.1 L101.7,171.1 L102.5,171.1 L103.6,172.7 L104.1,174.3 L104.7,175.7 L105.8,177.9 L106.9,178.5 L107.3,179.1 L108.0,180.5 L109.1,182.8 L110.2,185.4 L110.5,185.5 L111.3,185.7 L112.4,187.6 L113.5,188.5 L113.7,188.6 L114.6,187.7 L115.7,185.3 L116.1,185.5 L116.8,185.2 L117.9,186.3 L118.5,187.0 L119.0,187.9 L120.1,186.7 L120.9,187.0 L121.2,186.8 L122.3,184.8 L123.3,184.0 L123.4,183.1 L124.5,182.3 L125.0,183.0 L125.6,183.8 L126.7,183.9 L127.8,183.2 L128.9,184.0 L130.0,184.2 L130.0,183.8 L131.1,181.9 L132.2,179.3 L133.3,175.3 L134.4,173.8 L134.9,171.5 L135.5,171.5 L136.6,168.9 L137.7,167.7 L138.6,165.3 L138.8,165.1 L139.9,163.7 L141.0,162.3 L142.1,162.6 L142.3,161.6 L143.2,161.8 L144.3,162.7 L145.4,165.4 L146.0,165.3 L146.5,166.7 L147.6,167.7 L148.4,169.0 L148.7,168.5 L149.8,162.3 L150.2,161.6 L150.9,162.9 L152.0,165.9 L152.1,166.6 L153.1,167.9 L154.2,168.9 L155.3,170.3 L156.4,172.5 L157.1,173.9 L157.5,174.2 L158.6,172.9 L159.7,170.9 L160.7,169.0 L160.8,168.7 L161.9,166.0 L162.5,165.3 L163.0,167.7 L164.1,169.7 L165.2,173.1 L165.7,173.9 L166.3,173.5 L167.4,175.0 L168.5,177.4 L169.4,177.6 L169.6,178.7 L170.7,181.4 L171.8,183.2 L172.9,185.3 L173.8,187.5 L174.0,186.4 L175.1,180.3 L176.2,172.3 L176.2,172.7 L177.3,175.9 L178.4,178.5 L179.2,181.3 L179.5,181.0 L180.6,176.1 L181.7,174.3 L182.1,172.7 L182.8,175.0 L183.9,175.1 L185.0,178.4 L186.1,180.7 L186.6,181.3 L187.2,182.9 L188.3,183.9 L189.4,184.7 L190.5,186.6 L191.0,187.5 L191.6,185.7 L192.7,180.4 L193.8,173.6 L193.9,173.9 L194.9,175.7 L196.0,178.6 L197.1,181.4 L197.6,183.8 L198.2,184.3 L199.3,184.7 L200.4,187.4 L201.3,187.5 L201.5,186.6 L202.6,178.4 L203.7,172.2 L203.8,171.5 L204.8,173.8 L205.9,177.0 L207.0,179.4 L207.5,181.3 L208.1,181.3 L209.2,182.8 L210.3,184.6 L211.4,186.7 L212.4,187.5 L212.5,187.8 L213.6,188.9 L214.7,192.6 L215.8,195.1 L216.1,194.9 L216.9,192.1 L218.0,187.4 L218.7,183.8 L219.1,170.3 L220.2,137.0 L220.4,130.9 L221.3,137.1 L222.4,147.5 L222.4,146.9 L223.5,156.4 L223.6,158.0 L224.6,159.4 L225.7,159.5 L226.1,160.4 L226.8,159.2 L227.9,155.8 L229.0,152.7 L229.8,151.8 L230.1,152.2 L231.2,154.3 L232.3,157.8 L233.4,158.7 L233.4,159.2 L234.5,160.3 L235.6,161.5 L236.7,163.5 L237.1,162.9 L237.8,160.6 L238.9,159.6 L239.6,158.0 L240.0,157.8 L241.1,157.7 L242.1,156.7 L242.2,157.9 L243.3,157.9 L244.0,159.2 L244.4,157.9 L245.5,152.7 L245.7,151.8 L246.6,154.6 L247.7,156.8 L248.8,161.8 L249.4,162.9 L249.9,164.2 L251.0,163.3 L252.1,163.8 L253.2,165.8 L254.3,164.4 L254.4,165.3 L255.4,165.4 L256.5,166.5 L257.6,169.3 L258.0,169.0 L258.7,170.9 L259.8,172.4 L260.5,173.9 L260.9,172.0 L262.0,164.9 L263.1,160.4 L263.5,158.0 L264.2,159.8 L265.3,163.0 L266.4,165.8 L266.6,166.6 L267.5,164.5 L268.6,161.9 L269.6,160.4 L269.7,159.6 L270.8,162.6 L271.9,164.3 L273.0,167.5 L274.0,169.0 L274.1,169.9 L275.2,171.9 L276.3,173.5 L277.4,175.2 L278.5,177.7 L279.6,180.1 L280.2,181.3 L280.7,178.8 L281.8,173.3 L282.9,165.1 L283.9,160.4 L284.0,160.7 L285.1,164.4 L286.2,168.5 L287.3,172.6 L287.6,172.7 L288.4,174.1 L289.5,175.0 L290.0,175.2 L290.6,174.3 L291.7,171.3 L292.8,169.0 L293.9,165.8 L294.9,162.9 L295.0,163.6 L296.1,165.6 L297.2,170.0 L298.3,171.8 L299.4,175.3 L299.9,176.4 L300.5,179.0 L301.6,182.7 L302.3,183.8 L302.7,180.0 L303.7,166.7 L303.8,165.9 L304.9,169.8 L306.0,173.1 L306.5,175.0 L307.1,176.3 L308.2,178.7 L309.3,182.4 L309.9,183.9 L310.4,180.6 L311.5,175.8 L312.6,172.0 L313.7,166.3 L314.8,160.5 L314.8,160.4 L315.9,162.7 L317.0,167.6 L318.1,170.0 L319.2,172.0 L319.7,174.0 L320.3,174.8 L321.4,177.7 L322.5,180.0 L323.6,181.3 L324.7,185.0 L325.8,185.8 L325.9,186.4 L326.9,178.1 L328.0,171.0 L329.1,161.7 L329.1,160.9 L330.2,164.1 L331.3,165.1 L332.4,168.0 L333.5,169.3 L334.5,171.6 L334.6,171.5 L335.7,174.7 L336.8,175.6 L337.9,177.4 L339.0,179.8 L339.4,180.2 L340.1,181.1 L341.2,183.1 L342.3,185.7 L343.4,187.7 L344.3,190.0 L344.5,186.8 L345.6,174.4 L346.7,158.3 L346.8,158.0 L347.8,164.1 L348.9,170.4 L349.3,171.6 L350.0,170.2 L351.1,165.9 L351.7,165.4 L352.2,166.5 L353.3,167.9 L354.4,171.6 L355.5,174.3 L356.6,175.7 L356.7,176.5 L357.7,177.0 L358.8,180.0 L359.9,180.8 L361.0,183.1 L362.1,185.2 L362.8,186.4 L363.2,186.2 L364.3,182.0 L365.4,178.4 L366.5,176.8 L367.6,173.8 L367.7,172.8 L368.7,175.5 L369.8,177.4 L370.9,180.7 L371.4,182.7 L372.0,182.8 L373.1,183.6 L373.9,183.9 L374.2,182.5 L375.3,181.1 L376.4,178.4 L377.5,175.8 L378.6,172.9 L378.8,171.6 L379.7,172.3 L380.8,175.7 L381.9,176.8 L383.0,180.8 L384.1,182.7 L385.0,183.9 L385.2,185.0 L386.3,186.5 L387.4,190.0 L387.4,189.0 L388.5,185.6 L389.6,180.0 L390.7,174.9 L391.1,172.8 L391.8,174.1 L392.9,177.1 L394.0,178.2 L394.8,180.2 L395.1,179.2 L396.2,177.5 L397.3,175.6 L398.4,174.4 L398.5,174.0 L399.5,177.6 L400.6,178.9 L401.7,181.9 L402.8,186.0 L403.4,187.6 L403.9,185.2 L405.0,177.9 L406.1,171.8 L407.1,166.7 L407.2,166.0 L408.3,168.9 L409.4,172.8 L410.5,176.1 L410.8,176.5 L411.6,174.7 L412.7,170.8 L413.8,167.8 L414.9,166.7 L415.3,164.7 L416.0,166.9 L417.1,170.1 L418.2,174.1 L419.3,177.6 L420.4,180.5 L420.7,181.4 L421.5,178.5 L422.6,177.4 L423.7,173.2 L424.8,170.1 L425.6,169.1 L425.9,169.2 L427.0,171.3 L428.1,173.2 L429.2,173.8 L430.3,176.7 L430.5,176.5 L431.4,176.7 L432.5,176.2 L433.6,178.0 L434.7,178.2 L435.5,177.7 L435.8,178.1 L436.9,176.0 L438.0,173.3 L439.1,172.9 L440.2,172.1 L440.4,170.3 L441.1,173.1 L442.0,172.7 L442.9,176.4 L443.8,174.5 L444.7,178.4 L445.3,179.0 L445.6,179.7 L446.5,176.8 L447.4,177.6 L448.3,175.6 L449.2,176.3 L450.1,176.3 L451.0,173.8 L451.9,172.8 L452.8,172.2 L453.7,170.4 L454.6,168.0 L455.5,165.9 L456.4,169.9 L457.3,171.8 L458.2,173.0 L459.1,175.7 L460.0,176.4 L460.9,177.4 L461.8,177.0 L462.7,176.5 L463.6,175.1 L464.5,175.1 L465.4,174.9 L466.3,174.1 L467.2,173.7 L468.1,178.7 L469.0,177.8 L469.9,175.5 L470.8,178.3 L471.7,174.5 L472.6,175.4 L473.5,171.9 L474.4,170.5 L475.3,168.6 L476.2,173.1 L477.1,177.8 L478.0,179.4 L478.9,176.8 L479.8,180.3 L480.7,175.6 L481.6,178.3 L482.5,176.6 L483.4,176.3 L484.3,177.7 L485.2,175.3 L486.1,179.1 L487.0,176.1 L487.9,177.6 L488.8,174.8 L489.7,177.6 L490.6,178.4 L491.5,178.4 L492.4,176.3 L493.3,176.6 L494.2,177.5 L495.1,178.4 L496.0,177.2 L496.9,178.7 L497.8,178.7 L498.7,178.9 L499.6,176.8 L500.5,175.6 L501.4,178.1 L502.3,179.2 L503.2,173.6 L504.1,176.1 L505.0,177.1 L505.9,176.4 L506.8,175.4 L507.7,176.5 L508.6,175.1 L509.5,175.4 L510.4,179.0 L511.3,180.5 L512.2,180.3 L513.1,183.2 L514.0,182.9 L514.9,179.4 L515.8,180.4 L516.7,177.8 L517.6,181.3 L518.5,178.6 L519.4,176.7 L520.3,178.8 L521.2,177.9 L522.1,176.8 L523.0,177.1 L523.9,180.0 L524.8,177.7 L525.7,177.7 L526.6,179.1 L527.5,179.0 L528.4,179.3 L529.3,180.3 L530.2,180.1 L531.1,178.9 L532.0,179.5 L532.9,179.0 L533.8,179.8 L534.7,178.1 L535.6,181.1 L536.5,180.2 L537.4,180.0 L538.3,180.2 L539.2,178.7 L540.1,179.3 L541.0,179.5 L541.9,178.1 L542.8,180.1 L543.7,179.5 L544.6,179.5 L545.5,180.2 L546.4,180.7 L547.3,178.3 L548.2,177.5 L549.1,179.3 L550.0,178.0 L550.9,179.6 L551.8,180.7 L552.7,181.5 L553.6,182.2 L554.5,181.5 L555.4,182.9 L556.3,181.2 L557.2,181.0 L558.1,181.5 L559.0,180.2 L559.9,182.0 L560.8,180.6 L561.7,181.0 L562.6,181.9 L563.5,183.6 L564.4,182.5 L565.3,181.6 L566.2,183.9 L567.1,184.9 L568.0,183.4 L568.9,183.5 L569.8,181.2 L570.7,184.0 L571.6,182.7 L572.5,181.2 L573.4,180.0 L574.3,180.5 L575.2,179.0 L576.1,182.1 L577.0,183.1 L577.9,182.3 L578.8,182.8 L579.7,183.4 L580.6,180.9 L581.5,181.4 L582.4,183.1 L583.3,182.5 L584.2,180.8 L585.1,181.1 L586.0,183.1 L586.9,182.8 L587.8,180.7 L588.7,181.8 L589.6,181.0 L590.5,181.9 L591.4,178.7 L592.3,180.2 L593.2,179.0 L594.1,178.9 L595.0,183.6 L595.9,176.5 L596.8,182.1 L597.7,178.7 L598.6,182.1 L599.5,181.4 L600.4,179.2 L601.3,180.4 L602.2,178.8 L603.1,177.9 L604.0,179.5 L604.9,179.7 L605.8,179.3 L606.7,178.1 L607.6,178.3 L608.5,177.3 L609.4,177.6 L610.3,177.9 L611.2,176.7 L612.1,177.4 L613.0,178.2 L613.9,177.4 L614.8,180.0 L615.7,177.5 L616.6,180.4 L617.5,180.2" fill="none" stroke="#f86a26" stroke-width="1.5" stroke-linejoin="round"/>
<text x="41.3" y="38.3" font-size="12.4" fill="#f66a2e" >Median velocity (m/s)</text>
<text x="445.9" y="46.8" font-size="13.8" fill="#111" >Ø Bulk density ~ 1592 kg m<tspan font-size="9" dy="-5" dx="0.3">-3</tspan></text>
<text x="83.4" y="71.4" font-size="13.7" fill="#111" >Front</text>
<text x="45.6" y="101.2" font-size="13.7" fill="#111" >Flash-flood</text>
<text x="45.6" y="116.4" font-size="13.7" fill="#111" >surge</text>
<text x="148.6" y="79.6" font-size="13.6" fill="#111" >Surge 1</text>
<text x="305.8" y="79.6" font-size="13.6" fill="#111" >Surge 2</text>
<text x="512.6" y="79.6" font-size="13.6" fill="#111" >Tail</text>
<path d="M125,86.3 H216.7 M225.6,86.3 H435.6 M442.6,86.3 H602" stroke="#111" stroke-width="1.7" stroke-dasharray="1.4 1.4" fill="none"/>
<path d="M82.7,107 L92.5,146 M113.4,76 L131.7,145" stroke="#111" stroke-width="1.7" stroke-dasharray="1.4 1.4" fill="none"/>
<rect x="36.6" y="22.1" width="581.1999999999999" height="195.9" stroke="#1a1a1a" stroke-width="1.2" fill="none"/>
<path d="M36.4,218 v-3.5 M36.4,22 v3.5 M89.3,218 v-3.5 M89.3,22 v3.5 M142.1,218 v-3.5 M142.1,22 v3.5 M195.0,218 v-3.5 M195.0,22 v3.5 M247.8,218 v-3.5 M247.8,22 v3.5 M300.7,218 v-3.5 M300.7,22 v3.5 M353.5,218 v-3.5 M353.5,22 v3.5 M406.4,218 v-3.5 M406.4,22 v3.5 M459.2,218 v-3.5 M459.2,22 v3.5 M512.1,218 v-3.5 M512.1,22 v3.5 M564.9,218 v-3.5 M564.9,22 v3.5 M617.8,218 v-3.5 M617.8,22 v3.5 M36.4,218.0 h3.5 M36.4,190.0 h3.5 M36.4,162.0 h3.5 M36.4,134.0 h3.5 M36.4,106.0 h3.5 M36.4,78.0 h3.5 M36.4,50.0 h3.5 M36.4,22.0 h3.5" stroke="#1a1a1a" stroke-width="1.2" fill="none"/>
<text x="36.4" y="235.3" font-size="13.8" text-anchor="middle" fill="#111" >1300</text>
<text x="89.3" y="235.3" font-size="13.8" text-anchor="middle" fill="#111" >1400</text>
<text x="142.1" y="235.3" font-size="13.8" text-anchor="middle" fill="#111" >1500</text>
<text x="195.0" y="235.3" font-size="13.8" text-anchor="middle" fill="#111" >1600</text>
<text x="247.8" y="235.3" font-size="13.8" text-anchor="middle" fill="#111" >1700</text>
<text x="300.7" y="235.3" font-size="13.8" text-anchor="middle" fill="#111" >1800</text>
<text x="353.5" y="235.3" font-size="13.8" text-anchor="middle" fill="#111" >1900</text>
<text x="406.4" y="235.3" font-size="13.8" text-anchor="middle" fill="#111" >2000</text>
<text x="459.2" y="235.3" font-size="13.8" text-anchor="middle" fill="#111" >2100</text>
<text x="512.1" y="235.3" font-size="13.8" text-anchor="middle" fill="#111" >2200</text>
<text x="564.9" y="235.3" font-size="13.8" text-anchor="middle" fill="#111" >2300</text>
<text x="617.8" y="235.3" font-size="13.8" text-anchor="middle" fill="#111" >2400</text>
<text x="32.5" y="222.6" font-size="13.8" text-anchor="end" fill="#111" >0</text>
<text x="32.5" y="194.6" font-size="13.8" text-anchor="end" fill="#111" >2</text>
<text x="32.5" y="166.6" font-size="13.8" text-anchor="end" fill="#111" >4</text>
<text x="32.5" y="138.6" font-size="13.8" text-anchor="end" fill="#111" >6</text>
<text x="32.5" y="110.6" font-size="13.8" text-anchor="end" fill="#111" >8</text>
<text x="32.5" y="82.6" font-size="13.8" text-anchor="end" fill="#111" >10</text>
<text x="32.5" y="54.6" font-size="13.8" text-anchor="end" fill="#111" >12</text>
<text x="32.5" y="26.6" font-size="13.8" text-anchor="end" fill="#111" >14</text>
<text x="327.5" y="252.4" font-size="15" text-anchor="middle" fill="#111" >Time (s)</text>
<text transform="translate(13.6,119.8) rotate(-90)" font-size="15.3" text-anchor="middle" fill="#111" >Doppler velocities (m/s)</text>
<text x="36.6" y="16.5" font-size="11" fill="#111" >#DF20220908, t0=00:38:52 UTC, RG2</text>
<text x="0" y="9.6" font-size="14" font-weight="bold" fill="#111" >(a)</text>
<rect x="624.5" y="22.5" width="12.5" height="195.5" fill="url(#cb)" stroke="#1a1a1a" stroke-width="1.2" fill="none"/>
<text x="640.8" y="222.6" font-size="13.8" fill="#111" >0</text>
<text x="640.8" y="183.4" font-size="13.8" fill="#111" >500</text>
<text x="640.8" y="144.2" font-size="13.8" fill="#111" >1000</text>
<text x="640.8" y="105.0" font-size="13.8" fill="#111" >1500</text>
<text x="640.8" y="65.8" font-size="13.8" fill="#111" >2000</text>
<text x="640.8" y="26.6" font-size="13.8" fill="#111" >2500</text>
<path d="M637,218.0 h-2.2 M637,178.8 h-2.2 M637,139.6 h-2.2 M637,100.4 h-2.2 M637,61.2 h-2.2 M637,22.0 h-2.2" stroke="#1a1a1a" stroke-width="1.2" fill="none"/>
<text transform="translate(673.7,120.7) rotate(90)" font-size="15" text-anchor="middle" fill="#111" >Echo intensity (absolute)</text>
<path d="M89.3,271.5 V399.6 M142.2,271.5 V399.6 M195.1,271.5 V399.6 M248.0,271.5 V399.6 M300.9,271.5 V399.6 M353.8,271.5 V399.6 M406.7,271.5 V399.6 M459.6,271.5 V399.6 M512.5,271.5 V399.6 M36.4,356.9 H512.5 M36.4,314.2 H512.5 M36.4,271.5 H512.5" stroke="#d6d6d6" stroke-width="1.1" fill="none"/>
<path d="M129.9,363.5 L130.4,344.7 L132.0,334.3 L134.4,330.3 L135.5,328.7 L136.0,325.5 L137.9,315.6 L139.1,317.5 L141.5,324.7 L143.9,327.9 L146.3,333.5 L148.7,336.7 L149.8,335.9 L151.1,326.8 L153.2,327.9 L155.9,333.5 L160.7,345.1 L161.8,345.0 L162.7,327.4 L164.7,333.5 L167.0,336.7 L170.2,343.1 L172.6,345.5 L175.0,347.2 L176.6,333.5 L177.7,334.3 L180.3,345.5 L182.7,332.4 L184.6,333.5 L190.2,344.7 L192.6,347.0 L194.2,333.5 L196.6,340.7 L201.3,350.2 L202.9,328.7 L206.1,341.5 L209.3,346.3 L213.2,351.0 L216.4,354.2 L218.0,337.5 L219.6,343.1 L221.2,347.0 L222.0,312.0 L223.6,322.3 L226.0,328.7 L227.9,330.3 L229.5,321.5 L231.5,326.3 L233.6,329.5 L235.5,329.0 L237.1,331.1 L239.2,333.5 L241.1,324.7 L243.5,328.4 L245.9,323.6 L250.7,333.2 L253.1,332.7 L254.7,331.1 L257.8,334.3 L260.2,337.5 L262.3,338.6 L263.9,323.1 L265.8,330.3 L268.2,333.5 L269.8,328.4 L271.4,329.5 L277.0,339.0 L281.0,344.3 L284.2,327.9 L286.6,335.9 L289.7,342.3 L292.1,337.5 L293.3,337.8 L294.5,329.0 L299.3,341.8 L302.5,346.6 L304.1,346.3 L305.4,326.8 L306.6,327.9 L309.0,339.1 L312.2,346.3 L314.6,347.0 L315.7,321.1 L317.8,330.3 L320.2,341.5 L322.5,343.9 L325.7,347.0 L329.2,351.4 L330.2,321.5 L332.1,331.1 L333.7,332.7 L336.9,342.3 L340.1,346.3 L344.1,348.6 L347.7,353.9 L348.9,325.5 L351.3,339.1 L352.8,342.3 L354.1,333.5 L356.0,338.3 L358.4,346.3 L361.6,348.6 L364.0,351.8 L366.1,342.7 L368.0,346.3 L369.6,339.9 L372.0,347.0 L375.2,353.4 L377.9,356.1 L378.8,335.1 L380.8,343.1 L382.4,341.1 L385.5,349.4 L388.7,354.2 L391.9,357.7 L392.7,333.5 L395.1,346.3 L397.2,351.0 L399.1,342.3 L402.3,350.2 L405.3,353.3 L408.4,356.4 L409.6,332.6 L411.4,342.8 L413.1,349.8 L414.9,351.2 L415.8,334.0 L418.4,341.0 L420.1,347.2 L422.4,352.4 L424.5,344.5 L426.3,345.4 L427.2,342.8 L431.5,349.8 L433.3,347.7 L435.9,351.2 L438.5,352.1 L441.5,344.5 L443.8,348.6 L446.4,352.1 L449.1,349.4 L452.6,351.2 L455.7,351.5 L457.8,354.2 L459.6,345.4 L462.2,349.8 L464.8,351.5 L467.4,354.2 L469.2,350.7 L471.0,351.5 L473.6,354.2 L475.3,351.5 L478.0,352.9 L480.6,354.2 L483.2,354.2 L485.8,352.9 L488.5,354.7 L492.0,355.9 L495.5,356.8 L497.2,355.0 L500.7,355.9 L502.5,355.0 L505.1,356.8 L507.2,357.7 L510.0,355.9 L512.5,357.7" fill="none" stroke="#262626" stroke-width="1.35" stroke-linejoin="round"/>
<path d="M36.4,271.5 V399.5 H512.5 M36.4,399.6 v-3.5 M89.3,399.6 v-3.5 M142.2,399.6 v-3.5 M195.1,399.6 v-3.5 M248.0,399.6 v-3.5 M300.9,399.6 v-3.5 M353.8,399.6 v-3.5 M406.7,399.6 v-3.5 M459.6,399.6 v-3.5 M512.5,399.6 v-3.5 M36.4,399.6 h3.5 M36.4,356.9 h3.5 M36.4,314.2 h3.5 M36.4,271.5 h3.5" stroke="#111" stroke-width="1.4" fill="none"/>
<text x="36.4" y="417.3" font-size="13.8" text-anchor="middle" fill="#111" >1300</text>
<text x="89.3" y="417.3" font-size="13.8" text-anchor="middle" fill="#111" >1400</text>
<text x="142.2" y="417.3" font-size="13.8" text-anchor="middle" fill="#111" >1500</text>
<text x="195.1" y="417.3" font-size="13.8" text-anchor="middle" fill="#111" >1600</text>
<text x="248.0" y="417.3" font-size="13.8" text-anchor="middle" fill="#111" >1700</text>
<text x="300.9" y="417.3" font-size="13.8" text-anchor="middle" fill="#111" >1800</text>
<text x="353.8" y="417.3" font-size="13.8" text-anchor="middle" fill="#111" >1900</text>
<text x="406.7" y="417.3" font-size="13.8" text-anchor="middle" fill="#111" >2000</text>
<text x="459.6" y="417.3" font-size="13.8" text-anchor="middle" fill="#111" >2100</text>
<text x="512.5" y="417.3" font-size="13.8" text-anchor="middle" fill="#111" >2200</text>
<text x="31.5" y="404.2" font-size="13.8" text-anchor="end" fill="#111" >0</text>
<text x="31.5" y="361.5" font-size="13.8" text-anchor="end" fill="#111" >1</text>
<text x="31.5" y="318.8" font-size="13.8" text-anchor="end" fill="#111" >2</text>
<text x="31.5" y="276.1" font-size="13.8" text-anchor="end" fill="#111" >3</text>
<text x="274.6" y="435" font-size="15" text-anchor="middle" fill="#111" >Time (s)</text>
<text transform="translate(18.8,335.2) rotate(-90)" font-size="15.3" text-anchor="middle" fill="#111" >h (m)</text>
<text x="1.2" y="259.6" font-size="14.2" font-weight="bold" fill="#111" >(b)</text>
<text x="520.8" y="272.5" font-size="13.5" font-weight="bold" fill="#111" >(c)</text>
<path d="M554.8,356.9 H597.1 M554.8,314.2 H597.1 M554.8,271.5 H597.1" stroke="#d6d6d6" stroke-width="1.1" fill="none"/>
<path d="M576.0,343.2 V332.1 M576.0,369.7 V376.1" stroke="#222" stroke-width="1.6"/>
<rect x="565.2" y="343.2" width="21.5" height="26.5" fill="#c3c3c3" stroke="#222" stroke-width="1.6"/>
<path d="M565.2,354.8 h21.5" stroke="#222" stroke-width="1.6"/>
<rect x="574.4" y="328.8" width="3.2" height="3.2" fill="#333"/>
<rect x="574.4" y="327.3" width="3.2" height="3.2" fill="#333"/>
<rect x="574.4" y="325.8" width="3.2" height="3.2" fill="#333"/>
<rect x="574.4" y="324.3" width="3.2" height="3.2" fill="#333"/>
<rect x="574.4" y="322.8" width="3.2" height="3.2" fill="#333"/>
<rect x="574.4" y="321.4" width="3.2" height="3.2" fill="#333"/>
<rect x="574.4" y="319.9" width="3.2" height="3.2" fill="#333"/>
<rect x="574.4" y="318.4" width="3.2" height="3.2" fill="#333"/>
<rect x="574.4" y="316.9" width="3.2" height="3.2" fill="#333"/>
<rect x="574.4" y="315.4" width="3.2" height="3.2" fill="#333"/>
<rect x="574.4" y="313.9" width="3.2" height="3.2" fill="#333"/>
<rect x="574.4" y="312.4" width="3.2" height="3.2" fill="#333"/>
<rect x="574.4" y="377.5" width="3.2" height="3.2" fill="#333"/>
<path d="M554.8,271.5 V399.6 H597.1 V271.5 M554.8,399.6 h3.5 M554.8,356.9 h3.5 M554.8,314.2 h3.5 M554.8,271.5 h3.5" stroke="#111" stroke-width="1.5" fill="none"/>
<path d="M576.0,400.20000000000005 v2.4" stroke="#aaa" stroke-width="1"/>
<text x="549.4" y="404.2" font-size="13.8" text-anchor="end" fill="#111" >0</text>
<text x="549.4" y="361.5" font-size="13.8" text-anchor="end" fill="#111" >1</text>
<text x="549.4" y="318.8" font-size="13.8" text-anchor="end" fill="#111" >2</text>
<text x="549.4" y="276.1" font-size="13.8" text-anchor="end" fill="#111" >3</text>
<text transform="translate(535.6,337.6) rotate(-90)" font-size="12.8" text-anchor="middle" fill="#111" >Flow height <tspan font-style="italic">h</tspan> (m)</text>
<path d="M639.6,367.6 H682.1 M639.6,335.6 H682.1 M639.6,303.6 H682.1 M639.6,271.6 H682.1" stroke="#d6d6d6" stroke-width="1.1" fill="none"/>
<path d="M660.9,349.2 V340.1 M660.9,360.4 V374.8" stroke="#222" stroke-width="1.6"/>
<rect x="650.1" y="349.2" width="21.5" height="11.2" fill="#c3c3c3" stroke="#222" stroke-width="1.6"/>
<path d="M650.1,355.1 h21.5" stroke="#222" stroke-width="1.6"/>
<path d="M659.0,301.9 L662.8,301.9 L660.9,298.7Z" fill="#f36a2e"/>
<path d="M659.0,311.5 L662.8,311.5 L660.9,308.3Z" fill="#f36a2e"/>
<path d="M659.0,319.5 L662.8,319.5 L660.9,316.3Z" fill="#f36a2e"/>
<path d="M659.0,341.1 L662.8,341.1 L660.9,337.9Z" fill="#f36a2e"/>
<path d="M659.0,339.7 L662.8,339.7 L660.9,336.5Z" fill="#f36a2e"/>
<path d="M659.0,338.2 L662.8,338.2 L660.9,335.0Z" fill="#f36a2e"/>
<path d="M659.0,336.8 L662.8,336.8 L660.9,333.6Z" fill="#f36a2e"/>
<path d="M659.0,335.3 L662.8,335.3 L660.9,332.1Z" fill="#f36a2e"/>
<path d="M659.0,333.9 L662.8,333.9 L660.9,330.7Z" fill="#f36a2e"/>
<path d="M659.0,332.5 L662.8,332.5 L660.9,329.3Z" fill="#f36a2e"/>
<path d="M659.0,331.0 L662.8,331.0 L660.9,327.8Z" fill="#f36a2e"/>
<path d="M659.0,329.6 L662.8,329.6 L660.9,326.4Z" fill="#f36a2e"/>
<path d="M659.0,328.1 L662.8,328.1 L660.9,324.9Z" fill="#f36a2e"/>
<path d="M659.0,326.7 L662.8,326.7 L660.9,323.5Z" fill="#f36a2e"/>
<path d="M659.0,325.3 L662.8,325.3 L660.9,322.1Z" fill="#f36a2e"/>
<path d="M659.0,323.8 L662.8,323.8 L660.9,320.6Z" fill="#f36a2e"/>
<path d="M659.0,322.4 L662.8,322.4 L660.9,319.2Z" fill="#f36a2e"/>
<path d="M659.0,380.3 L662.8,380.3 L660.9,377.1Z" fill="#f36a2e"/>
<path d="M659.0,378.7 L662.8,378.7 L660.9,375.5Z" fill="#f36a2e"/>
<path d="M659.0,377.9 L662.8,377.9 L660.9,374.7Z" fill="#f36a2e"/>
<path d="M639.6,271.6 V399.6 H682.1 V271.6 M639.6,399.6 h3.5 M639.6,367.6 h3.5 M639.6,335.6 h3.5 M639.6,303.6 h3.5 M639.6,271.6 h3.5" stroke="#111" stroke-width="1.5" fill="none"/>
<path d="M660.9,400.20000000000005 v2.4" stroke="#aaa" stroke-width="1"/>
<text x="635.4" y="404.2" font-size="13.8" text-anchor="end" fill="#111" >0</text>
<text x="635.4" y="372.2" font-size="13.8" text-anchor="end" fill="#111" >2</text>
<text x="635.4" y="340.2" font-size="13.8" text-anchor="end" fill="#111" >4</text>
<text x="635.4" y="308.2" font-size="13.8" text-anchor="end" fill="#111" >6</text>
<text x="635.4" y="276.2" font-size="13.8" text-anchor="end" fill="#111" >8</text>
<text transform="translate(622.5,335.9) rotate(-90)" font-size="13" text-anchor="middle" fill="#f66a2e" >Median velocity (m/s)</text>
</svg>
</body></html>
